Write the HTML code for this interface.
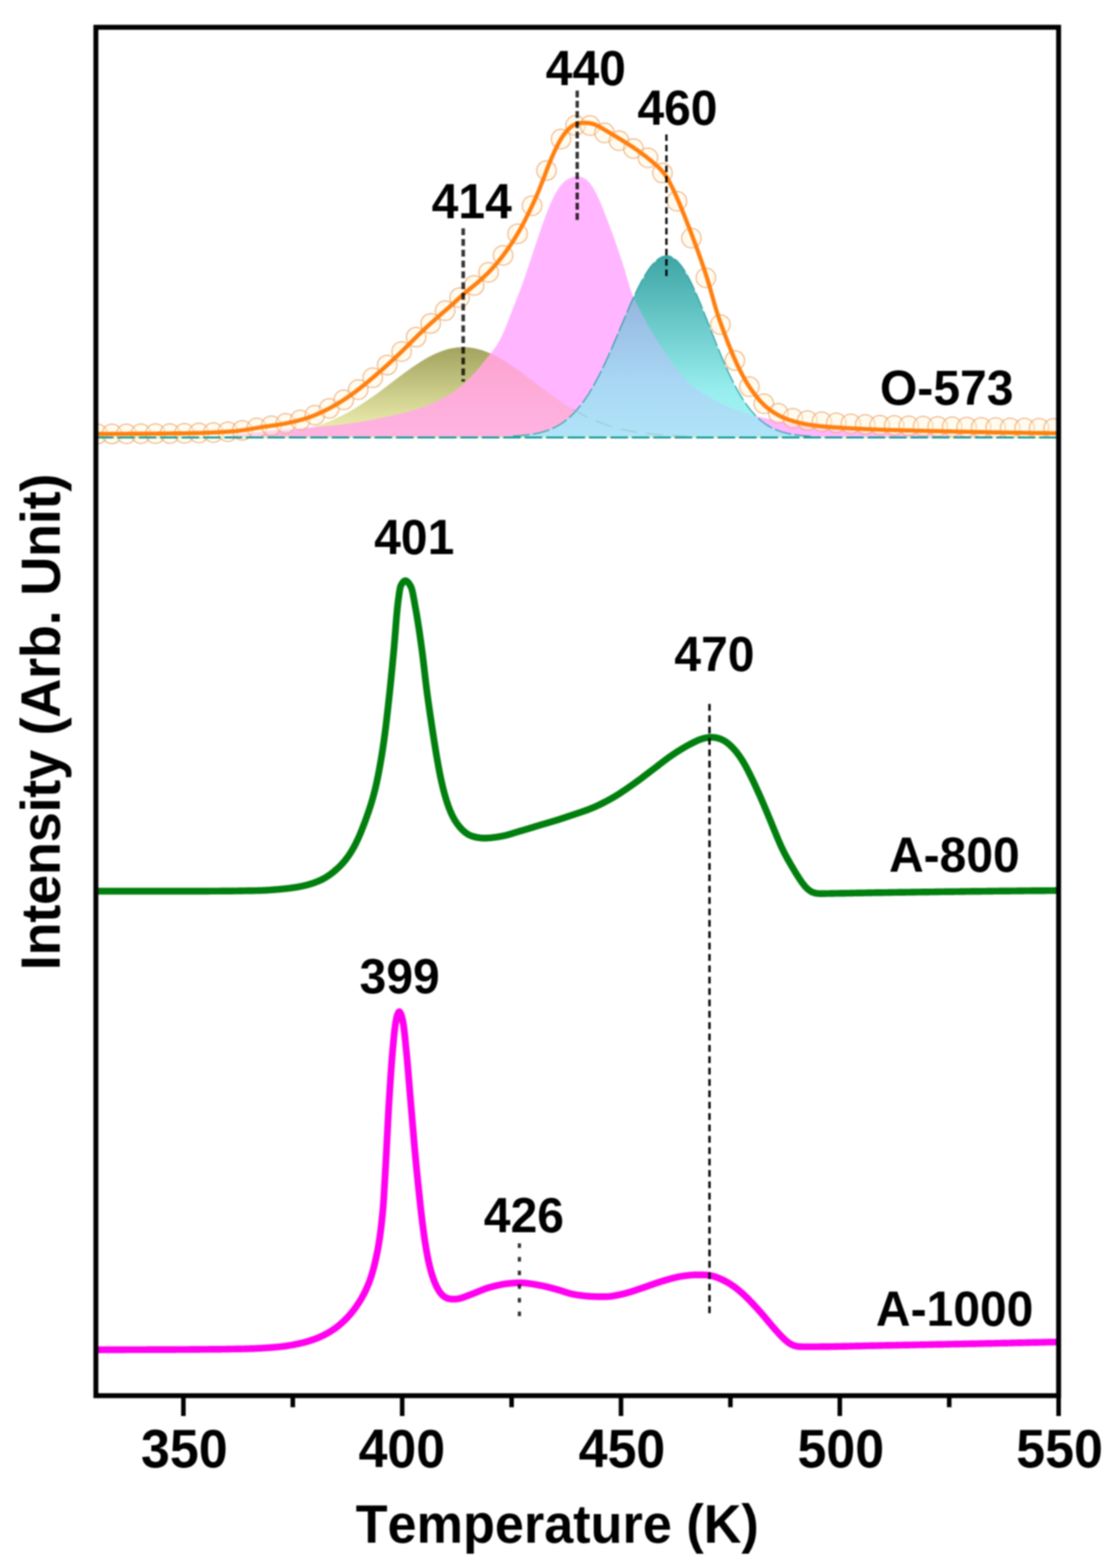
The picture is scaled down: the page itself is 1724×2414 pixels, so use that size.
<!DOCTYPE html>
<html lang="en">
<head>
<meta charset="utf-8">
<title>TPR profiles: O-573, A-800, A-1000</title>
<style>
html,body{margin:0;padding:0;background:#fff;}
body{width:1724px;height:2414px;overflow:hidden;}
svg{display:block;}
</style>
</head>
<body>
<svg width="1724" height="2414" viewBox="0 0 1724 2414">
<defs>
<linearGradient id="gOl" x1="0" y1="534" x2="0" y2="672" gradientUnits="userSpaceOnUse"><stop offset="0" stop-color="#a3a35f"/><stop offset="1" stop-color="#f3f3b4"/></linearGradient>
<linearGradient id="gTe" x1="0" y1="394" x2="0" y2="672" gradientUnits="userSpaceOnUse"><stop offset="0" stop-color="#3fa5a5"/><stop offset="0.75" stop-color="#98eeee"/><stop offset="1" stop-color="#a6f4f4"/></linearGradient>
<linearGradient id="gTP" x1="0" y1="450" x2="0" y2="672" gradientUnits="userSpaceOnUse"><stop offset="0" stop-color="#94b4dc"/><stop offset="0.6" stop-color="#a8d6f4"/><stop offset="1" stop-color="#b0e4f8"/></linearGradient>
<linearGradient id="gOP" x1="0" y1="540" x2="0" y2="672" gradientUnits="userSpaceOnUse"><stop offset="0" stop-color="#fda3d0"/><stop offset="1" stop-color="#ffb4e2"/></linearGradient>
<clipPath id="plot"><rect x="147.6" y="42.0" width="1481.9" height="2106.7"/></clipPath>
<filter id="soft" filterUnits="userSpaceOnUse" x="0" y="0" width="1724" height="2414" color-interpolation-filters="sRGB"><feGaussianBlur stdDeviation="0.8"/></filter>
</defs>
<rect width="1724" height="2414" fill="#fff"/>
<g filter="url(#soft)">
<rect width="1724" height="2414" fill="#fff"/>
<g id="peaks">
<path d="M147.6,672.5 L149.6,672.5 L151.6,672.5 L153.6,672.5 L155.6,672.5 L157.6,672.5 L159.6,672.5 L161.6,672.5 L163.6,672.5 L165.6,672.5 L167.6,672.5 L169.6,672.5 L171.6,672.5 L173.6,672.5 L175.6,672.5 L177.6,672.5 L179.6,672.5 L181.6,672.5 L183.6,672.5 L185.6,672.5 L187.6,672.5 L189.6,672.5 L191.6,672.5 L193.6,672.5 L195.6,672.5 L197.6,672.5 L199.6,672.5 L201.6,672.5 L203.6,672.5 L205.6,672.5 L207.6,672.5 L209.6,672.5 L211.6,672.5 L213.6,672.5 L215.6,672.5 L217.6,672.5 L219.6,672.5 L221.6,672.5 L223.6,672.5 L225.6,672.5 L227.6,672.5 L229.6,672.5 L231.6,672.5 L233.6,672.5 L235.6,672.5 L237.6,672.5 L239.6,672.5 L241.6,672.5 L243.6,672.5 L245.6,672.5 L247.6,672.5 L249.6,672.5 L251.6,672.5 L253.6,672.5 L255.6,672.5 L257.6,672.5 L259.6,672.5 L261.6,672.5 L263.6,672.5 L265.6,672.5 L267.6,672.5 L269.6,672.5 L271.6,672.5 L273.6,672.5 L275.6,672.4 L277.6,672.4 L279.6,672.4 L281.6,672.4 L283.6,672.4 L285.6,672.4 L287.6,672.4 L289.6,672.4 L291.6,672.4 L293.6,672.4 L295.6,672.4 L297.6,672.4 L299.6,672.4 L301.6,672.4 L303.6,672.4 L305.6,672.4 L307.6,672.3 L309.6,672.3 L311.6,672.3 L313.6,672.3 L315.6,672.3 L317.6,672.3 L319.6,672.3 L321.6,672.3 L323.6,672.2 L325.6,672.2 L327.6,672.2 L329.6,672.2 L331.6,672.2 L333.6,672.1 L335.6,672.1 L337.6,672.1 L339.6,672.1 L341.6,672.0 L343.6,672.0 L345.6,672.0 L347.6,671.9 L349.6,671.9 L351.6,671.9 L353.6,671.8 L355.6,671.8 L357.6,671.8 L359.6,671.7 L361.6,671.7 L363.6,671.6 L365.6,671.6 L367.6,671.5 L369.6,671.4 L371.6,671.4 L373.6,671.3 L375.6,671.2 L377.6,671.2 L379.6,671.1 L381.6,671.0 L383.6,670.9 L385.6,670.9 L387.6,670.8 L389.6,670.7 L391.6,670.6 L393.6,670.5 L395.6,670.4 L397.6,670.2 L399.6,670.1 L401.6,670.0 L403.6,669.9 L405.6,669.7 L407.6,669.6 L409.6,669.4 L411.6,669.3 L413.6,669.1 L415.6,668.9 L417.6,668.8 L419.6,668.6 L421.6,668.4 L423.6,668.2 L425.6,668.0 L427.6,667.7 L429.6,667.5 L431.6,667.3 L433.6,667.0 L435.6,666.8 L437.6,666.5 L439.6,666.2 L441.6,665.9 L443.6,665.6 L445.6,665.3 L447.6,665.0 L449.6,664.7 L451.6,664.3 L453.6,663.9 L455.6,663.6 L457.6,663.2 L459.6,662.8 L461.6,662.4 L463.6,661.9 L465.6,661.5 L467.6,661.0 L469.6,660.6 L471.6,660.1 L473.6,659.6 L475.6,659.1 L477.6,658.5 L479.6,658.0 L481.6,657.4 L483.6,656.8 L485.6,656.2 L487.6,655.6 L489.6,655.0 L491.6,654.3 L493.6,653.6 L495.6,652.9 L497.6,652.2 L499.6,651.5 L501.6,650.7 L503.6,650.0 L505.6,649.2 L507.6,648.4 L509.6,647.5 L511.6,646.7 L513.6,645.8 L515.6,644.9 L517.6,644.0 L519.6,643.1 L521.6,642.1 L523.6,641.2 L525.6,640.2 L527.6,639.2 L529.6,638.1 L531.6,637.1 L533.6,636.0 L535.6,634.9 L537.6,633.8 L539.6,632.7 L541.6,631.5 L543.6,630.3 L545.6,629.2 L547.6,627.9 L549.6,626.7 L551.6,625.5 L553.6,624.2 L555.6,622.9 L557.6,621.6 L559.6,620.3 L561.6,619.0 L563.6,617.6 L565.6,616.3 L567.6,614.9 L569.6,613.5 L571.6,612.1 L573.6,610.7 L575.6,609.2 L577.6,607.8 L579.6,606.4 L581.6,604.9 L583.6,603.4 L585.6,601.9 L587.6,600.4 L589.6,598.9 L591.6,597.4 L593.6,595.9 L595.6,594.4 L597.6,592.9 L599.6,591.4 L601.6,589.9 L603.6,588.3 L605.6,586.8 L607.6,585.3 L609.6,583.8 L611.6,582.3 L613.6,580.8 L615.6,579.3 L617.6,577.8 L619.6,576.3 L621.6,574.8 L623.6,573.3 L625.6,571.9 L627.6,570.4 L629.6,569.0 L631.6,567.6 L633.6,566.1 L635.6,564.8 L637.6,563.4 L639.6,562.0 L641.6,560.7 L643.6,559.4 L645.6,558.1 L647.6,556.9 L649.6,555.6 L651.6,554.4 L653.6,553.2 L655.6,552.1 L657.6,550.9 L659.6,549.8 L661.6,548.8 L663.6,547.7 L665.6,546.7 L667.6,545.8 L669.6,544.8 L671.6,543.9 L673.6,543.1 L675.6,542.3 L677.6,541.5 L679.6,540.7 L681.6,540.0 L683.6,539.3 L685.6,538.7 L687.6,538.1 L689.6,537.6 L691.6,537.1 L693.6,536.6 L695.6,536.2 L697.6,535.8 L699.6,535.5 L701.6,535.2 L703.6,535.0 L705.6,534.8 L707.6,534.7 L709.6,534.6 L711.6,534.5 L713.6,534.5 L715.6,534.5 L717.6,534.6 L719.6,534.7 L721.6,534.9 L723.6,535.1 L725.6,535.4 L727.6,535.7 L729.6,536.1 L731.6,536.5 L733.6,536.9 L735.6,537.4 L737.6,537.9 L739.6,538.5 L741.6,539.1 L743.6,539.7 L745.6,540.4 L747.6,541.2 L749.6,541.9 L751.6,542.7 L753.6,543.6 L755.6,544.5 L757.6,545.4 L759.6,546.3 L761.6,547.3 L763.6,548.4 L765.6,549.4 L767.6,550.5 L769.6,551.6 L771.6,552.8 L773.6,553.9 L775.6,555.1 L777.6,556.4 L779.6,557.6 L781.6,558.9 L783.6,560.2 L785.6,561.5 L787.6,562.9 L789.6,564.2 L791.6,565.6 L793.6,567.0 L795.6,568.4 L797.6,569.8 L799.6,571.3 L801.6,572.7 L803.6,574.2 L805.6,575.7 L807.6,577.2 L809.6,578.7 L811.6,580.2 L813.6,581.7 L815.6,583.2 L817.6,584.7 L819.6,586.2 L821.6,587.7 L823.6,589.3 L825.6,590.8 L827.6,592.3 L829.6,593.8 L831.6,595.3 L833.6,596.8 L835.6,598.3 L837.6,599.8 L839.6,601.3 L841.6,602.8 L843.6,604.3 L845.6,605.8 L847.6,607.2 L849.6,608.7 L851.6,610.1 L853.6,611.5 L855.6,612.9 L857.6,614.3 L859.6,615.7 L861.6,617.1 L863.6,618.4 L865.6,619.8 L867.6,621.1 L869.6,622.4 L871.6,623.7 L873.6,625.0 L875.6,626.2 L877.6,627.5 L879.6,628.7 L881.6,629.9 L883.6,631.0 L885.6,632.2 L887.6,633.3 L889.6,634.5 L891.6,635.6 L893.6,636.6 L895.6,637.7 L897.6,638.7 L899.6,639.8 L901.6,640.8 L903.6,641.7 L905.6,642.7 L907.6,643.6 L909.6,644.6 L911.6,645.5 L913.6,646.3 L915.6,647.2 L917.6,648.0 L919.6,648.8 L921.6,649.6 L923.6,650.4 L925.6,651.2 L927.6,651.9 L929.6,652.6 L931.6,653.3 L933.6,654.0 L935.6,654.7 L937.6,655.3 L939.6,656.0 L941.6,656.6 L943.6,657.2 L945.6,657.7 L947.6,658.3 L949.6,658.8 L951.6,659.4 L953.6,659.9 L955.6,660.4 L957.6,660.9 L959.6,661.3 L961.6,661.8 L963.6,662.2 L965.6,662.6 L967.6,663.0 L969.6,663.4 L971.6,663.8 L973.6,664.2 L975.6,664.5 L977.6,664.9 L979.6,665.2 L981.6,665.5 L983.6,665.8 L985.6,666.1 L987.6,666.4 L989.6,666.7 L991.6,666.9 L993.6,667.2 L995.6,667.4 L997.6,667.6 L999.6,667.9 L1001.6,668.1 L1003.6,668.3 L1005.6,668.5 L1007.6,668.7 L1009.6,668.9 L1011.6,669.0 L1013.6,669.2 L1015.6,669.4 L1017.6,669.5 L1019.6,669.7 L1021.6,669.8 L1023.6,669.9 L1025.6,670.1 L1027.6,670.2 L1029.6,670.3 L1031.6,670.4 L1033.6,670.5 L1035.6,670.6 L1037.6,670.7 L1039.6,670.8 L1041.6,670.9 L1043.6,671.0 L1045.6,671.1 L1047.6,671.1 L1049.6,671.2 L1051.6,671.3 L1053.6,671.4 L1055.6,671.4 L1057.6,671.5 L1059.6,671.5 L1061.6,671.6 L1063.6,671.6 L1065.6,671.7 L1067.6,671.7 L1069.6,671.8 L1071.6,671.8 L1073.6,671.9 L1075.6,671.9 L1077.6,671.9 L1079.6,672.0 L1081.6,672.0 L1083.6,672.0 L1085.6,672.1 L1087.6,672.1 L1089.6,672.1 L1091.6,672.1 L1093.6,672.2 L1095.6,672.2 L1097.6,672.2 L1099.6,672.2 L1101.6,672.2 L1103.6,672.2 L1105.6,672.3 L1107.6,672.3 L1109.6,672.3 L1111.6,672.3 L1113.6,672.3 L1115.6,672.3 L1117.6,672.3 L1119.6,672.4 L1121.6,672.4 L1123.6,672.4 L1125.6,672.4 L1127.6,672.4 L1129.6,672.4 L1131.6,672.4 L1133.6,672.4 L1135.6,672.4 L1137.6,672.4 L1139.6,672.4 L1141.6,672.4 L1143.6,672.4 L1145.6,672.4 L1147.6,672.4 L1149.6,672.4 L1151.6,672.5 L1153.6,672.5 L1155.6,672.5 L1157.6,672.5 L1159.6,672.5 L1161.6,672.5 L1163.6,672.5 L1165.6,672.5 L1167.6,672.5 L1169.6,672.5 L1171.6,672.5 L1173.6,672.5 L1175.6,672.5 L1177.6,672.5 L1179.6,672.5 L1181.6,672.5 L1183.6,672.5 L1185.6,672.5 L1187.6,672.5 L1189.6,672.5 L1191.6,672.5 L1193.6,672.5 L1195.6,672.5 L1197.6,672.5 L1199.6,672.5 L1201.6,672.5 L1203.6,672.5 L1205.6,672.5 L1207.6,672.5 L1209.6,672.5 L1211.6,672.5 L1213.6,672.5 L1215.6,672.5 L1217.6,672.5 L1219.6,672.5 L1221.6,672.5 L1223.6,672.5 L1225.6,672.5 L1227.6,672.5 L1229.6,672.5 L1231.6,672.5 L1233.6,672.5 L1235.6,672.5 L1237.6,672.5 L1239.6,672.5 L1241.6,672.5 L1243.6,672.5 L1245.6,672.5 L1247.6,672.5 L1249.6,672.5 L1251.6,672.5 L1253.6,672.5 L1255.6,672.5 L1257.6,672.5 L1259.6,672.5 L1261.6,672.5 L1263.6,672.5 L1265.6,672.5 L1267.6,672.5 L1269.6,672.5 L1271.6,672.5 L1273.6,672.5 L1275.6,672.5 L1277.6,672.5 L1279.6,672.5 L1281.6,672.5 L1283.6,672.5 L1285.6,672.5 L1287.6,672.5 L1289.6,672.5 L1291.6,672.5 L1293.6,672.5 L1295.6,672.5 L1297.6,672.5 L1299.6,672.5 L1301.6,672.5 L1303.6,672.5 L1305.6,672.5 L1307.6,672.5 L1309.6,672.5 L1311.6,672.5 L1313.6,672.5 L1315.6,672.5 L1317.6,672.5 L1319.6,672.5 L1321.6,672.5 L1323.6,672.5 L1325.6,672.5 L1327.6,672.5 L1329.6,672.5 L1331.6,672.5 L1333.6,672.5 L1335.6,672.5 L1337.6,672.5 L1339.6,672.5 L1341.6,672.5 L1343.6,672.5 L1345.6,672.5 L1347.6,672.5 L1349.6,672.5 L1351.6,672.5 L1353.6,672.5 L1355.6,672.5 L1357.6,672.5 L1359.6,672.5 L1361.6,672.5 L1363.6,672.5 L1365.6,672.5 L1367.6,672.5 L1369.6,672.5 L1371.6,672.5 L1373.6,672.5 L1375.6,672.5 L1377.6,672.5 L1379.6,672.5 L1381.6,672.5 L1383.6,672.5 L1385.6,672.5 L1387.6,672.5 L1389.6,672.5 L1391.6,672.5 L1393.6,672.5 L1395.6,672.5 L1397.6,672.5 L1399.6,672.5 L1401.6,672.5 L1403.6,672.5 L1405.6,672.5 L1407.6,672.5 L1409.6,672.5 L1411.6,672.5 L1413.6,672.5 L1415.6,672.5 L1417.6,672.5 L1419.6,672.5 L1421.6,672.5 L1423.6,672.5 L1425.6,672.5 L1427.6,672.5 L1429.6,672.5 L1431.6,672.5 L1433.6,672.5 L1435.6,672.5 L1437.6,672.5 L1439.6,672.5 L1441.6,672.5 L1443.6,672.5 L1445.6,672.5 L1447.6,672.5 L1449.6,672.5 L1451.6,672.5 L1453.6,672.5 L1455.6,672.5 L1457.6,672.5 L1459.6,672.5 L1461.6,672.5 L1463.6,672.5 L1465.6,672.5 L1467.6,672.5 L1469.6,672.5 L1471.6,672.5 L1473.6,672.5 L1475.6,672.5 L1477.6,672.5 L1479.6,672.5 L1481.6,672.5 L1483.6,672.5 L1485.6,672.5 L1487.6,672.5 L1489.6,672.5 L1491.6,672.5 L1493.6,672.5 L1495.6,672.5 L1497.6,672.5 L1499.6,672.5 L1501.6,672.5 L1503.6,672.5 L1505.6,672.5 L1507.6,672.5 L1509.6,672.5 L1511.6,672.5 L1513.6,672.5 L1515.6,672.5 L1517.6,672.5 L1519.6,672.5 L1521.6,672.5 L1523.6,672.5 L1525.6,672.5 L1527.6,672.5 L1529.6,672.5 L1531.6,672.5 L1533.6,672.5 L1535.6,672.5 L1537.6,672.5 L1539.6,672.5 L1541.6,672.5 L1543.6,672.5 L1545.6,672.5 L1547.6,672.5 L1549.6,672.5 L1551.6,672.5 L1553.6,672.5 L1555.6,672.5 L1557.6,672.5 L1559.6,672.5 L1561.6,672.5 L1563.6,672.5 L1565.6,672.5 L1567.6,672.5 L1569.6,672.5 L1571.6,672.5 L1573.6,672.5 L1575.6,672.5 L1577.6,672.5 L1579.6,672.5 L1581.6,672.5 L1583.6,672.5 L1585.6,672.5 L1587.6,672.5 L1589.6,672.5 L1591.6,672.5 L1593.6,672.5 L1595.6,672.5 L1597.6,672.5 L1599.6,672.5 L1601.6,672.5 L1603.6,672.5 L1605.6,672.5 L1607.6,672.5 L1609.6,672.5 L1611.6,672.5 L1613.6,672.5 L1615.6,672.5 L1617.6,672.5 L1619.6,672.5 L1621.6,672.5 L1623.6,672.5 L1625.6,672.5 L1627.6,672.5 L1627.6,672.5 L147.6,672.5 Z" fill="url(#gOl)"/>
<path d="M147.6,672.5 L149.6,672.5 L151.6,672.5 L153.6,672.5 L155.6,672.5 L157.6,672.5 L159.6,672.5 L161.6,672.5 L163.6,672.5 L165.6,672.5 L167.6,672.5 L169.6,672.5 L171.6,672.5 L173.6,672.5 L175.6,672.5 L177.6,672.5 L179.6,672.5 L181.6,672.5 L183.6,672.5 L185.6,672.5 L187.6,672.5 L189.6,672.5 L191.6,672.5 L193.6,672.5 L195.6,672.5 L197.6,672.5 L199.6,672.5 L201.6,672.5 L203.6,672.5 L205.6,672.5 L207.6,672.5 L209.6,672.5 L211.6,672.5 L213.6,672.5 L215.6,672.5 L217.6,672.5 L219.6,672.5 L221.6,672.5 L223.6,672.5 L225.6,672.5 L227.6,672.5 L229.6,672.5 L231.6,672.5 L233.6,672.5 L235.6,672.5 L237.6,672.5 L239.6,672.5 L241.6,672.5 L243.6,672.5 L245.6,672.5 L247.6,672.5 L249.6,672.5 L251.6,672.5 L253.6,672.5 L255.6,672.5 L257.6,672.5 L259.6,672.5 L261.6,672.5 L263.6,672.5 L265.6,672.5 L267.6,672.5 L269.6,672.5 L271.6,672.5 L273.6,672.5 L275.6,672.5 L277.6,672.5 L279.6,672.5 L281.6,672.5 L283.6,672.5 L285.6,672.5 L287.6,672.5 L289.6,672.5 L291.6,672.5 L293.6,672.5 L295.6,672.5 L297.6,672.5 L299.6,672.5 L301.6,672.5 L303.6,672.5 L305.6,672.5 L307.6,672.4 L309.6,672.4 L311.6,672.4 L313.6,672.3 L315.6,672.3 L317.6,672.3 L319.6,672.2 L321.6,672.2 L323.6,672.1 L325.6,672.0 L327.6,672.0 L329.6,671.9 L331.6,671.8 L333.6,671.7 L335.6,671.7 L337.6,671.6 L339.6,671.5 L341.6,671.4 L343.6,671.3 L345.6,671.1 L347.6,671.0 L349.6,670.8 L351.6,670.6 L353.6,670.4 L355.6,670.2 L357.6,669.9 L359.6,669.7 L361.6,669.5 L363.6,669.2 L365.6,669.0 L367.6,668.8 L369.6,668.5 L371.6,668.3 L373.6,668.1 L375.6,667.8 L377.6,667.6 L379.6,667.3 L381.6,667.1 L383.6,666.8 L385.6,666.5 L387.6,666.3 L389.6,666.0 L391.6,665.8 L393.6,665.5 L395.6,665.3 L397.6,665.1 L399.6,664.9 L401.6,664.7 L403.6,664.5 L405.6,664.3 L407.6,664.1 L409.6,663.9 L411.6,663.7 L413.6,663.6 L415.6,663.4 L417.6,663.3 L419.6,663.1 L421.6,662.9 L423.6,662.8 L425.6,662.6 L427.6,662.5 L429.6,662.3 L431.6,662.1 L433.6,662.0 L435.6,661.8 L437.6,661.6 L439.6,661.5 L441.6,661.3 L443.6,661.1 L445.6,661.0 L447.6,660.8 L449.6,660.6 L451.6,660.4 L453.6,660.3 L455.6,660.1 L457.6,659.9 L459.6,659.8 L461.6,659.6 L463.6,659.4 L465.6,659.2 L467.6,659.1 L469.6,658.9 L471.6,658.7 L473.6,658.5 L475.6,658.4 L477.6,658.2 L479.6,658.0 L481.6,657.8 L483.6,657.7 L485.6,657.5 L487.6,657.3 L489.6,657.2 L491.6,657.0 L493.6,656.8 L495.6,656.6 L497.6,656.5 L499.6,656.3 L501.6,656.1 L503.6,655.9 L505.6,655.7 L507.6,655.5 L509.6,655.3 L511.6,655.1 L513.6,654.9 L515.6,654.7 L517.6,654.5 L519.6,654.2 L521.6,654.0 L523.6,653.8 L525.6,653.5 L527.6,653.3 L529.6,653.1 L531.6,652.8 L533.6,652.5 L535.6,652.3 L537.6,652.0 L539.6,651.7 L541.6,651.5 L543.6,651.2 L545.6,650.9 L547.6,650.6 L549.6,650.3 L551.6,650.0 L553.6,649.7 L555.6,649.4 L557.6,649.0 L559.6,648.7 L561.6,648.4 L563.6,648.0 L565.6,647.6 L567.6,647.3 L569.6,646.9 L571.6,646.5 L573.6,646.2 L575.6,645.8 L577.6,645.4 L579.6,645.0 L581.6,644.6 L583.6,644.2 L585.6,643.8 L587.6,643.4 L589.6,643.0 L591.6,642.6 L593.6,642.1 L595.6,641.7 L597.6,641.2 L599.6,640.8 L601.6,640.4 L603.6,639.9 L605.6,639.5 L607.6,639.0 L609.6,638.6 L611.6,638.1 L613.6,637.7 L615.6,637.2 L617.6,636.8 L619.6,636.3 L621.6,635.8 L623.6,635.3 L625.6,634.8 L627.6,634.2 L629.6,633.7 L631.6,633.1 L633.6,632.5 L635.6,631.9 L637.6,631.3 L639.6,630.7 L641.6,630.1 L643.6,629.4 L645.6,628.8 L647.6,628.1 L649.6,627.5 L651.6,626.8 L653.6,626.0 L655.6,625.3 L657.6,624.5 L659.6,623.7 L661.6,622.9 L663.6,622.0 L665.6,621.1 L667.6,620.2 L669.6,619.2 L671.6,618.2 L673.6,617.2 L675.6,616.2 L677.6,615.2 L679.6,614.2 L681.6,613.1 L683.6,612.1 L685.6,611.0 L687.6,610.0 L689.6,608.9 L691.6,607.7 L693.6,606.5 L695.6,605.3 L697.6,604.1 L699.6,602.7 L701.6,601.3 L703.6,599.8 L705.6,598.2 L707.6,596.6 L709.6,594.9 L711.6,593.2 L713.6,591.4 L715.6,589.5 L717.6,587.6 L719.6,585.7 L721.6,583.7 L723.6,581.7 L725.6,579.6 L727.6,577.5 L729.6,575.3 L731.6,573.1 L733.6,570.9 L735.6,568.6 L737.6,566.3 L739.6,563.9 L741.6,561.5 L743.6,559.0 L745.6,556.5 L747.6,554.0 L749.6,551.5 L751.6,549.0 L753.6,546.5 L755.6,543.9 L757.6,541.3 L759.6,538.7 L761.6,535.9 L763.6,533.0 L765.6,529.9 L767.6,526.5 L769.6,522.9 L771.6,519.0 L773.6,514.8 L775.6,510.3 L777.6,505.5 L779.6,500.6 L781.6,495.5 L783.6,490.4 L785.6,485.2 L787.6,480.0 L789.6,474.7 L791.6,469.5 L793.6,464.4 L795.6,459.3 L797.6,454.2 L799.6,449.2 L801.6,444.0 L803.6,438.7 L805.6,433.1 L807.6,427.4 L809.6,421.4 L811.6,415.4 L813.6,409.4 L815.6,403.4 L817.6,397.4 L819.6,391.4 L821.6,385.3 L823.6,379.3 L825.6,373.3 L827.6,367.3 L829.6,361.4 L831.6,355.5 L833.6,349.7 L835.6,344.0 L837.6,338.4 L839.6,333.0 L841.6,327.7 L843.6,322.6 L845.6,317.8 L847.6,313.1 L849.6,308.7 L851.6,304.5 L853.6,300.6 L855.6,296.9 L857.6,293.5 L859.6,290.4 L861.6,287.6 L863.6,285.0 L865.6,282.7 L867.6,280.6 L869.6,278.9 L871.6,277.3 L873.6,276.0 L875.6,274.9 L877.6,274.0 L879.6,273.2 L881.6,272.6 L883.6,272.1 L885.6,271.8 L887.6,271.6 L889.6,271.7 L891.6,271.9 L893.6,272.3 L895.6,272.9 L897.6,273.7 L899.6,274.7 L901.6,276.0 L903.6,277.5 L905.6,279.4 L907.6,281.6 L909.6,284.2 L911.6,287.1 L913.6,290.3 L915.6,293.9 L917.6,297.7 L919.6,301.8 L921.6,306.1 L923.6,310.6 L925.6,315.3 L927.6,320.2 L929.6,325.2 L931.6,330.4 L933.6,335.5 L935.6,340.7 L937.6,345.9 L939.6,351.2 L941.6,356.5 L943.6,362.0 L945.6,367.6 L947.6,373.4 L949.6,379.3 L951.6,385.2 L953.6,391.0 L955.6,396.9 L957.6,402.7 L959.6,408.9 L961.6,415.3 L963.6,422.2 L965.6,429.2 L967.6,436.2 L969.6,442.9 L971.6,448.9 L973.6,454.2 L975.6,458.8 L977.6,463.0 L979.6,466.9 L981.6,470.7 L983.6,474.5 L985.6,478.4 L987.6,482.4 L989.6,486.3 L991.6,490.2 L993.6,494.1 L995.6,497.8 L997.6,501.4 L999.6,504.8 L1001.6,508.2 L1003.6,511.5 L1005.6,514.7 L1007.6,517.9 L1009.6,521.1 L1011.6,524.2 L1013.6,527.3 L1015.6,530.4 L1017.6,533.5 L1019.6,536.5 L1021.6,539.6 L1023.6,542.6 L1025.6,545.6 L1027.6,548.6 L1029.6,551.5 L1031.6,554.4 L1033.6,557.2 L1035.6,560.0 L1037.6,562.7 L1039.6,565.4 L1041.6,568.1 L1043.6,570.7 L1045.6,573.2 L1047.6,575.7 L1049.6,578.1 L1051.6,580.5 L1053.6,582.7 L1055.6,584.9 L1057.6,586.9 L1059.6,588.8 L1061.6,590.6 L1063.6,592.3 L1065.6,593.9 L1067.6,595.5 L1069.6,597.0 L1071.6,598.5 L1073.6,600.0 L1075.6,601.4 L1077.6,602.7 L1079.6,604.1 L1081.6,605.4 L1083.6,606.7 L1085.6,607.9 L1087.6,609.1 L1089.6,610.3 L1091.6,611.5 L1093.6,612.7 L1095.6,613.8 L1097.6,614.9 L1099.6,616.0 L1101.6,617.1 L1103.6,618.2 L1105.6,619.2 L1107.6,620.3 L1109.6,621.3 L1111.6,622.3 L1113.6,623.2 L1115.6,624.1 L1117.6,625.1 L1119.6,625.9 L1121.6,626.8 L1123.6,627.6 L1125.6,628.4 L1127.6,629.1 L1129.6,629.9 L1131.6,630.6 L1133.6,631.3 L1135.6,632.0 L1137.6,632.7 L1139.6,633.4 L1141.6,634.0 L1143.6,634.7 L1145.6,635.3 L1147.6,635.9 L1149.6,636.5 L1151.6,637.1 L1153.6,637.7 L1155.6,638.3 L1157.6,638.9 L1159.6,639.4 L1161.6,640.0 L1163.6,640.5 L1165.6,641.0 L1167.6,641.5 L1169.6,642.0 L1171.6,642.4 L1173.6,642.9 L1175.6,643.4 L1177.6,643.8 L1179.6,644.2 L1181.6,644.7 L1183.6,645.1 L1185.6,645.5 L1187.6,645.9 L1189.6,646.3 L1191.6,646.8 L1193.6,647.2 L1195.6,647.6 L1197.6,648.0 L1199.6,648.4 L1201.6,648.9 L1203.6,649.3 L1205.6,649.7 L1207.6,650.2 L1209.6,650.6 L1211.6,651.0 L1213.6,651.5 L1215.6,651.9 L1217.6,652.4 L1219.6,652.8 L1221.6,653.2 L1223.6,653.6 L1225.6,654.0 L1227.6,654.4 L1229.6,654.8 L1231.6,655.1 L1233.6,655.4 L1235.6,655.8 L1237.6,656.1 L1239.6,656.3 L1241.6,656.6 L1243.6,656.9 L1245.6,657.1 L1247.6,657.4 L1249.6,657.6 L1251.6,657.9 L1253.6,658.1 L1255.6,658.4 L1257.6,658.6 L1259.6,658.8 L1261.6,659.0 L1263.6,659.2 L1265.6,659.4 L1267.6,659.6 L1269.6,659.8 L1271.6,660.0 L1273.6,660.2 L1275.6,660.4 L1277.6,660.6 L1279.6,660.8 L1281.6,661.0 L1283.6,661.1 L1285.6,661.3 L1287.6,661.5 L1289.6,661.7 L1291.6,661.8 L1293.6,662.0 L1295.6,662.1 L1297.6,662.3 L1299.6,662.5 L1301.6,662.6 L1303.6,662.8 L1305.6,662.9 L1307.6,663.1 L1309.6,663.2 L1311.6,663.4 L1313.6,663.5 L1315.6,663.7 L1317.6,663.8 L1319.6,663.9 L1321.6,664.1 L1323.6,664.2 L1325.6,664.3 L1327.6,664.5 L1329.6,664.6 L1331.6,664.7 L1333.6,664.9 L1335.6,665.0 L1337.6,665.1 L1339.6,665.2 L1341.6,665.3 L1343.6,665.5 L1345.6,665.6 L1347.6,665.7 L1349.6,665.8 L1351.6,665.9 L1353.6,666.0 L1355.6,666.1 L1357.6,666.2 L1359.6,666.3 L1361.6,666.4 L1363.6,666.5 L1365.6,666.6 L1367.6,666.6 L1369.6,666.7 L1371.6,666.8 L1373.6,666.9 L1375.6,667.0 L1377.6,667.1 L1379.6,667.2 L1381.6,667.2 L1383.6,667.3 L1385.6,667.4 L1387.6,667.5 L1389.6,667.6 L1391.6,667.6 L1393.6,667.7 L1395.6,667.8 L1397.6,667.9 L1399.6,667.9 L1401.6,668.0 L1403.6,668.1 L1405.6,668.2 L1407.6,668.2 L1409.6,668.3 L1411.6,668.4 L1413.6,668.4 L1415.6,668.5 L1417.6,668.6 L1419.6,668.6 L1421.6,668.7 L1423.6,668.7 L1425.6,668.8 L1427.6,668.9 L1429.6,668.9 L1431.6,669.0 L1433.6,669.0 L1435.6,669.1 L1437.6,669.2 L1439.6,669.2 L1441.6,669.3 L1443.6,669.3 L1445.6,669.4 L1447.6,669.4 L1449.6,669.5 L1451.6,669.5 L1453.6,669.6 L1455.6,669.6 L1457.6,669.7 L1459.6,669.7 L1461.6,669.8 L1463.6,669.8 L1465.6,669.9 L1467.6,669.9 L1469.6,670.0 L1471.6,670.0 L1473.6,670.1 L1475.6,670.1 L1477.6,670.2 L1479.6,670.2 L1481.6,670.3 L1483.6,670.3 L1485.6,670.4 L1487.6,670.4 L1489.6,670.4 L1491.6,670.5 L1493.6,670.5 L1495.6,670.6 L1497.6,670.6 L1499.6,670.7 L1501.6,670.7 L1503.6,670.7 L1505.6,670.8 L1507.6,670.8 L1509.6,670.9 L1511.6,670.9 L1513.6,670.9 L1515.6,671.0 L1517.6,671.0 L1519.6,671.0 L1521.6,671.1 L1523.6,671.1 L1525.6,671.1 L1527.6,671.2 L1529.6,671.2 L1531.6,671.2 L1533.6,671.3 L1535.6,671.3 L1537.6,671.3 L1539.6,671.4 L1541.6,671.4 L1543.6,671.4 L1545.6,671.4 L1547.6,671.5 L1549.6,671.5 L1551.6,671.5 L1553.6,671.5 L1555.6,671.6 L1557.6,671.6 L1559.6,671.6 L1561.6,671.6 L1563.6,671.7 L1565.6,671.7 L1567.6,671.7 L1569.6,671.7 L1571.6,671.7 L1573.6,671.8 L1575.6,671.8 L1577.6,671.8 L1579.6,671.8 L1581.6,671.9 L1583.6,671.9 L1585.6,671.9 L1587.6,671.9 L1589.6,671.9 L1591.6,671.9 L1593.6,672.0 L1595.6,672.0 L1597.6,672.0 L1599.6,672.0 L1601.6,672.0 L1603.6,672.0 L1605.6,672.1 L1607.6,672.1 L1609.6,672.1 L1611.6,672.1 L1613.6,672.1 L1615.6,672.1 L1617.6,672.1 L1619.6,672.2 L1621.6,672.2 L1623.6,672.2 L1625.6,672.2 L1627.6,672.2 L1627.6,672.5 L147.6,672.5 Z" fill="#ffb5ff"/>
<path d="M147.6,672.5 L149.6,672.5 L151.6,672.5 L153.6,672.5 L155.6,672.5 L157.6,672.5 L159.6,672.5 L161.6,672.5 L163.6,672.5 L165.6,672.5 L167.6,672.5 L169.6,672.5 L171.6,672.5 L173.6,672.5 L175.6,672.5 L177.6,672.5 L179.6,672.5 L181.6,672.5 L183.6,672.5 L185.6,672.5 L187.6,672.5 L189.6,672.5 L191.6,672.5 L193.6,672.5 L195.6,672.5 L197.6,672.5 L199.6,672.5 L201.6,672.5 L203.6,672.5 L205.6,672.5 L207.6,672.5 L209.6,672.5 L211.6,672.5 L213.6,672.5 L215.6,672.5 L217.6,672.5 L219.6,672.5 L221.6,672.5 L223.6,672.5 L225.6,672.5 L227.6,672.5 L229.6,672.5 L231.6,672.5 L233.6,672.5 L235.6,672.5 L237.6,672.5 L239.6,672.5 L241.6,672.5 L243.6,672.5 L245.6,672.5 L247.6,672.5 L249.6,672.5 L251.6,672.5 L253.6,672.5 L255.6,672.5 L257.6,672.5 L259.6,672.5 L261.6,672.5 L263.6,672.5 L265.6,672.5 L267.6,672.5 L269.6,672.5 L271.6,672.5 L273.6,672.5 L275.6,672.5 L277.6,672.5 L279.6,672.5 L281.6,672.5 L283.6,672.5 L285.6,672.5 L287.6,672.5 L289.6,672.5 L291.6,672.5 L293.6,672.5 L295.6,672.5 L297.6,672.5 L299.6,672.5 L301.6,672.5 L303.6,672.5 L305.6,672.5 L307.6,672.4 L309.6,672.4 L311.6,672.4 L313.6,672.3 L315.6,672.3 L317.6,672.3 L319.6,672.3 L321.6,672.3 L323.6,672.2 L325.6,672.2 L327.6,672.2 L329.6,672.2 L331.6,672.2 L333.6,672.1 L335.6,672.1 L337.6,672.1 L339.6,672.1 L341.6,672.0 L343.6,672.0 L345.6,672.0 L347.6,671.9 L349.6,671.9 L351.6,671.9 L353.6,671.8 L355.6,671.8 L357.6,671.8 L359.6,671.7 L361.6,671.7 L363.6,671.6 L365.6,671.6 L367.6,671.5 L369.6,671.4 L371.6,671.4 L373.6,671.3 L375.6,671.2 L377.6,671.2 L379.6,671.1 L381.6,671.0 L383.6,670.9 L385.6,670.9 L387.6,670.8 L389.6,670.7 L391.6,670.6 L393.6,670.5 L395.6,670.4 L397.6,670.2 L399.6,670.1 L401.6,670.0 L403.6,669.9 L405.6,669.7 L407.6,669.6 L409.6,669.4 L411.6,669.3 L413.6,669.1 L415.6,668.9 L417.6,668.8 L419.6,668.6 L421.6,668.4 L423.6,668.2 L425.6,668.0 L427.6,667.7 L429.6,667.5 L431.6,667.3 L433.6,667.0 L435.6,666.8 L437.6,666.5 L439.6,666.2 L441.6,665.9 L443.6,665.6 L445.6,665.3 L447.6,665.0 L449.6,664.7 L451.6,664.3 L453.6,663.9 L455.6,663.6 L457.6,663.2 L459.6,662.8 L461.6,662.4 L463.6,661.9 L465.6,661.5 L467.6,661.0 L469.6,660.6 L471.6,660.1 L473.6,659.6 L475.6,659.1 L477.6,658.5 L479.6,658.0 L481.6,657.8 L483.6,657.7 L485.6,657.5 L487.6,657.3 L489.6,657.2 L491.6,657.0 L493.6,656.8 L495.6,656.6 L497.6,656.5 L499.6,656.3 L501.6,656.1 L503.6,655.9 L505.6,655.7 L507.6,655.5 L509.6,655.3 L511.6,655.1 L513.6,654.9 L515.6,654.7 L517.6,654.5 L519.6,654.2 L521.6,654.0 L523.6,653.8 L525.6,653.5 L527.6,653.3 L529.6,653.1 L531.6,652.8 L533.6,652.5 L535.6,652.3 L537.6,652.0 L539.6,651.7 L541.6,651.5 L543.6,651.2 L545.6,650.9 L547.6,650.6 L549.6,650.3 L551.6,650.0 L553.6,649.7 L555.6,649.4 L557.6,649.0 L559.6,648.7 L561.6,648.4 L563.6,648.0 L565.6,647.6 L567.6,647.3 L569.6,646.9 L571.6,646.5 L573.6,646.2 L575.6,645.8 L577.6,645.4 L579.6,645.0 L581.6,644.6 L583.6,644.2 L585.6,643.8 L587.6,643.4 L589.6,643.0 L591.6,642.6 L593.6,642.1 L595.6,641.7 L597.6,641.2 L599.6,640.8 L601.6,640.4 L603.6,639.9 L605.6,639.5 L607.6,639.0 L609.6,638.6 L611.6,638.1 L613.6,637.7 L615.6,637.2 L617.6,636.8 L619.6,636.3 L621.6,635.8 L623.6,635.3 L625.6,634.8 L627.6,634.2 L629.6,633.7 L631.6,633.1 L633.6,632.5 L635.6,631.9 L637.6,631.3 L639.6,630.7 L641.6,630.1 L643.6,629.4 L645.6,628.8 L647.6,628.1 L649.6,627.5 L651.6,626.8 L653.6,626.0 L655.6,625.3 L657.6,624.5 L659.6,623.7 L661.6,622.9 L663.6,622.0 L665.6,621.1 L667.6,620.2 L669.6,619.2 L671.6,618.2 L673.6,617.2 L675.6,616.2 L677.6,615.2 L679.6,614.2 L681.6,613.1 L683.6,612.1 L685.6,611.0 L687.6,610.0 L689.6,608.9 L691.6,607.7 L693.6,606.5 L695.6,605.3 L697.6,604.1 L699.6,602.7 L701.6,601.3 L703.6,599.8 L705.6,598.2 L707.6,596.6 L709.6,594.9 L711.6,593.2 L713.6,591.4 L715.6,589.5 L717.6,587.6 L719.6,585.7 L721.6,583.7 L723.6,581.7 L725.6,579.6 L727.6,577.5 L729.6,575.3 L731.6,573.1 L733.6,570.9 L735.6,568.6 L737.6,566.3 L739.6,563.9 L741.6,561.5 L743.6,559.0 L745.6,556.5 L747.6,554.0 L749.6,551.5 L751.6,549.0 L753.6,546.5 L755.6,544.5 L757.6,545.4 L759.6,546.3 L761.6,547.3 L763.6,548.4 L765.6,549.4 L767.6,550.5 L769.6,551.6 L771.6,552.8 L773.6,553.9 L775.6,555.1 L777.6,556.4 L779.6,557.6 L781.6,558.9 L783.6,560.2 L785.6,561.5 L787.6,562.9 L789.6,564.2 L791.6,565.6 L793.6,567.0 L795.6,568.4 L797.6,569.8 L799.6,571.3 L801.6,572.7 L803.6,574.2 L805.6,575.7 L807.6,577.2 L809.6,578.7 L811.6,580.2 L813.6,581.7 L815.6,583.2 L817.6,584.7 L819.6,586.2 L821.6,587.7 L823.6,589.3 L825.6,590.8 L827.6,592.3 L829.6,593.8 L831.6,595.3 L833.6,596.8 L835.6,598.3 L837.6,599.8 L839.6,601.3 L841.6,602.8 L843.6,604.3 L845.6,605.8 L847.6,607.2 L849.6,608.7 L851.6,610.1 L853.6,611.5 L855.6,612.9 L857.6,614.3 L859.6,615.7 L861.6,617.1 L863.6,618.4 L865.6,619.8 L867.6,621.1 L869.6,622.4 L871.6,623.7 L873.6,625.0 L875.6,626.2 L877.6,627.5 L879.6,628.7 L881.6,629.9 L883.6,631.0 L885.6,632.2 L887.6,633.3 L889.6,634.5 L891.6,635.6 L893.6,636.6 L895.6,637.7 L897.6,638.7 L899.6,639.8 L901.6,640.8 L903.6,641.7 L905.6,642.7 L907.6,643.6 L909.6,644.6 L911.6,645.5 L913.6,646.3 L915.6,647.2 L917.6,648.0 L919.6,648.8 L921.6,649.6 L923.6,650.4 L925.6,651.2 L927.6,651.9 L929.6,652.6 L931.6,653.3 L933.6,654.0 L935.6,654.7 L937.6,655.3 L939.6,656.0 L941.6,656.6 L943.6,657.2 L945.6,657.7 L947.6,658.3 L949.6,658.8 L951.6,659.4 L953.6,659.9 L955.6,660.4 L957.6,660.9 L959.6,661.3 L961.6,661.8 L963.6,662.2 L965.6,662.6 L967.6,663.0 L969.6,663.4 L971.6,663.8 L973.6,664.2 L975.6,664.5 L977.6,664.9 L979.6,665.2 L981.6,665.5 L983.6,665.8 L985.6,666.1 L987.6,666.4 L989.6,666.7 L991.6,666.9 L993.6,667.2 L995.6,667.4 L997.6,667.6 L999.6,667.9 L1001.6,668.1 L1003.6,668.3 L1005.6,668.5 L1007.6,668.7 L1009.6,668.9 L1011.6,669.0 L1013.6,669.2 L1015.6,669.4 L1017.6,669.5 L1019.6,669.7 L1021.6,669.8 L1023.6,669.9 L1025.6,670.1 L1027.6,670.2 L1029.6,670.3 L1031.6,670.4 L1033.6,670.5 L1035.6,670.6 L1037.6,670.7 L1039.6,670.8 L1041.6,670.9 L1043.6,671.0 L1045.6,671.1 L1047.6,671.1 L1049.6,671.2 L1051.6,671.3 L1053.6,671.4 L1055.6,671.4 L1057.6,671.5 L1059.6,671.5 L1061.6,671.6 L1063.6,671.6 L1065.6,671.7 L1067.6,671.7 L1069.6,671.8 L1071.6,671.8 L1073.6,671.9 L1075.6,671.9 L1077.6,671.9 L1079.6,672.0 L1081.6,672.0 L1083.6,672.0 L1085.6,672.1 L1087.6,672.1 L1089.6,672.1 L1091.6,672.1 L1093.6,672.2 L1095.6,672.2 L1097.6,672.2 L1099.6,672.2 L1101.6,672.2 L1103.6,672.2 L1105.6,672.3 L1107.6,672.3 L1109.6,672.3 L1111.6,672.3 L1113.6,672.3 L1115.6,672.3 L1117.6,672.3 L1119.6,672.4 L1121.6,672.4 L1123.6,672.4 L1125.6,672.4 L1127.6,672.4 L1129.6,672.4 L1131.6,672.4 L1133.6,672.4 L1135.6,672.4 L1137.6,672.4 L1139.6,672.4 L1141.6,672.4 L1143.6,672.4 L1145.6,672.4 L1147.6,672.4 L1149.6,672.4 L1151.6,672.5 L1153.6,672.5 L1155.6,672.5 L1157.6,672.5 L1159.6,672.5 L1161.6,672.5 L1163.6,672.5 L1165.6,672.5 L1167.6,672.5 L1169.6,672.5 L1171.6,672.5 L1173.6,672.5 L1175.6,672.5 L1177.6,672.5 L1179.6,672.5 L1181.6,672.5 L1183.6,672.5 L1185.6,672.5 L1187.6,672.5 L1189.6,672.5 L1191.6,672.5 L1193.6,672.5 L1195.6,672.5 L1197.6,672.5 L1199.6,672.5 L1201.6,672.5 L1203.6,672.5 L1205.6,672.5 L1207.6,672.5 L1209.6,672.5 L1211.6,672.5 L1213.6,672.5 L1215.6,672.5 L1217.6,672.5 L1219.6,672.5 L1221.6,672.5 L1223.6,672.5 L1225.6,672.5 L1227.6,672.5 L1229.6,672.5 L1231.6,672.5 L1233.6,672.5 L1235.6,672.5 L1237.6,672.5 L1239.6,672.5 L1241.6,672.5 L1243.6,672.5 L1245.6,672.5 L1247.6,672.5 L1249.6,672.5 L1251.6,672.5 L1253.6,672.5 L1255.6,672.5 L1257.6,672.5 L1259.6,672.5 L1261.6,672.5 L1263.6,672.5 L1265.6,672.5 L1267.6,672.5 L1269.6,672.5 L1271.6,672.5 L1273.6,672.5 L1275.6,672.5 L1277.6,672.5 L1279.6,672.5 L1281.6,672.5 L1283.6,672.5 L1285.6,672.5 L1287.6,672.5 L1289.6,672.5 L1291.6,672.5 L1293.6,672.5 L1295.6,672.5 L1297.6,672.5 L1299.6,672.5 L1301.6,672.5 L1303.6,672.5 L1305.6,672.5 L1307.6,672.5 L1309.6,672.5 L1311.6,672.5 L1313.6,672.5 L1315.6,672.5 L1317.6,672.5 L1319.6,672.5 L1321.6,672.5 L1323.6,672.5 L1325.6,672.5 L1327.6,672.5 L1329.6,672.5 L1331.6,672.5 L1333.6,672.5 L1335.6,672.5 L1337.6,672.5 L1339.6,672.5 L1341.6,672.5 L1343.6,672.5 L1345.6,672.5 L1347.6,672.5 L1349.6,672.5 L1351.6,672.5 L1353.6,672.5 L1355.6,672.5 L1357.6,672.5 L1359.6,672.5 L1361.6,672.5 L1363.6,672.5 L1365.6,672.5 L1367.6,672.5 L1369.6,672.5 L1371.6,672.5 L1373.6,672.5 L1375.6,672.5 L1377.6,672.5 L1379.6,672.5 L1381.6,672.5 L1383.6,672.5 L1385.6,672.5 L1387.6,672.5 L1389.6,672.5 L1391.6,672.5 L1393.6,672.5 L1395.6,672.5 L1397.6,672.5 L1399.6,672.5 L1401.6,672.5 L1403.6,672.5 L1405.6,672.5 L1407.6,672.5 L1409.6,672.5 L1411.6,672.5 L1413.6,672.5 L1415.6,672.5 L1417.6,672.5 L1419.6,672.5 L1421.6,672.5 L1423.6,672.5 L1425.6,672.5 L1427.6,672.5 L1429.6,672.5 L1431.6,672.5 L1433.6,672.5 L1435.6,672.5 L1437.6,672.5 L1439.6,672.5 L1441.6,672.5 L1443.6,672.5 L1445.6,672.5 L1447.6,672.5 L1449.6,672.5 L1451.6,672.5 L1453.6,672.5 L1455.6,672.5 L1457.6,672.5 L1459.6,672.5 L1461.6,672.5 L1463.6,672.5 L1465.6,672.5 L1467.6,672.5 L1469.6,672.5 L1471.6,672.5 L1473.6,672.5 L1475.6,672.5 L1477.6,672.5 L1479.6,672.5 L1481.6,672.5 L1483.6,672.5 L1485.6,672.5 L1487.6,672.5 L1489.6,672.5 L1491.6,672.5 L1493.6,672.5 L1495.6,672.5 L1497.6,672.5 L1499.6,672.5 L1501.6,672.5 L1503.6,672.5 L1505.6,672.5 L1507.6,672.5 L1509.6,672.5 L1511.6,672.5 L1513.6,672.5 L1515.6,672.5 L1517.6,672.5 L1519.6,672.5 L1521.6,672.5 L1523.6,672.5 L1525.6,672.5 L1527.6,672.5 L1529.6,672.5 L1531.6,672.5 L1533.6,672.5 L1535.6,672.5 L1537.6,672.5 L1539.6,672.5 L1541.6,672.5 L1543.6,672.5 L1545.6,672.5 L1547.6,672.5 L1549.6,672.5 L1551.6,672.5 L1553.6,672.5 L1555.6,672.5 L1557.6,672.5 L1559.6,672.5 L1561.6,672.5 L1563.6,672.5 L1565.6,672.5 L1567.6,672.5 L1569.6,672.5 L1571.6,672.5 L1573.6,672.5 L1575.6,672.5 L1577.6,672.5 L1579.6,672.5 L1581.6,672.5 L1583.6,672.5 L1585.6,672.5 L1587.6,672.5 L1589.6,672.5 L1591.6,672.5 L1593.6,672.5 L1595.6,672.5 L1597.6,672.5 L1599.6,672.5 L1601.6,672.5 L1603.6,672.5 L1605.6,672.5 L1607.6,672.5 L1609.6,672.5 L1611.6,672.5 L1613.6,672.5 L1615.6,672.5 L1617.6,672.5 L1619.6,672.5 L1621.6,672.5 L1623.6,672.5 L1625.6,672.5 L1627.6,672.5 L1627.6,672.5 L147.6,672.5 Z" fill="url(#gOP)"/>
<path d="M147.6,672.5 L149.6,672.5 L151.6,672.5 L153.6,672.5 L155.6,672.5 L157.6,672.5 L159.6,672.5 L161.6,672.5 L163.6,672.5 L165.6,672.5 L167.6,672.5 L169.6,672.5 L171.6,672.5 L173.6,672.5 L175.6,672.5 L177.6,672.5 L179.6,672.5 L181.6,672.5 L183.6,672.5 L185.6,672.5 L187.6,672.5 L189.6,672.5 L191.6,672.5 L193.6,672.5 L195.6,672.5 L197.6,672.5 L199.6,672.5 L201.6,672.5 L203.6,672.5 L205.6,672.5 L207.6,672.5 L209.6,672.5 L211.6,672.5 L213.6,672.5 L215.6,672.5 L217.6,672.5 L219.6,672.5 L221.6,672.5 L223.6,672.5 L225.6,672.5 L227.6,672.5 L229.6,672.5 L231.6,672.5 L233.6,672.5 L235.6,672.5 L237.6,672.5 L239.6,672.5 L241.6,672.5 L243.6,672.5 L245.6,672.5 L247.6,672.5 L249.6,672.5 L251.6,672.5 L253.6,672.5 L255.6,672.5 L257.6,672.5 L259.6,672.5 L261.6,672.5 L263.6,672.5 L265.6,672.5 L267.6,672.5 L269.6,672.5 L271.6,672.5 L273.6,672.5 L275.6,672.5 L277.6,672.5 L279.6,672.5 L281.6,672.5 L283.6,672.5 L285.6,672.5 L287.6,672.5 L289.6,672.5 L291.6,672.5 L293.6,672.5 L295.6,672.5 L297.6,672.5 L299.6,672.5 L301.6,672.5 L303.6,672.5 L305.6,672.5 L307.6,672.5 L309.6,672.5 L311.6,672.5 L313.6,672.5 L315.6,672.5 L317.6,672.5 L319.6,672.5 L321.6,672.5 L323.6,672.5 L325.6,672.5 L327.6,672.5 L329.6,672.5 L331.6,672.5 L333.6,672.5 L335.6,672.5 L337.6,672.5 L339.6,672.5 L341.6,672.5 L343.6,672.5 L345.6,672.5 L347.6,672.5 L349.6,672.5 L351.6,672.5 L353.6,672.5 L355.6,672.5 L357.6,672.5 L359.6,672.5 L361.6,672.5 L363.6,672.5 L365.6,672.5 L367.6,672.5 L369.6,672.5 L371.6,672.5 L373.6,672.5 L375.6,672.5 L377.6,672.5 L379.6,672.5 L381.6,672.5 L383.6,672.5 L385.6,672.5 L387.6,672.5 L389.6,672.5 L391.6,672.5 L393.6,672.5 L395.6,672.5 L397.6,672.5 L399.6,672.5 L401.6,672.5 L403.6,672.5 L405.6,672.5 L407.6,672.5 L409.6,672.5 L411.6,672.5 L413.6,672.5 L415.6,672.5 L417.6,672.5 L419.6,672.5 L421.6,672.5 L423.6,672.5 L425.6,672.5 L427.6,672.5 L429.6,672.5 L431.6,672.5 L433.6,672.5 L435.6,672.5 L437.6,672.5 L439.6,672.5 L441.6,672.5 L443.6,672.5 L445.6,672.5 L447.6,672.5 L449.6,672.5 L451.6,672.5 L453.6,672.5 L455.6,672.5 L457.6,672.5 L459.6,672.5 L461.6,672.5 L463.6,672.5 L465.6,672.5 L467.6,672.5 L469.6,672.5 L471.6,672.5 L473.6,672.5 L475.6,672.5 L477.6,672.5 L479.6,672.5 L481.6,672.5 L483.6,672.5 L485.6,672.5 L487.6,672.5 L489.6,672.5 L491.6,672.5 L493.6,672.5 L495.6,672.5 L497.6,672.5 L499.6,672.5 L501.6,672.5 L503.6,672.5 L505.6,672.5 L507.6,672.5 L509.6,672.5 L511.6,672.5 L513.6,672.5 L515.6,672.5 L517.6,672.5 L519.6,672.5 L521.6,672.5 L523.6,672.5 L525.6,672.5 L527.6,672.5 L529.6,672.5 L531.6,672.5 L533.6,672.5 L535.6,672.5 L537.6,672.5 L539.6,672.5 L541.6,672.5 L543.6,672.5 L545.6,672.5 L547.6,672.5 L549.6,672.5 L551.6,672.5 L553.6,672.5 L555.6,672.5 L557.6,672.5 L559.6,672.5 L561.6,672.5 L563.6,672.5 L565.6,672.5 L567.6,672.5 L569.6,672.5 L571.6,672.5 L573.6,672.5 L575.6,672.5 L577.6,672.5 L579.6,672.5 L581.6,672.5 L583.6,672.5 L585.6,672.5 L587.6,672.5 L589.6,672.5 L591.6,672.5 L593.6,672.5 L595.6,672.5 L597.6,672.5 L599.6,672.5 L601.6,672.5 L603.6,672.5 L605.6,672.5 L607.6,672.5 L609.6,672.5 L611.6,672.5 L613.6,672.5 L615.6,672.5 L617.6,672.5 L619.6,672.5 L621.6,672.5 L623.6,672.5 L625.6,672.5 L627.6,672.5 L629.6,672.5 L631.6,672.5 L633.6,672.5 L635.6,672.5 L637.6,672.5 L639.6,672.5 L641.6,672.5 L643.6,672.5 L645.6,672.5 L647.6,672.5 L649.6,672.5 L651.6,672.5 L653.6,672.5 L655.6,672.5 L657.6,672.5 L659.6,672.5 L661.6,672.5 L663.6,672.5 L665.6,672.5 L667.6,672.5 L669.6,672.5 L671.6,672.5 L673.6,672.5 L675.6,672.5 L677.6,672.5 L679.6,672.5 L681.6,672.5 L683.6,672.5 L685.6,672.5 L687.6,672.5 L689.6,672.5 L691.6,672.5 L693.6,672.5 L695.6,672.5 L697.6,672.5 L699.6,672.5 L701.6,672.5 L703.6,672.5 L705.6,672.5 L707.6,672.5 L709.6,672.5 L711.6,672.5 L713.6,672.5 L715.6,672.5 L717.6,672.5 L719.6,672.5 L721.6,672.5 L723.6,672.5 L725.6,672.5 L727.6,672.5 L729.6,672.5 L731.6,672.5 L733.6,672.4 L735.6,672.4 L737.6,672.4 L739.6,672.4 L741.6,672.4 L743.6,672.4 L745.6,672.4 L747.6,672.4 L749.6,672.4 L751.6,672.3 L753.6,672.3 L755.6,672.3 L757.6,672.3 L759.6,672.3 L761.6,672.2 L763.6,672.2 L765.6,672.2 L767.6,672.1 L769.6,672.1 L771.6,672.1 L773.6,672.0 L775.6,672.0 L777.6,671.9 L779.6,671.8 L781.6,671.8 L783.6,671.7 L785.6,671.6 L787.6,671.5 L789.6,671.4 L791.6,671.3 L793.6,671.2 L795.6,671.1 L797.6,671.0 L799.6,670.8 L801.6,670.7 L803.6,670.5 L805.6,670.3 L807.6,670.1 L809.6,669.9 L811.6,669.6 L813.6,669.4 L815.6,669.1 L817.6,668.8 L819.6,668.5 L821.6,668.2 L823.6,667.8 L825.6,667.4 L827.6,667.0 L829.6,666.5 L831.6,666.1 L833.6,665.6 L835.6,665.0 L837.6,664.4 L839.6,663.8 L841.6,663.1 L843.6,662.4 L845.6,661.7 L847.6,660.9 L849.6,660.0 L851.6,659.1 L853.6,658.1 L855.6,657.1 L857.6,656.1 L859.6,654.9 L861.6,653.7 L863.6,652.5 L865.6,651.1 L867.6,649.7 L869.6,648.3 L871.6,646.7 L873.6,645.1 L875.6,643.4 L877.6,641.6 L879.6,639.7 L881.6,637.8 L883.6,635.8 L885.6,633.6 L887.6,631.4 L889.6,629.1 L891.6,626.7 L893.6,624.2 L895.6,621.6 L897.6,618.9 L899.6,616.1 L901.6,613.2 L903.6,610.2 L905.6,607.2 L907.6,604.0 L909.6,600.7 L911.6,597.3 L913.6,593.8 L915.6,590.3 L917.6,586.6 L919.6,582.8 L921.6,579.0 L923.6,575.1 L925.6,571.0 L927.6,566.9 L929.6,562.8 L931.6,558.5 L933.6,554.2 L935.6,549.8 L937.6,545.3 L939.6,540.8 L941.6,536.3 L943.6,531.6 L945.6,527.0 L947.6,522.3 L949.6,517.6 L951.6,512.9 L953.6,508.1 L955.6,503.3 L957.6,498.6 L959.6,493.8 L961.6,489.1 L963.6,484.4 L965.6,479.7 L967.6,475.1 L969.6,470.5 L971.6,466.0 L973.6,461.5 L975.6,457.1 L977.6,452.8 L979.6,448.6 L981.6,444.5 L983.6,440.5 L985.6,436.6 L987.6,432.8 L989.6,429.2 L991.6,425.7 L993.6,422.4 L995.6,419.2 L997.6,416.1 L999.6,413.3 L1001.6,410.6 L1003.6,408.1 L1005.6,405.8 L1007.6,403.7 L1009.6,401.8 L1011.6,400.1 L1013.6,398.6 L1015.6,397.3 L1017.6,396.2 L1019.6,395.3 L1021.6,394.7 L1023.6,394.2 L1025.6,394.0 L1027.6,394.0 L1029.6,394.3 L1031.6,394.8 L1033.6,395.6 L1035.6,396.6 L1037.6,397.9 L1039.6,399.4 L1041.6,401.2 L1043.6,403.2 L1045.6,405.4 L1047.6,407.9 L1049.6,410.5 L1051.6,413.4 L1053.6,416.5 L1055.6,419.8 L1057.6,423.3 L1059.6,426.9 L1061.6,430.7 L1063.6,434.7 L1065.6,438.8 L1067.6,443.1 L1069.6,447.5 L1071.6,452.0 L1073.6,456.6 L1075.6,461.3 L1077.6,466.1 L1079.6,471.0 L1081.6,475.9 L1083.6,480.9 L1085.6,486.0 L1087.6,491.1 L1089.6,496.2 L1091.6,501.3 L1093.6,506.4 L1095.6,511.5 L1097.6,516.6 L1099.6,521.7 L1101.6,526.7 L1103.6,531.7 L1105.6,536.7 L1107.6,541.6 L1109.6,546.4 L1111.6,551.2 L1113.6,555.9 L1115.6,560.5 L1117.6,565.1 L1119.6,569.5 L1121.6,573.9 L1123.6,578.1 L1125.6,582.3 L1127.6,586.3 L1129.6,590.3 L1131.6,594.1 L1133.6,597.9 L1135.6,601.5 L1137.6,605.0 L1139.6,608.4 L1141.6,611.6 L1143.6,614.8 L1145.6,617.8 L1147.6,620.8 L1149.6,623.6 L1151.6,626.3 L1153.6,628.9 L1155.6,631.4 L1157.6,633.8 L1159.6,636.0 L1161.6,638.2 L1163.6,640.3 L1165.6,642.3 L1167.6,644.2 L1169.6,646.0 L1171.6,647.7 L1173.6,649.3 L1175.6,650.8 L1177.6,652.2 L1179.6,653.6 L1181.6,654.9 L1183.6,656.1 L1185.6,657.3 L1187.6,658.3 L1189.6,659.4 L1191.6,660.3 L1193.6,661.2 L1195.6,662.0 L1197.6,662.8 L1199.6,663.6 L1201.6,664.3 L1203.6,664.9 L1205.6,665.5 L1207.6,666.0 L1209.6,666.6 L1211.6,667.0 L1213.6,667.5 L1215.6,667.9 L1217.6,668.3 L1219.6,668.6 L1221.6,669.0 L1223.6,669.3 L1225.6,669.6 L1227.6,669.8 L1229.6,670.1 L1231.6,670.3 L1233.6,670.5 L1235.6,670.7 L1237.6,670.8 L1239.6,671.0 L1241.6,671.1 L1243.6,671.3 L1245.6,671.4 L1247.6,671.5 L1249.6,671.6 L1251.6,671.7 L1253.6,671.8 L1255.6,671.8 L1257.6,671.9 L1259.6,672.0 L1261.6,672.0 L1263.6,672.1 L1265.6,672.1 L1267.6,672.1 L1269.6,672.2 L1271.6,672.2 L1273.6,672.2 L1275.6,672.3 L1277.6,672.3 L1279.6,672.3 L1281.6,672.3 L1283.6,672.4 L1285.6,672.4 L1287.6,672.4 L1289.6,672.4 L1291.6,672.4 L1293.6,672.4 L1295.6,672.4 L1297.6,672.4 L1299.6,672.4 L1301.6,672.5 L1303.6,672.5 L1305.6,672.5 L1307.6,672.5 L1309.6,672.5 L1311.6,672.5 L1313.6,672.5 L1315.6,672.5 L1317.6,672.5 L1319.6,672.5 L1321.6,672.5 L1323.6,672.5 L1325.6,672.5 L1327.6,672.5 L1329.6,672.5 L1331.6,672.5 L1333.6,672.5 L1335.6,672.5 L1337.6,672.5 L1339.6,672.5 L1341.6,672.5 L1343.6,672.5 L1345.6,672.5 L1347.6,672.5 L1349.6,672.5 L1351.6,672.5 L1353.6,672.5 L1355.6,672.5 L1357.6,672.5 L1359.6,672.5 L1361.6,672.5 L1363.6,672.5 L1365.6,672.5 L1367.6,672.5 L1369.6,672.5 L1371.6,672.5 L1373.6,672.5 L1375.6,672.5 L1377.6,672.5 L1379.6,672.5 L1381.6,672.5 L1383.6,672.5 L1385.6,672.5 L1387.6,672.5 L1389.6,672.5 L1391.6,672.5 L1393.6,672.5 L1395.6,672.5 L1397.6,672.5 L1399.6,672.5 L1401.6,672.5 L1403.6,672.5 L1405.6,672.5 L1407.6,672.5 L1409.6,672.5 L1411.6,672.5 L1413.6,672.5 L1415.6,672.5 L1417.6,672.5 L1419.6,672.5 L1421.6,672.5 L1423.6,672.5 L1425.6,672.5 L1427.6,672.5 L1429.6,672.5 L1431.6,672.5 L1433.6,672.5 L1435.6,672.5 L1437.6,672.5 L1439.6,672.5 L1441.6,672.5 L1443.6,672.5 L1445.6,672.5 L1447.6,672.5 L1449.6,672.5 L1451.6,672.5 L1453.6,672.5 L1455.6,672.5 L1457.6,672.5 L1459.6,672.5 L1461.6,672.5 L1463.6,672.5 L1465.6,672.5 L1467.6,672.5 L1469.6,672.5 L1471.6,672.5 L1473.6,672.5 L1475.6,672.5 L1477.6,672.5 L1479.6,672.5 L1481.6,672.5 L1483.6,672.5 L1485.6,672.5 L1487.6,672.5 L1489.6,672.5 L1491.6,672.5 L1493.6,672.5 L1495.6,672.5 L1497.6,672.5 L1499.6,672.5 L1501.6,672.5 L1503.6,672.5 L1505.6,672.5 L1507.6,672.5 L1509.6,672.5 L1511.6,672.5 L1513.6,672.5 L1515.6,672.5 L1517.6,672.5 L1519.6,672.5 L1521.6,672.5 L1523.6,672.5 L1525.6,672.5 L1527.6,672.5 L1529.6,672.5 L1531.6,672.5 L1533.6,672.5 L1535.6,672.5 L1537.6,672.5 L1539.6,672.5 L1541.6,672.5 L1543.6,672.5 L1545.6,672.5 L1547.6,672.5 L1549.6,672.5 L1551.6,672.5 L1553.6,672.5 L1555.6,672.5 L1557.6,672.5 L1559.6,672.5 L1561.6,672.5 L1563.6,672.5 L1565.6,672.5 L1567.6,672.5 L1569.6,672.5 L1571.6,672.5 L1573.6,672.5 L1575.6,672.5 L1577.6,672.5 L1579.6,672.5 L1581.6,672.5 L1583.6,672.5 L1585.6,672.5 L1587.6,672.5 L1589.6,672.5 L1591.6,672.5 L1593.6,672.5 L1595.6,672.5 L1597.6,672.5 L1599.6,672.5 L1601.6,672.5 L1603.6,672.5 L1605.6,672.5 L1607.6,672.5 L1609.6,672.5 L1611.6,672.5 L1613.6,672.5 L1615.6,672.5 L1617.6,672.5 L1619.6,672.5 L1621.6,672.5 L1623.6,672.5 L1625.6,672.5 L1627.6,672.5 L1627.6,672.5 L147.6,672.5 Z" fill="url(#gTe)"/>
<path d="M147.6,672.5 L149.6,672.5 L151.6,672.5 L153.6,672.5 L155.6,672.5 L157.6,672.5 L159.6,672.5 L161.6,672.5 L163.6,672.5 L165.6,672.5 L167.6,672.5 L169.6,672.5 L171.6,672.5 L173.6,672.5 L175.6,672.5 L177.6,672.5 L179.6,672.5 L181.6,672.5 L183.6,672.5 L185.6,672.5 L187.6,672.5 L189.6,672.5 L191.6,672.5 L193.6,672.5 L195.6,672.5 L197.6,672.5 L199.6,672.5 L201.6,672.5 L203.6,672.5 L205.6,672.5 L207.6,672.5 L209.6,672.5 L211.6,672.5 L213.6,672.5 L215.6,672.5 L217.6,672.5 L219.6,672.5 L221.6,672.5 L223.6,672.5 L225.6,672.5 L227.6,672.5 L229.6,672.5 L231.6,672.5 L233.6,672.5 L235.6,672.5 L237.6,672.5 L239.6,672.5 L241.6,672.5 L243.6,672.5 L245.6,672.5 L247.6,672.5 L249.6,672.5 L251.6,672.5 L253.6,672.5 L255.6,672.5 L257.6,672.5 L259.6,672.5 L261.6,672.5 L263.6,672.5 L265.6,672.5 L267.6,672.5 L269.6,672.5 L271.6,672.5 L273.6,672.5 L275.6,672.5 L277.6,672.5 L279.6,672.5 L281.6,672.5 L283.6,672.5 L285.6,672.5 L287.6,672.5 L289.6,672.5 L291.6,672.5 L293.6,672.5 L295.6,672.5 L297.6,672.5 L299.6,672.5 L301.6,672.5 L303.6,672.5 L305.6,672.5 L307.6,672.5 L309.6,672.5 L311.6,672.5 L313.6,672.5 L315.6,672.5 L317.6,672.5 L319.6,672.5 L321.6,672.5 L323.6,672.5 L325.6,672.5 L327.6,672.5 L329.6,672.5 L331.6,672.5 L333.6,672.5 L335.6,672.5 L337.6,672.5 L339.6,672.5 L341.6,672.5 L343.6,672.5 L345.6,672.5 L347.6,672.5 L349.6,672.5 L351.6,672.5 L353.6,672.5 L355.6,672.5 L357.6,672.5 L359.6,672.5 L361.6,672.5 L363.6,672.5 L365.6,672.5 L367.6,672.5 L369.6,672.5 L371.6,672.5 L373.6,672.5 L375.6,672.5 L377.6,672.5 L379.6,672.5 L381.6,672.5 L383.6,672.5 L385.6,672.5 L387.6,672.5 L389.6,672.5 L391.6,672.5 L393.6,672.5 L395.6,672.5 L397.6,672.5 L399.6,672.5 L401.6,672.5 L403.6,672.5 L405.6,672.5 L407.6,672.5 L409.6,672.5 L411.6,672.5 L413.6,672.5 L415.6,672.5 L417.6,672.5 L419.6,672.5 L421.6,672.5 L423.6,672.5 L425.6,672.5 L427.6,672.5 L429.6,672.5 L431.6,672.5 L433.6,672.5 L435.6,672.5 L437.6,672.5 L439.6,672.5 L441.6,672.5 L443.6,672.5 L445.6,672.5 L447.6,672.5 L449.6,672.5 L451.6,672.5 L453.6,672.5 L455.6,672.5 L457.6,672.5 L459.6,672.5 L461.6,672.5 L463.6,672.5 L465.6,672.5 L467.6,672.5 L469.6,672.5 L471.6,672.5 L473.6,672.5 L475.6,672.5 L477.6,672.5 L479.6,672.5 L481.6,672.5 L483.6,672.5 L485.6,672.5 L487.6,672.5 L489.6,672.5 L491.6,672.5 L493.6,672.5 L495.6,672.5 L497.6,672.5 L499.6,672.5 L501.6,672.5 L503.6,672.5 L505.6,672.5 L507.6,672.5 L509.6,672.5 L511.6,672.5 L513.6,672.5 L515.6,672.5 L517.6,672.5 L519.6,672.5 L521.6,672.5 L523.6,672.5 L525.6,672.5 L527.6,672.5 L529.6,672.5 L531.6,672.5 L533.6,672.5 L535.6,672.5 L537.6,672.5 L539.6,672.5 L541.6,672.5 L543.6,672.5 L545.6,672.5 L547.6,672.5 L549.6,672.5 L551.6,672.5 L553.6,672.5 L555.6,672.5 L557.6,672.5 L559.6,672.5 L561.6,672.5 L563.6,672.5 L565.6,672.5 L567.6,672.5 L569.6,672.5 L571.6,672.5 L573.6,672.5 L575.6,672.5 L577.6,672.5 L579.6,672.5 L581.6,672.5 L583.6,672.5 L585.6,672.5 L587.6,672.5 L589.6,672.5 L591.6,672.5 L593.6,672.5 L595.6,672.5 L597.6,672.5 L599.6,672.5 L601.6,672.5 L603.6,672.5 L605.6,672.5 L607.6,672.5 L609.6,672.5 L611.6,672.5 L613.6,672.5 L615.6,672.5 L617.6,672.5 L619.6,672.5 L621.6,672.5 L623.6,672.5 L625.6,672.5 L627.6,672.5 L629.6,672.5 L631.6,672.5 L633.6,672.5 L635.6,672.5 L637.6,672.5 L639.6,672.5 L641.6,672.5 L643.6,672.5 L645.6,672.5 L647.6,672.5 L649.6,672.5 L651.6,672.5 L653.6,672.5 L655.6,672.5 L657.6,672.5 L659.6,672.5 L661.6,672.5 L663.6,672.5 L665.6,672.5 L667.6,672.5 L669.6,672.5 L671.6,672.5 L673.6,672.5 L675.6,672.5 L677.6,672.5 L679.6,672.5 L681.6,672.5 L683.6,672.5 L685.6,672.5 L687.6,672.5 L689.6,672.5 L691.6,672.5 L693.6,672.5 L695.6,672.5 L697.6,672.5 L699.6,672.5 L701.6,672.5 L703.6,672.5 L705.6,672.5 L707.6,672.5 L709.6,672.5 L711.6,672.5 L713.6,672.5 L715.6,672.5 L717.6,672.5 L719.6,672.5 L721.6,672.5 L723.6,672.5 L725.6,672.5 L727.6,672.5 L729.6,672.5 L731.6,672.5 L733.6,672.4 L735.6,672.4 L737.6,672.4 L739.6,672.4 L741.6,672.4 L743.6,672.4 L745.6,672.4 L747.6,672.4 L749.6,672.4 L751.6,672.3 L753.6,672.3 L755.6,672.3 L757.6,672.3 L759.6,672.3 L761.6,672.2 L763.6,672.2 L765.6,672.2 L767.6,672.1 L769.6,672.1 L771.6,672.1 L773.6,672.0 L775.6,672.0 L777.6,671.9 L779.6,671.8 L781.6,671.8 L783.6,671.7 L785.6,671.6 L787.6,671.5 L789.6,671.4 L791.6,671.3 L793.6,671.2 L795.6,671.1 L797.6,671.0 L799.6,670.8 L801.6,670.7 L803.6,670.5 L805.6,670.3 L807.6,670.1 L809.6,669.9 L811.6,669.6 L813.6,669.4 L815.6,669.1 L817.6,668.8 L819.6,668.5 L821.6,668.2 L823.6,667.8 L825.6,667.4 L827.6,667.0 L829.6,666.5 L831.6,666.1 L833.6,665.6 L835.6,665.0 L837.6,664.4 L839.6,663.8 L841.6,663.1 L843.6,662.4 L845.6,661.7 L847.6,660.9 L849.6,660.0 L851.6,659.1 L853.6,658.1 L855.6,657.1 L857.6,656.1 L859.6,654.9 L861.6,653.7 L863.6,652.5 L865.6,651.1 L867.6,649.7 L869.6,648.3 L871.6,646.7 L873.6,645.1 L875.6,643.4 L877.6,641.6 L879.6,639.7 L881.6,637.8 L883.6,635.8 L885.6,633.6 L887.6,631.4 L889.6,629.1 L891.6,626.7 L893.6,624.2 L895.6,621.6 L897.6,618.9 L899.6,616.1 L901.6,613.2 L903.6,610.2 L905.6,607.2 L907.6,604.0 L909.6,600.7 L911.6,597.3 L913.6,593.8 L915.6,590.3 L917.6,586.6 L919.6,582.8 L921.6,579.0 L923.6,575.1 L925.6,571.0 L927.6,566.9 L929.6,562.8 L931.6,558.5 L933.6,554.2 L935.6,549.8 L937.6,545.3 L939.6,540.8 L941.6,536.3 L943.6,531.6 L945.6,527.0 L947.6,522.3 L949.6,517.6 L951.6,512.9 L953.6,508.1 L955.6,503.3 L957.6,498.6 L959.6,493.8 L961.6,489.1 L963.6,484.4 L965.6,479.7 L967.6,475.1 L969.6,470.5 L971.6,466.0 L973.6,461.5 L975.6,458.8 L977.6,463.0 L979.6,466.9 L981.6,470.7 L983.6,474.5 L985.6,478.4 L987.6,482.4 L989.6,486.3 L991.6,490.2 L993.6,494.1 L995.6,497.8 L997.6,501.4 L999.6,504.8 L1001.6,508.2 L1003.6,511.5 L1005.6,514.7 L1007.6,517.9 L1009.6,521.1 L1011.6,524.2 L1013.6,527.3 L1015.6,530.4 L1017.6,533.5 L1019.6,536.5 L1021.6,539.6 L1023.6,542.6 L1025.6,545.6 L1027.6,548.6 L1029.6,551.5 L1031.6,554.4 L1033.6,557.2 L1035.6,560.0 L1037.6,562.7 L1039.6,565.4 L1041.6,568.1 L1043.6,570.7 L1045.6,573.2 L1047.6,575.7 L1049.6,578.1 L1051.6,580.5 L1053.6,582.7 L1055.6,584.9 L1057.6,586.9 L1059.6,588.8 L1061.6,590.6 L1063.6,592.3 L1065.6,593.9 L1067.6,595.5 L1069.6,597.0 L1071.6,598.5 L1073.6,600.0 L1075.6,601.4 L1077.6,602.7 L1079.6,604.1 L1081.6,605.4 L1083.6,606.7 L1085.6,607.9 L1087.6,609.1 L1089.6,610.3 L1091.6,611.5 L1093.6,612.7 L1095.6,613.8 L1097.6,614.9 L1099.6,616.0 L1101.6,617.1 L1103.6,618.2 L1105.6,619.2 L1107.6,620.3 L1109.6,621.3 L1111.6,622.3 L1113.6,623.2 L1115.6,624.1 L1117.6,625.1 L1119.6,625.9 L1121.6,626.8 L1123.6,627.6 L1125.6,628.4 L1127.6,629.1 L1129.6,629.9 L1131.6,630.6 L1133.6,631.3 L1135.6,632.0 L1137.6,632.7 L1139.6,633.4 L1141.6,634.0 L1143.6,634.7 L1145.6,635.3 L1147.6,635.9 L1149.6,636.5 L1151.6,637.1 L1153.6,637.7 L1155.6,638.3 L1157.6,638.9 L1159.6,639.4 L1161.6,640.0 L1163.6,640.5 L1165.6,642.3 L1167.6,644.2 L1169.6,646.0 L1171.6,647.7 L1173.6,649.3 L1175.6,650.8 L1177.6,652.2 L1179.6,653.6 L1181.6,654.9 L1183.6,656.1 L1185.6,657.3 L1187.6,658.3 L1189.6,659.4 L1191.6,660.3 L1193.6,661.2 L1195.6,662.0 L1197.6,662.8 L1199.6,663.6 L1201.6,664.3 L1203.6,664.9 L1205.6,665.5 L1207.6,666.0 L1209.6,666.6 L1211.6,667.0 L1213.6,667.5 L1215.6,667.9 L1217.6,668.3 L1219.6,668.6 L1221.6,669.0 L1223.6,669.3 L1225.6,669.6 L1227.6,669.8 L1229.6,670.1 L1231.6,670.3 L1233.6,670.5 L1235.6,670.7 L1237.6,670.8 L1239.6,671.0 L1241.6,671.1 L1243.6,671.3 L1245.6,671.4 L1247.6,671.5 L1249.6,671.6 L1251.6,671.7 L1253.6,671.8 L1255.6,671.8 L1257.6,671.9 L1259.6,672.0 L1261.6,672.0 L1263.6,672.1 L1265.6,672.1 L1267.6,672.1 L1269.6,672.2 L1271.6,672.2 L1273.6,672.2 L1275.6,672.3 L1277.6,672.3 L1279.6,672.3 L1281.6,672.3 L1283.6,672.4 L1285.6,672.4 L1287.6,672.4 L1289.6,672.4 L1291.6,672.4 L1293.6,672.4 L1295.6,672.4 L1297.6,672.4 L1299.6,672.4 L1301.6,672.5 L1303.6,672.5 L1305.6,672.5 L1307.6,672.5 L1309.6,672.5 L1311.6,672.5 L1313.6,672.5 L1315.6,672.5 L1317.6,672.5 L1319.6,672.5 L1321.6,672.5 L1323.6,672.5 L1325.6,672.5 L1327.6,672.5 L1329.6,672.5 L1331.6,672.5 L1333.6,672.5 L1335.6,672.5 L1337.6,672.5 L1339.6,672.5 L1341.6,672.5 L1343.6,672.5 L1345.6,672.5 L1347.6,672.5 L1349.6,672.5 L1351.6,672.5 L1353.6,672.5 L1355.6,672.5 L1357.6,672.5 L1359.6,672.5 L1361.6,672.5 L1363.6,672.5 L1365.6,672.5 L1367.6,672.5 L1369.6,672.5 L1371.6,672.5 L1373.6,672.5 L1375.6,672.5 L1377.6,672.5 L1379.6,672.5 L1381.6,672.5 L1383.6,672.5 L1385.6,672.5 L1387.6,672.5 L1389.6,672.5 L1391.6,672.5 L1393.6,672.5 L1395.6,672.5 L1397.6,672.5 L1399.6,672.5 L1401.6,672.5 L1403.6,672.5 L1405.6,672.5 L1407.6,672.5 L1409.6,672.5 L1411.6,672.5 L1413.6,672.5 L1415.6,672.5 L1417.6,672.5 L1419.6,672.5 L1421.6,672.5 L1423.6,672.5 L1425.6,672.5 L1427.6,672.5 L1429.6,672.5 L1431.6,672.5 L1433.6,672.5 L1435.6,672.5 L1437.6,672.5 L1439.6,672.5 L1441.6,672.5 L1443.6,672.5 L1445.6,672.5 L1447.6,672.5 L1449.6,672.5 L1451.6,672.5 L1453.6,672.5 L1455.6,672.5 L1457.6,672.5 L1459.6,672.5 L1461.6,672.5 L1463.6,672.5 L1465.6,672.5 L1467.6,672.5 L1469.6,672.5 L1471.6,672.5 L1473.6,672.5 L1475.6,672.5 L1477.6,672.5 L1479.6,672.5 L1481.6,672.5 L1483.6,672.5 L1485.6,672.5 L1487.6,672.5 L1489.6,672.5 L1491.6,672.5 L1493.6,672.5 L1495.6,672.5 L1497.6,672.5 L1499.6,672.5 L1501.6,672.5 L1503.6,672.5 L1505.6,672.5 L1507.6,672.5 L1509.6,672.5 L1511.6,672.5 L1513.6,672.5 L1515.6,672.5 L1517.6,672.5 L1519.6,672.5 L1521.6,672.5 L1523.6,672.5 L1525.6,672.5 L1527.6,672.5 L1529.6,672.5 L1531.6,672.5 L1533.6,672.5 L1535.6,672.5 L1537.6,672.5 L1539.6,672.5 L1541.6,672.5 L1543.6,672.5 L1545.6,672.5 L1547.6,672.5 L1549.6,672.5 L1551.6,672.5 L1553.6,672.5 L1555.6,672.5 L1557.6,672.5 L1559.6,672.5 L1561.6,672.5 L1563.6,672.5 L1565.6,672.5 L1567.6,672.5 L1569.6,672.5 L1571.6,672.5 L1573.6,672.5 L1575.6,672.5 L1577.6,672.5 L1579.6,672.5 L1581.6,672.5 L1583.6,672.5 L1585.6,672.5 L1587.6,672.5 L1589.6,672.5 L1591.6,672.5 L1593.6,672.5 L1595.6,672.5 L1597.6,672.5 L1599.6,672.5 L1601.6,672.5 L1603.6,672.5 L1605.6,672.5 L1607.6,672.5 L1609.6,672.5 L1611.6,672.5 L1613.6,672.5 L1615.6,672.5 L1617.6,672.5 L1619.6,672.5 L1621.6,672.5 L1623.6,672.5 L1625.6,672.5 L1627.6,672.5 L1627.6,672.5 L147.6,672.5 Z" fill="url(#gTP)"/>
<path d="M789.6,671.4 L791.6,671.3 L793.6,671.2 L795.6,671.1 L797.6,671.0 L799.6,670.8 L801.6,670.7 L803.6,670.5 L805.6,670.3 L807.6,670.1 L809.6,669.9 L811.6,669.6 L813.6,669.4 L815.6,669.1 L817.6,668.8 L819.6,668.5 L821.6,668.2 L823.6,667.8 L825.6,667.4 L827.6,667.0 L829.6,666.5 L831.6,666.1 L833.6,665.6 L835.6,665.0 L837.6,664.4 L839.6,663.8 L841.6,663.1 L843.6,662.4 L845.6,661.7 L847.6,660.9 L849.6,660.0 L851.6,659.1 L853.6,658.1 L855.6,657.1 L857.6,656.1 L859.6,654.9 L861.6,653.7 L863.6,652.5 L865.6,651.1 L867.6,649.7 L869.6,648.3 L871.6,646.7 L873.6,645.1 L875.6,643.4 L877.6,641.6 L879.6,639.7 L881.6,637.8 L883.6,635.8 L885.6,633.6 L887.6,631.4 L889.6,629.1 L891.6,626.7 L893.6,624.2 L895.6,621.6 L897.6,618.9 L899.6,616.1 L901.6,613.2 L903.6,610.2 L905.6,607.2 L907.6,604.0 L909.6,600.7 L911.6,597.3 L913.6,593.8 L915.6,590.3 L917.6,586.6 L919.6,582.8 L921.6,579.0 L923.6,575.1 L925.6,571.0 L927.6,566.9 L929.6,562.8 L931.6,558.5 L933.6,554.2 L935.6,549.8 L937.6,545.3 L939.6,540.8 L941.6,536.3 L943.6,531.6 L945.6,527.0 L947.6,522.3 L949.6,517.6 L951.6,512.9 L953.6,508.1 L955.6,503.3 L957.6,498.6 L959.6,493.8 L961.6,489.1 L963.6,484.4 L965.6,479.7 L967.6,475.1 L969.6,470.5 L971.6,466.0 L973.6,461.5 L975.6,457.1 L977.6,452.8 L979.6,448.6 L981.6,444.5 L983.6,440.5 L985.6,436.6 L987.6,432.8 L989.6,429.2 L991.6,425.7 L993.6,422.4 L995.6,419.2 L997.6,416.1 L999.6,413.3 L1001.6,410.6 L1003.6,408.1 L1005.6,405.8 L1007.6,403.7 L1009.6,401.8 L1011.6,400.1 L1013.6,398.6 L1015.6,397.3 L1017.6,396.2 L1019.6,395.3 L1021.6,394.7 L1023.6,394.2 L1025.6,394.0 L1027.6,394.0 L1029.6,394.3 L1031.6,394.8 L1033.6,395.6 L1035.6,396.6 L1037.6,397.9 L1039.6,399.4 L1041.6,401.2 L1043.6,403.2 L1045.6,405.4 L1047.6,407.9 L1049.6,410.5 L1051.6,413.4 L1053.6,416.5 L1055.6,419.8 L1057.6,423.3 L1059.6,426.9 L1061.6,430.7 L1063.6,434.7 L1065.6,438.8 L1067.6,443.1 L1069.6,447.5 L1071.6,452.0 L1073.6,456.6 L1075.6,461.3 L1077.6,466.1 L1079.6,471.0 L1081.6,475.9 L1083.6,480.9 L1085.6,486.0 L1087.6,491.1 L1089.6,496.2 L1091.6,501.3 L1093.6,506.4 L1095.6,511.5 L1097.6,516.6 L1099.6,521.7 L1101.6,526.7 L1103.6,531.7 L1105.6,536.7 L1107.6,541.6 L1109.6,546.4 L1111.6,551.2 L1113.6,555.9 L1115.6,560.5 L1117.6,565.1 L1119.6,569.5 L1121.6,573.9 L1123.6,578.1 L1125.6,582.3 L1127.6,586.3 L1129.6,590.3 L1131.6,594.1 L1133.6,597.9 L1135.6,601.5 L1137.6,605.0 L1139.6,608.4 L1141.6,611.6 L1143.6,614.8 L1145.6,617.8 L1147.6,620.8 L1149.6,623.6 L1151.6,626.3 L1153.6,628.9 L1155.6,631.4 L1157.6,633.8 L1159.6,636.0 L1161.6,638.2 L1163.6,640.3 L1165.6,642.3 L1167.6,644.2 L1169.6,646.0 L1171.6,647.7 L1173.6,649.3 L1175.6,650.8 L1177.6,652.2 L1179.6,653.6 L1181.6,654.9 L1183.6,656.1 L1185.6,657.3 L1187.6,658.3 L1189.6,659.4 L1191.6,660.3 L1193.6,661.2 L1195.6,662.0 L1197.6,662.8 L1199.6,663.6 L1201.6,664.3 L1203.6,664.9 L1205.6,665.5 L1207.6,666.0 L1209.6,666.6 L1211.6,667.0 L1213.6,667.5 L1215.6,667.9 L1217.6,668.3 L1219.6,668.6 L1221.6,669.0 L1223.6,669.3 L1225.6,669.6 L1227.6,669.8 L1229.6,670.1 L1231.6,670.3 L1233.6,670.5 L1235.6,670.7 L1237.6,670.8 L1239.6,671.0 L1241.6,671.1 L1243.6,671.3 L1245.6,671.4 L1247.6,671.5" fill="none" stroke="#1f9a9a" stroke-width="2" stroke-dasharray="26 5" opacity="0.8"/>
<path d="M881.6,629.9 L883.6,631.0 L885.6,632.2 L887.6,633.3 L889.6,634.5 L891.6,635.6 L893.6,636.6 L895.6,637.7 L897.6,638.7 L899.6,639.8 L901.6,640.8 L903.6,641.7 L905.6,642.7 L907.6,643.6 L909.6,644.6 L911.6,645.5 L913.6,646.3 L915.6,647.2 L917.6,648.0 L919.6,648.8 L921.6,649.6 L923.6,650.4 L925.6,651.2 L927.6,651.9 L929.6,652.6 L931.6,653.3 L933.6,654.0 L935.6,654.7 L937.6,655.3 L939.6,656.0 L941.6,656.6 L943.6,657.2 L945.6,657.7 L947.6,658.3 L949.6,658.8 L951.6,659.4 L953.6,659.9 L955.6,660.4 L957.6,660.9 L959.6,661.3 L961.6,661.8 L963.6,662.2 L965.6,662.6 L967.6,663.0 L969.6,663.4 L971.6,663.8 L973.6,664.2 L975.6,664.5 L977.6,664.9 L979.6,665.2 L981.6,665.5 L983.6,665.8 L985.6,666.1 L987.6,666.4 L989.6,666.7 L991.6,666.9 L993.6,667.2 L995.6,667.4 L997.6,667.6 L999.6,667.9 L1001.6,668.1 L1003.6,668.3 L1005.6,668.5 L1007.6,668.7 L1009.6,668.9 L1011.6,669.0 L1013.6,669.2 L1015.6,669.4 L1017.6,669.5 L1019.6,669.7 L1021.6,669.8 L1023.6,669.9 L1025.6,670.1 L1027.6,670.2 L1029.6,670.3 L1031.6,670.4 L1033.6,670.5 L1035.6,670.6 L1037.6,670.7 L1039.6,670.8 L1041.6,670.9 L1043.6,671.0 L1045.6,671.1 L1047.6,671.1 L1049.6,671.2 L1051.6,671.3 L1053.6,671.4 L1055.6,671.4 L1057.6,671.5" fill="none" stroke="#8fb0bb" stroke-width="2" stroke-dasharray="26 14" opacity="0.45"/>
</g>
<g id="data" clip-path="url(#plot)" fill="#fff6dc" fill-opacity="0.45" stroke="#eda974" stroke-width="1.5">
<circle cx="150.0" cy="668.0" r="15"/>
<circle cx="172.3" cy="668.0" r="15"/>
<circle cx="194.6" cy="667.9" r="15"/>
<circle cx="216.9" cy="667.7" r="15"/>
<circle cx="239.2" cy="667.6" r="15"/>
<circle cx="261.5" cy="667.4" r="15"/>
<circle cx="283.8" cy="667.1" r="15"/>
<circle cx="306.1" cy="666.6" r="15"/>
<circle cx="328.4" cy="665.9" r="15"/>
<circle cx="350.7" cy="664.7" r="15"/>
<circle cx="373.0" cy="662.5" r="15"/>
<circle cx="395.3" cy="658.8" r="15"/>
<circle cx="417.6" cy="655.4" r="15"/>
<circle cx="439.9" cy="651.8" r="15"/>
<circle cx="462.2" cy="646.6" r="15"/>
<circle cx="484.5" cy="639.2" r="15"/>
<circle cx="506.8" cy="628.7" r="15"/>
<circle cx="529.1" cy="615.6" r="15"/>
<circle cx="551.4" cy="599.8" r="15"/>
<circle cx="573.7" cy="581.6" r="15"/>
<circle cx="596.0" cy="562.0" r="15"/>
<circle cx="618.3" cy="541.2" r="15"/>
<circle cx="640.6" cy="519.0" r="15"/>
<circle cx="662.9" cy="498.0" r="15"/>
<circle cx="685.2" cy="478.3" r="15"/>
<circle cx="707.5" cy="458.3" r="15"/>
<circle cx="729.8" cy="439.4" r="15"/>
<circle cx="752.1" cy="419.2" r="15"/>
<circle cx="774.4" cy="393.2" r="15"/>
<circle cx="796.7" cy="359.9" r="15"/>
<circle cx="819.0" cy="316.7" r="15"/>
<circle cx="841.3" cy="262.5" r="15"/>
<circle cx="863.6" cy="214.1" r="15"/>
<circle cx="885.9" cy="193.1" r="15"/>
<circle cx="908.2" cy="193.3" r="15"/>
<circle cx="930.5" cy="204.6" r="15"/>
<circle cx="952.8" cy="216.6" r="15"/>
<circle cx="975.1" cy="228.7" r="15"/>
<circle cx="997.4" cy="242.9" r="15"/>
<circle cx="1019.7" cy="266.3" r="15"/>
<circle cx="1042.0" cy="309.7" r="15"/>
<circle cx="1064.3" cy="366.6" r="15"/>
<circle cx="1086.6" cy="427.7" r="15"/>
<circle cx="1108.9" cy="499.7" r="15"/>
<circle cx="1131.2" cy="555.0" r="15"/>
<circle cx="1153.5" cy="595.3" r="15"/>
<circle cx="1175.8" cy="621.6" r="15"/>
<circle cx="1198.1" cy="636.3" r="15"/>
<circle cx="1220.4" cy="643.9" r="15"/>
<circle cx="1242.7" cy="647.5" r="15"/>
<circle cx="1265.0" cy="649.3" r="15"/>
<circle cx="1287.3" cy="651.0" r="15"/>
<circle cx="1309.6" cy="652.4" r="15"/>
<circle cx="1331.9" cy="653.5" r="15"/>
<circle cx="1354.2" cy="654.4" r="15"/>
<circle cx="1376.5" cy="655.0" r="15"/>
<circle cx="1398.8" cy="655.6" r="15"/>
<circle cx="1421.1" cy="656.1" r="15"/>
<circle cx="1443.4" cy="656.6" r="15"/>
<circle cx="1465.7" cy="657.1" r="15"/>
<circle cx="1488.0" cy="657.5" r="15"/>
<circle cx="1510.3" cy="658.0" r="15"/>
<circle cx="1532.6" cy="658.3" r="15"/>
<circle cx="1554.9" cy="658.7" r="15"/>
<circle cx="1577.2" cy="659.0" r="15"/>
<circle cx="1599.5" cy="659.2" r="15"/>
<circle cx="1621.8" cy="659.4" r="15"/>
</g>
<line x1="147.6" y1="673.5" x2="1629.5" y2="673.5" stroke="#e6f2c4" stroke-width="2.8"/>
<line x1="147.6" y1="673.5" x2="1629.5" y2="673.5" stroke="#169a98" stroke-width="2.8" stroke-dasharray="27 6"/>
<g id="curves" fill="none" stroke-linejoin="round">
<path d="M147.6,668.0 L149.1,668.0 L150.6,668.0 L152.1,668.0 L153.6,668.0 L155.1,668.0 L156.6,668.0 L158.1,668.0 L159.6,668.0 L161.1,668.0 L162.6,668.0 L164.1,668.0 L165.6,668.0 L167.1,668.0 L168.6,668.0 L170.1,668.0 L171.6,668.0 L173.1,668.0 L174.6,668.0 L176.1,667.9 L177.6,667.9 L179.1,667.9 L180.6,667.9 L182.1,667.9 L183.6,667.9 L185.1,667.9 L186.6,667.9 L188.1,667.9 L189.6,667.9 L191.1,667.9 L192.6,667.9 L194.1,667.9 L195.6,667.9 L197.1,667.9 L198.6,667.8 L200.1,667.8 L201.6,667.8 L203.1,667.8 L204.6,667.8 L206.1,667.8 L207.6,667.8 L209.1,667.8 L210.6,667.8 L212.1,667.8 L213.6,667.8 L215.1,667.8 L216.6,667.7 L218.1,667.7 L219.6,667.7 L221.1,667.7 L222.6,667.7 L224.1,667.7 L225.6,667.7 L227.1,667.7 L228.6,667.7 L230.1,667.6 L231.6,667.6 L233.1,667.6 L234.6,667.6 L236.1,667.6 L237.6,667.6 L239.1,667.6 L240.6,667.6 L242.1,667.6 L243.6,667.5 L245.1,667.5 L246.6,667.5 L248.1,667.5 L249.6,667.5 L251.1,667.5 L252.6,667.5 L254.1,667.5 L255.6,667.5 L257.1,667.4 L258.6,667.4 L260.1,667.4 L261.6,667.4 L263.1,667.4 L264.6,667.4 L266.1,667.3 L267.6,667.3 L269.1,667.3 L270.6,667.3 L272.1,667.3 L273.6,667.2 L275.1,667.2 L276.6,667.2 L278.1,667.2 L279.6,667.2 L281.1,667.1 L282.6,667.1 L284.1,667.1 L285.6,667.1 L287.1,667.0 L288.6,667.0 L290.1,667.0 L291.6,667.0 L293.1,666.9 L294.6,666.9 L296.1,666.9 L297.6,666.8 L299.1,666.8 L300.6,666.8 L302.1,666.7 L303.6,666.7 L305.1,666.7 L306.6,666.6 L308.1,666.6 L309.6,666.6 L311.1,666.5 L312.6,666.5 L314.1,666.4 L315.6,666.4 L317.1,666.3 L318.6,666.3 L320.1,666.2 L321.6,666.1 L323.1,666.1 L324.6,666.0 L326.1,666.0 L327.6,665.9 L329.1,665.8 L330.6,665.8 L332.1,665.7 L333.6,665.6 L335.1,665.6 L336.6,665.5 L338.1,665.4 L339.6,665.3 L341.1,665.3 L342.6,665.2 L344.1,665.1 L345.6,665.0 L347.1,664.9 L348.6,664.8 L350.1,664.7 L351.6,664.6 L353.1,664.5 L354.6,664.4 L356.1,664.3 L357.6,664.2 L359.1,664.0 L360.6,663.9 L362.1,663.8 L363.6,663.6 L365.1,663.5 L366.6,663.3 L368.1,663.1 L369.6,662.9 L371.1,662.7 L372.6,662.5 L374.1,662.3 L375.6,662.1 L377.1,661.9 L378.6,661.6 L380.1,661.4 L381.6,661.2 L383.1,660.9 L384.6,660.7 L386.1,660.5 L387.6,660.2 L389.1,660.0 L390.6,659.7 L392.1,659.4 L393.6,659.2 L395.1,658.9 L396.6,658.6 L398.1,658.4 L399.6,658.1 L401.1,657.8 L402.6,657.6 L404.1,657.4 L405.6,657.1 L407.1,656.9 L408.6,656.7 L410.1,656.5 L411.6,656.3 L413.1,656.1 L414.6,655.8 L416.1,655.6 L417.6,655.4 L419.1,655.2 L420.6,655.0 L422.1,654.8 L423.6,654.6 L425.1,654.3 L426.6,654.1 L428.1,653.9 L429.6,653.7 L431.1,653.4 L432.6,653.2 L434.1,652.9 L435.6,652.6 L437.1,652.4 L438.6,652.1 L440.1,651.8 L441.6,651.5 L443.1,651.2 L444.6,650.9 L446.1,650.5 L447.6,650.2 L449.1,649.9 L450.6,649.5 L452.1,649.2 L453.6,648.8 L455.1,648.4 L456.6,648.1 L458.1,647.7 L459.6,647.3 L461.1,646.9 L462.6,646.5 L464.1,646.1 L465.6,645.7 L467.1,645.2 L468.6,644.8 L470.1,644.3 L471.6,643.9 L473.1,643.4 L474.6,642.9 L476.1,642.4 L477.6,641.9 L479.1,641.3 L480.6,640.8 L482.1,640.2 L483.6,639.6 L485.1,638.9 L486.6,638.3 L488.1,637.7 L489.6,637.0 L491.1,636.3 L492.6,635.7 L494.1,635.0 L495.6,634.3 L497.1,633.6 L498.6,632.9 L500.1,632.1 L501.6,631.4 L503.1,630.6 L504.6,629.9 L506.1,629.1 L507.6,628.3 L509.1,627.5 L510.6,626.7 L512.1,625.8 L513.6,625.0 L515.1,624.1 L516.6,623.3 L518.1,622.4 L519.6,621.5 L521.1,620.6 L522.6,619.7 L524.1,618.8 L525.6,617.8 L527.1,616.9 L528.6,615.9 L530.1,614.9 L531.6,614.0 L533.1,613.0 L534.6,612.0 L536.1,610.9 L537.6,609.9 L539.1,608.9 L540.6,607.8 L542.1,606.7 L543.6,605.6 L545.1,604.6 L546.6,603.4 L548.1,602.3 L549.6,601.2 L551.1,600.0 L552.6,598.9 L554.1,597.7 L555.6,596.5 L557.1,595.3 L558.6,594.1 L560.1,592.9 L561.6,591.7 L563.1,590.4 L564.6,589.2 L566.1,587.9 L567.6,586.7 L569.1,585.5 L570.6,584.2 L572.1,582.9 L573.6,581.7 L575.1,580.4 L576.6,579.1 L578.1,577.8 L579.6,576.5 L581.1,575.2 L582.6,573.9 L584.1,572.6 L585.6,571.3 L587.1,570.0 L588.6,568.7 L590.1,567.3 L591.6,566.0 L593.1,564.7 L594.6,563.3 L596.1,562.0 L597.6,560.6 L599.1,559.2 L600.6,557.9 L602.1,556.5 L603.6,555.1 L605.1,553.7 L606.6,552.3 L608.1,550.9 L609.6,549.5 L611.1,548.1 L612.6,546.7 L614.1,545.2 L615.6,543.8 L617.1,542.3 L618.6,540.9 L620.1,539.4 L621.6,538.0 L623.1,536.5 L624.6,535.0 L626.1,533.5 L627.6,532.0 L629.1,530.5 L630.6,529.0 L632.1,527.5 L633.6,526.0 L635.1,524.5 L636.6,523.0 L638.1,521.5 L639.6,520.0 L641.1,518.6 L642.6,517.1 L644.1,515.6 L645.6,514.2 L647.1,512.8 L648.6,511.3 L650.1,509.9 L651.6,508.5 L653.1,507.1 L654.6,505.6 L656.1,504.2 L657.6,502.9 L659.1,501.5 L660.6,500.1 L662.1,498.7 L663.6,497.4 L665.1,496.0 L666.6,494.6 L668.1,493.3 L669.6,492.0 L671.1,490.6 L672.6,489.3 L674.1,488.0 L675.6,486.6 L677.1,485.3 L678.6,484.0 L680.1,482.7 L681.6,481.4 L683.1,480.1 L684.6,478.8 L686.1,477.5 L687.6,476.2 L689.1,475.0 L690.6,473.7 L692.1,472.3 L693.6,471.0 L695.1,469.7 L696.6,468.3 L698.1,467.0 L699.6,465.6 L701.1,464.2 L702.6,462.8 L704.1,461.4 L705.6,460.0 L707.1,458.6 L708.6,457.3 L710.1,455.9 L711.6,454.6 L713.1,453.2 L714.6,451.9 L716.1,450.7 L717.6,449.4 L719.1,448.2 L720.6,446.9 L722.1,445.7 L723.6,444.5 L725.1,443.3 L726.6,442.1 L728.1,440.8 L729.6,439.6 L731.1,438.3 L732.6,437.1 L734.1,435.8 L735.6,434.5 L737.1,433.2 L738.6,431.9 L740.1,430.5 L741.6,429.2 L743.1,427.8 L744.6,426.4 L746.1,425.0 L747.6,423.6 L749.1,422.2 L750.6,420.7 L752.1,419.2 L753.6,417.7 L755.1,416.1 L756.6,414.5 L758.1,412.9 L759.6,411.2 L761.1,409.5 L762.6,407.8 L764.1,406.1 L765.6,404.3 L767.1,402.5 L768.6,400.6 L770.1,398.8 L771.6,396.9 L773.1,394.9 L774.6,393.0 L776.1,391.0 L777.6,388.9 L779.1,386.9 L780.6,384.8 L782.1,382.6 L783.6,380.4 L785.1,378.2 L786.6,376.0 L788.1,373.7 L789.6,371.4 L791.1,369.0 L792.6,366.7 L794.1,364.2 L795.6,361.7 L797.1,359.2 L798.6,356.6 L800.1,354.0 L801.6,351.4 L803.1,348.6 L804.6,345.8 L806.1,343.0 L807.6,340.1 L809.1,337.1 L810.6,334.1 L812.1,331.1 L813.6,328.0 L815.1,324.9 L816.6,321.8 L818.1,318.6 L819.6,315.5 L821.1,312.3 L822.6,309.0 L824.1,305.7 L825.6,302.3 L827.1,298.8 L828.6,295.3 L830.1,291.6 L831.6,287.9 L833.1,284.1 L834.6,280.2 L836.1,276.3 L837.6,272.3 L839.1,268.4 L840.6,264.4 L842.1,260.4 L843.6,256.6 L845.1,252.8 L846.6,249.1 L848.1,245.5 L849.6,242.0 L851.1,238.6 L852.6,235.2 L854.1,232.0 L855.6,228.9 L857.1,225.8 L858.6,222.9 L860.1,220.0 L861.6,217.3 L863.1,214.7 L864.6,212.3 L866.1,210.0 L867.6,207.8 L869.1,205.8 L870.6,203.8 L872.1,202.1 L873.6,200.4 L875.1,198.8 L876.6,197.4 L878.1,196.0 L879.6,194.8 L881.1,193.7 L882.6,192.8 L884.1,192.0 L885.6,191.3 L887.1,190.7 L888.6,190.2 L890.1,189.9 L891.6,189.6 L893.1,189.4 L894.6,189.3 L896.1,189.2 L897.6,189.2 L899.1,189.1 L900.6,189.1 L902.1,189.2 L903.6,189.3 L905.1,189.4 L906.6,189.5 L908.1,189.8 L909.6,190.0 L911.1,190.4 L912.6,190.8 L914.1,191.2 L915.6,191.8 L917.1,192.4 L918.6,193.1 L920.1,193.8 L921.6,194.6 L923.1,195.4 L924.6,196.2 L926.1,197.1 L927.6,197.9 L929.1,198.8 L930.6,199.7 L932.1,200.6 L933.6,201.5 L935.1,202.4 L936.6,203.3 L938.1,204.2 L939.6,205.1 L941.1,206.0 L942.6,206.9 L944.1,207.8 L945.6,208.7 L947.1,209.6 L948.6,210.5 L950.1,211.4 L951.6,212.3 L953.1,213.3 L954.6,214.2 L956.1,215.1 L957.6,216.0 L959.1,217.0 L960.6,217.9 L962.1,218.8 L963.6,219.8 L965.1,220.7 L966.6,221.7 L968.1,222.6 L969.6,223.6 L971.1,224.6 L972.6,225.5 L974.1,226.5 L975.6,227.5 L977.1,228.6 L978.6,229.6 L980.1,230.6 L981.6,231.7 L983.1,232.7 L984.6,233.8 L986.1,234.9 L987.6,236.0 L989.1,237.2 L990.6,238.3 L992.1,239.4 L993.6,240.6 L995.1,241.8 L996.6,243.0 L998.1,244.2 L999.6,245.4 L1001.1,246.6 L1002.6,247.8 L1004.1,249.1 L1005.6,250.4 L1007.1,251.7 L1008.6,253.0 L1010.1,254.4 L1011.6,255.7 L1013.1,257.1 L1014.6,258.6 L1016.1,260.1 L1017.6,261.7 L1019.1,263.3 L1020.6,265.1 L1022.1,266.9 L1023.6,268.9 L1025.1,271.1 L1026.6,273.5 L1028.1,276.0 L1029.6,278.6 L1031.1,281.5 L1032.6,284.4 L1034.1,287.4 L1035.6,290.5 L1037.1,293.7 L1038.6,296.9 L1040.1,300.2 L1041.6,303.6 L1043.1,307.1 L1044.6,310.6 L1046.1,314.1 L1047.6,317.7 L1049.1,321.3 L1050.6,325.0 L1052.1,328.7 L1053.6,332.4 L1055.1,336.2 L1056.6,340.0 L1058.1,343.8 L1059.6,347.7 L1061.1,351.5 L1062.6,355.4 L1064.1,359.4 L1065.6,363.3 L1067.1,367.3 L1068.6,371.3 L1070.1,375.4 L1071.6,379.4 L1073.1,383.6 L1074.6,387.7 L1076.1,391.9 L1077.6,396.1 L1079.1,400.4 L1080.6,404.7 L1082.1,409.1 L1083.6,413.6 L1085.1,418.1 L1086.6,422.7 L1088.1,427.4 L1089.6,432.3 L1091.1,437.2 L1092.6,442.3 L1094.1,447.6 L1095.6,453.0 L1097.1,458.4 L1098.6,463.8 L1100.1,469.1 L1101.6,474.2 L1103.1,479.1 L1104.6,483.8 L1106.1,488.4 L1107.6,492.7 L1109.1,497.0 L1110.6,501.2 L1112.1,505.3 L1113.6,509.4 L1115.1,513.4 L1116.6,517.4 L1118.1,521.3 L1119.6,525.2 L1121.1,529.1 L1122.6,532.9 L1124.1,536.6 L1125.6,540.3 L1127.1,544.0 L1128.6,547.5 L1130.1,551.0 L1131.6,554.4 L1133.1,557.7 L1134.6,561.0 L1136.1,564.1 L1137.6,567.2 L1139.1,570.2 L1140.6,573.1 L1142.1,576.0 L1143.6,578.8 L1145.1,581.5 L1146.6,584.2 L1148.1,586.8 L1149.6,589.3 L1151.1,591.7 L1152.6,594.1 L1154.1,596.4 L1155.6,598.6 L1157.1,600.8 L1158.6,602.9 L1160.1,604.9 L1161.6,606.9 L1163.1,608.9 L1164.6,610.7 L1166.1,612.6 L1167.6,614.3 L1169.1,616.1 L1170.6,617.8 L1172.1,619.4 L1173.6,621.0 L1175.1,622.4 L1176.6,623.9 L1178.1,625.3 L1179.6,626.6 L1181.1,627.8 L1182.6,629.0 L1184.1,630.2 L1185.6,631.3 L1187.1,632.4 L1188.6,633.4 L1190.1,634.4 L1191.6,635.4 L1193.1,636.3 L1194.6,637.2 L1196.1,638.1 L1197.6,639.0 L1199.1,639.8 L1200.6,640.5 L1202.1,641.3 L1203.6,642.0 L1205.1,642.7 L1206.6,643.3 L1208.1,643.9 L1209.6,644.5 L1211.1,645.1 L1212.6,645.7 L1214.1,646.2 L1215.6,646.7 L1217.1,647.2 L1218.6,647.7 L1220.1,648.1 L1221.6,648.6 L1223.1,649.0 L1224.6,649.4 L1226.1,649.8 L1227.6,650.2 L1229.1,650.6 L1230.6,651.0 L1232.1,651.3 L1233.6,651.7 L1235.1,652.0 L1236.6,652.3 L1238.1,652.6 L1239.6,652.9 L1241.1,653.1 L1242.6,653.4 L1244.1,653.6 L1245.6,653.9 L1247.1,654.1 L1248.6,654.3 L1250.1,654.5 L1251.6,654.7 L1253.1,654.9 L1254.6,655.1 L1256.1,655.3 L1257.6,655.5 L1259.1,655.6 L1260.6,655.8 L1262.1,656.0 L1263.6,656.1 L1265.1,656.3 L1266.6,656.4 L1268.1,656.6 L1269.6,656.7 L1271.1,656.8 L1272.6,657.0 L1274.1,657.1 L1275.6,657.2 L1277.1,657.3 L1278.6,657.4 L1280.1,657.6 L1281.6,657.7 L1283.1,657.8 L1284.6,657.9 L1286.1,658.0 L1287.6,658.1 L1289.1,658.2 L1290.6,658.3 L1292.1,658.4 L1293.6,658.5 L1295.1,658.6 L1296.6,658.7 L1298.1,658.8 L1299.6,658.9 L1301.1,659.0 L1302.6,659.1 L1304.1,659.1 L1305.6,659.2 L1307.1,659.3 L1308.6,659.4 L1310.1,659.5 L1311.6,659.6 L1313.1,659.6 L1314.6,659.7 L1316.1,659.8 L1317.6,659.9 L1319.1,660.0 L1320.6,660.0 L1322.1,660.1 L1323.6,660.2 L1325.1,660.3 L1326.6,660.3 L1328.1,660.4 L1329.6,660.5 L1331.1,660.5 L1332.6,660.6 L1334.1,660.7 L1335.6,660.7 L1337.1,660.8 L1338.6,660.9 L1340.1,660.9 L1341.6,661.0 L1343.1,661.1 L1344.6,661.1 L1346.1,661.2 L1347.6,661.2 L1349.1,661.3 L1350.6,661.4 L1352.1,661.4 L1353.6,661.5 L1355.1,661.5 L1356.6,661.6 L1358.1,661.6 L1359.6,661.7 L1361.1,661.7 L1362.6,661.8 L1364.1,661.8 L1365.6,661.9 L1367.1,661.9 L1368.6,662.0 L1370.1,662.0 L1371.6,662.1 L1373.1,662.1 L1374.6,662.1 L1376.1,662.2 L1377.6,662.2 L1379.1,662.3 L1380.6,662.3 L1382.1,662.4 L1383.6,662.4 L1385.1,662.4 L1386.6,662.5 L1388.1,662.5 L1389.6,662.6 L1391.1,662.6 L1392.6,662.6 L1394.1,662.7 L1395.6,662.7 L1397.1,662.8 L1398.6,662.8 L1400.1,662.8 L1401.6,662.9 L1403.1,662.9 L1404.6,662.9 L1406.1,663.0 L1407.6,663.0 L1409.1,663.1 L1410.6,663.1 L1412.1,663.1 L1413.6,663.2 L1415.1,663.2 L1416.6,663.2 L1418.1,663.3 L1419.6,663.3 L1421.1,663.3 L1422.6,663.4 L1424.1,663.4 L1425.6,663.4 L1427.1,663.5 L1428.6,663.5 L1430.1,663.6 L1431.6,663.6 L1433.1,663.6 L1434.6,663.7 L1436.1,663.7 L1437.6,663.7 L1439.1,663.8 L1440.6,663.8 L1442.1,663.8 L1443.6,663.9 L1445.1,663.9 L1446.6,663.9 L1448.1,664.0 L1449.6,664.0 L1451.1,664.0 L1452.6,664.1 L1454.1,664.1 L1455.6,664.1 L1457.1,664.2 L1458.6,664.2 L1460.1,664.2 L1461.6,664.3 L1463.1,664.3 L1464.6,664.3 L1466.1,664.4 L1467.6,664.4 L1469.1,664.4 L1470.6,664.5 L1472.1,664.5 L1473.6,664.5 L1475.1,664.6 L1476.6,664.6 L1478.1,664.6 L1479.6,664.7 L1481.1,664.7 L1482.6,664.7 L1484.1,664.8 L1485.6,664.8 L1487.1,664.8 L1488.6,664.9 L1490.1,664.9 L1491.6,664.9 L1493.1,664.9 L1494.6,665.0 L1496.1,665.0 L1497.6,665.0 L1499.1,665.1 L1500.6,665.1 L1502.1,665.1 L1503.6,665.2 L1505.1,665.2 L1506.6,665.2 L1508.1,665.3 L1509.6,665.3 L1511.1,665.3 L1512.6,665.3 L1514.1,665.4 L1515.6,665.4 L1517.1,665.4 L1518.6,665.5 L1520.1,665.5 L1521.6,665.5 L1523.1,665.5 L1524.6,665.6 L1526.1,665.6 L1527.6,665.6 L1529.1,665.7 L1530.6,665.7 L1532.1,665.7 L1533.6,665.7 L1535.1,665.8 L1536.6,665.8 L1538.1,665.8 L1539.6,665.8 L1541.1,665.9 L1542.6,665.9 L1544.1,665.9 L1545.6,665.9 L1547.1,666.0 L1548.6,666.0 L1550.1,666.0 L1551.6,666.0 L1553.1,666.0 L1554.6,666.1 L1556.1,666.1 L1557.6,666.1 L1559.1,666.1 L1560.6,666.2 L1562.1,666.2 L1563.6,666.2 L1565.1,666.2 L1566.6,666.2 L1568.1,666.3 L1569.6,666.3 L1571.1,666.3 L1572.6,666.3 L1574.1,666.4 L1575.6,666.4 L1577.1,666.4 L1578.6,666.4 L1580.1,666.4 L1581.6,666.5 L1583.1,666.5 L1584.6,666.5 L1586.1,666.5 L1587.6,666.5 L1589.1,666.6 L1590.6,666.6 L1592.1,666.6 L1593.6,666.6 L1595.1,666.6 L1596.6,666.6 L1598.1,666.7 L1599.6,666.7 L1601.1,666.7 L1602.6,666.7 L1604.1,666.7 L1605.6,666.8 L1607.1,666.8 L1608.6,666.8 L1610.1,666.8 L1611.6,666.8 L1613.1,666.8 L1614.6,666.9 L1616.1,666.9 L1617.6,666.9 L1619.1,666.9 L1620.6,666.9 L1622.1,666.9 L1623.6,666.9 L1625.1,667.0 L1626.6,667.0 L1628.1,667.0" stroke="#ff7f0e" stroke-width="6.4"/>
<path d="M147.6,1372.0 L148.6,1372.0 L149.6,1372.0 L150.6,1372.0 L151.6,1372.0 L152.6,1372.0 L153.6,1372.0 L154.6,1372.0 L155.6,1372.0 L156.6,1372.0 L157.6,1372.0 L158.6,1372.0 L159.6,1372.0 L160.6,1372.0 L161.6,1372.0 L162.6,1372.0 L163.6,1372.0 L164.6,1372.0 L165.6,1372.0 L166.6,1372.0 L167.6,1372.0 L168.6,1372.0 L169.6,1372.0 L170.6,1372.0 L171.6,1372.0 L172.6,1372.0 L173.6,1372.0 L174.6,1372.0 L175.6,1372.0 L176.6,1372.0 L177.6,1372.0 L178.6,1372.0 L179.6,1372.0 L180.6,1372.0 L181.6,1372.0 L182.6,1372.0 L183.6,1372.0 L184.6,1372.0 L185.6,1372.0 L186.6,1372.0 L187.6,1372.0 L188.6,1372.0 L189.6,1372.0 L190.6,1372.0 L191.6,1372.0 L192.6,1372.0 L193.6,1372.0 L194.6,1372.0 L195.6,1372.0 L196.6,1372.0 L197.6,1372.0 L198.6,1372.0 L199.6,1372.0 L200.6,1372.0 L201.6,1372.0 L202.6,1372.0 L203.6,1372.0 L204.6,1372.0 L205.6,1372.0 L206.6,1372.0 L207.6,1372.0 L208.6,1372.0 L209.6,1372.0 L210.6,1372.0 L211.6,1372.0 L212.6,1372.0 L213.6,1372.0 L214.6,1372.0 L215.6,1372.0 L216.6,1372.0 L217.6,1372.0 L218.6,1372.0 L219.6,1372.0 L220.6,1372.0 L221.6,1372.0 L222.6,1372.0 L223.6,1372.0 L224.6,1372.0 L225.6,1372.0 L226.6,1372.0 L227.6,1372.0 L228.6,1372.0 L229.6,1372.0 L230.6,1372.0 L231.6,1372.0 L232.6,1372.0 L233.6,1372.0 L234.6,1372.0 L235.6,1372.0 L236.6,1372.0 L237.6,1372.0 L238.6,1372.0 L239.6,1372.0 L240.6,1372.0 L241.6,1372.0 L242.6,1372.0 L243.6,1372.0 L244.6,1372.0 L245.6,1372.0 L246.6,1372.0 L247.6,1372.0 L248.6,1372.0 L249.6,1372.0 L250.6,1372.0 L251.6,1372.0 L252.6,1372.0 L253.6,1372.0 L254.6,1372.0 L255.6,1372.0 L256.6,1372.0 L257.6,1372.0 L258.6,1372.0 L259.6,1372.0 L260.6,1372.0 L261.6,1372.0 L262.6,1372.0 L263.6,1372.0 L264.6,1372.0 L265.6,1372.0 L266.6,1372.0 L267.6,1372.0 L268.6,1372.0 L269.6,1372.0 L270.6,1372.0 L271.6,1372.0 L272.6,1372.0 L273.6,1372.0 L274.6,1372.0 L275.6,1372.0 L276.6,1372.0 L277.6,1372.0 L278.6,1372.0 L279.6,1372.0 L280.6,1372.0 L281.6,1372.0 L282.6,1372.0 L283.6,1372.0 L284.6,1372.0 L285.6,1372.0 L286.6,1372.0 L287.6,1372.0 L288.6,1372.0 L289.6,1372.0 L290.6,1372.0 L291.6,1372.0 L292.6,1372.0 L293.6,1372.0 L294.6,1372.0 L295.6,1372.0 L296.6,1372.0 L297.6,1372.0 L298.6,1372.0 L299.6,1372.0 L300.6,1372.0 L301.6,1372.0 L302.6,1372.0 L303.6,1372.0 L304.6,1372.0 L305.6,1372.0 L306.6,1372.0 L307.6,1372.0 L308.6,1372.0 L309.6,1372.0 L310.6,1372.0 L311.6,1372.0 L312.6,1372.0 L313.6,1372.0 L314.6,1372.0 L315.6,1372.0 L316.6,1372.0 L317.6,1372.0 L318.6,1372.0 L319.6,1372.0 L320.6,1372.0 L321.6,1372.0 L322.6,1371.9 L323.6,1371.9 L324.6,1371.9 L325.6,1371.9 L326.6,1371.9 L327.6,1371.9 L328.6,1371.9 L329.6,1371.9 L330.6,1371.9 L331.6,1371.9 L332.6,1371.9 L333.6,1371.9 L334.6,1371.9 L335.6,1371.9 L336.6,1371.9 L337.6,1371.9 L338.6,1371.8 L339.6,1371.8 L340.6,1371.8 L341.6,1371.8 L342.6,1371.8 L343.6,1371.8 L344.6,1371.8 L345.6,1371.8 L346.6,1371.8 L347.6,1371.8 L348.6,1371.8 L349.6,1371.8 L350.6,1371.7 L351.6,1371.7 L352.6,1371.7 L353.6,1371.7 L354.6,1371.7 L355.6,1371.7 L356.6,1371.7 L357.6,1371.7 L358.6,1371.7 L359.6,1371.6 L360.6,1371.6 L361.6,1371.6 L362.6,1371.6 L363.6,1371.6 L364.6,1371.6 L365.6,1371.6 L366.6,1371.6 L367.6,1371.5 L368.6,1371.5 L369.6,1371.5 L370.6,1371.5 L371.6,1371.5 L372.6,1371.5 L373.6,1371.5 L374.6,1371.4 L375.6,1371.4 L376.6,1371.4 L377.6,1371.4 L378.6,1371.4 L379.6,1371.4 L380.6,1371.3 L381.6,1371.3 L382.6,1371.3 L383.6,1371.3 L384.6,1371.3 L385.6,1371.3 L386.6,1371.2 L387.6,1371.2 L388.6,1371.2 L389.6,1371.2 L390.6,1371.2 L391.6,1371.2 L392.6,1371.1 L393.6,1371.1 L394.6,1371.1 L395.6,1371.1 L396.6,1371.1 L397.6,1371.0 L398.6,1371.0 L399.6,1371.0 L400.6,1371.0 L401.6,1370.9 L402.6,1370.9 L403.6,1370.9 L404.6,1370.8 L405.6,1370.8 L406.6,1370.7 L407.6,1370.7 L408.6,1370.6 L409.6,1370.6 L410.6,1370.5 L411.6,1370.5 L412.6,1370.4 L413.6,1370.4 L414.6,1370.3 L415.6,1370.2 L416.6,1370.1 L417.6,1370.1 L418.6,1370.0 L419.6,1369.9 L420.6,1369.8 L421.6,1369.8 L422.6,1369.7 L423.6,1369.6 L424.6,1369.5 L425.6,1369.4 L426.6,1369.4 L427.6,1369.3 L428.6,1369.2 L429.6,1369.1 L430.6,1369.0 L431.6,1368.9 L432.6,1368.8 L433.6,1368.7 L434.6,1368.6 L435.6,1368.5 L436.6,1368.4 L437.6,1368.3 L438.6,1368.2 L439.6,1368.1 L440.6,1368.0 L441.6,1367.9 L442.6,1367.8 L443.6,1367.7 L444.6,1367.5 L445.6,1367.4 L446.6,1367.3 L447.6,1367.1 L448.6,1367.0 L449.6,1366.9 L450.6,1366.7 L451.6,1366.6 L452.6,1366.4 L453.6,1366.3 L454.6,1366.1 L455.6,1366.0 L456.6,1365.8 L457.6,1365.6 L458.6,1365.5 L459.6,1365.3 L460.6,1365.1 L461.6,1364.9 L462.6,1364.7 L463.6,1364.5 L464.6,1364.3 L465.6,1364.1 L466.6,1363.9 L467.6,1363.7 L468.6,1363.4 L469.6,1363.2 L470.6,1363.0 L471.6,1362.7 L472.6,1362.4 L473.6,1362.2 L474.6,1361.9 L475.6,1361.6 L476.6,1361.3 L477.6,1361.0 L478.6,1360.7 L479.6,1360.4 L480.6,1360.0 L481.6,1359.7 L482.6,1359.4 L483.6,1359.0 L484.6,1358.7 L485.6,1358.3 L486.6,1357.9 L487.6,1357.5 L488.6,1357.1 L489.6,1356.7 L490.6,1356.3 L491.6,1355.9 L492.6,1355.4 L493.6,1355.0 L494.6,1354.5 L495.6,1354.0 L496.6,1353.5 L497.6,1353.0 L498.6,1352.4 L499.6,1351.9 L500.6,1351.3 L501.6,1350.7 L502.6,1350.1 L503.6,1349.4 L504.6,1348.8 L505.6,1348.1 L506.6,1347.4 L507.6,1346.7 L508.6,1346.0 L509.6,1345.2 L510.6,1344.5 L511.6,1343.7 L512.6,1342.9 L513.6,1342.1 L514.6,1341.3 L515.6,1340.4 L516.6,1339.6 L517.6,1338.7 L518.6,1337.8 L519.6,1336.9 L520.6,1336.0 L521.6,1335.1 L522.6,1334.1 L523.6,1333.1 L524.6,1332.1 L525.6,1331.0 L526.6,1329.9 L527.6,1328.8 L528.6,1327.7 L529.6,1326.5 L530.6,1325.3 L531.6,1324.1 L532.6,1322.8 L533.6,1321.5 L534.6,1320.1 L535.6,1318.8 L536.6,1317.3 L537.6,1315.9 L538.6,1314.4 L539.6,1312.8 L540.6,1311.2 L541.6,1309.6 L542.6,1307.9 L543.6,1306.2 L544.6,1304.4 L545.6,1302.6 L546.6,1300.7 L547.6,1298.7 L548.6,1296.7 L549.6,1294.6 L550.6,1292.5 L551.6,1290.3 L552.6,1288.0 L553.6,1285.7 L554.6,1283.3 L555.6,1280.9 L556.6,1278.4 L557.6,1275.9 L558.6,1273.3 L559.6,1270.8 L560.6,1268.1 L561.6,1265.5 L562.6,1262.8 L563.6,1260.0 L564.6,1257.3 L565.6,1254.4 L566.6,1251.6 L567.6,1248.7 L568.6,1245.7 L569.6,1242.6 L570.6,1239.5 L571.6,1236.3 L572.6,1232.9 L573.6,1229.5 L574.6,1225.9 L575.6,1222.2 L576.6,1218.3 L577.6,1214.2 L578.6,1210.0 L579.6,1205.6 L580.6,1200.9 L581.6,1196.1 L582.6,1191.1 L583.6,1185.8 L584.6,1180.4 L585.6,1174.7 L586.6,1168.8 L587.6,1162.8 L588.6,1156.5 L589.6,1150.0 L590.6,1143.2 L591.6,1136.0 L592.6,1128.5 L593.6,1120.6 L594.6,1112.3 L595.6,1103.7 L596.6,1094.9 L597.6,1086.0 L598.6,1076.9 L599.6,1067.7 L600.6,1058.3 L601.6,1048.6 L602.6,1038.6 L603.6,1028.4 L604.6,1018.1 L605.6,1007.5 L606.6,996.7 L607.6,984.8 L608.6,972.0 L609.6,959.2 L610.6,947.1 L611.6,936.4 L612.6,927.7 L613.6,920.0 L614.6,912.7 L615.6,906.7 L616.6,902.6 L617.6,900.5 L618.6,898.8 L619.6,897.2 L620.6,896.0 L621.6,895.0 L622.6,894.4 L623.6,894.0 L624.6,894.1 L625.6,894.4 L626.6,895.1 L627.6,896.0 L628.6,897.1 L629.6,898.5 L630.6,900.0 L631.6,901.6 L632.6,903.4 L633.6,906.0 L634.6,909.7 L635.6,914.2 L636.6,919.4 L637.6,924.9 L638.6,930.7 L639.6,936.3 L640.6,941.8 L641.6,947.5 L642.6,953.6 L643.6,959.8 L644.6,966.3 L645.6,973.0 L646.6,979.9 L647.6,987.0 L648.6,994.2 L649.6,1001.6 L650.6,1009.4 L651.6,1017.7 L652.6,1026.3 L653.6,1035.0 L654.6,1043.6 L655.6,1052.1 L656.6,1060.2 L657.6,1068.0 L658.6,1075.4 L659.6,1082.6 L660.6,1089.6 L661.6,1096.5 L662.6,1103.3 L663.6,1110.1 L664.6,1116.8 L665.6,1123.4 L666.6,1129.9 L667.6,1136.3 L668.6,1142.7 L669.6,1148.9 L670.6,1155.1 L671.6,1161.1 L672.6,1167.0 L673.6,1172.7 L674.6,1178.3 L675.6,1183.7 L676.6,1188.9 L677.6,1193.9 L678.6,1198.7 L679.6,1203.3 L680.6,1207.7 L681.6,1211.9 L682.6,1215.9 L683.6,1219.7 L684.6,1223.4 L685.6,1226.9 L686.6,1230.3 L687.6,1233.5 L688.6,1236.5 L689.6,1239.4 L690.6,1242.2 L691.6,1244.9 L692.6,1247.4 L693.6,1249.8 L694.6,1252.1 L695.6,1254.2 L696.6,1256.3 L697.6,1258.2 L698.6,1260.1 L699.6,1261.8 L700.6,1263.5 L701.6,1265.1 L702.6,1266.6 L703.6,1268.0 L704.6,1269.4 L705.6,1270.7 L706.6,1271.9 L707.6,1273.1 L708.6,1274.3 L709.6,1275.4 L710.6,1276.4 L711.6,1277.5 L712.6,1278.4 L713.6,1279.4 L714.6,1280.2 L715.6,1281.1 L716.6,1281.9 L717.6,1282.6 L718.6,1283.3 L719.6,1284.0 L720.6,1284.6 L721.6,1285.1 L722.6,1285.6 L723.6,1286.1 L724.6,1286.5 L725.6,1286.9 L726.6,1287.2 L727.6,1287.6 L728.6,1287.9 L729.6,1288.1 L730.6,1288.4 L731.6,1288.6 L732.6,1288.9 L733.6,1289.1 L734.6,1289.3 L735.6,1289.4 L736.6,1289.6 L737.6,1289.7 L738.6,1289.9 L739.6,1290.0 L740.6,1290.1 L741.6,1290.2 L742.6,1290.2 L743.6,1290.3 L744.6,1290.3 L745.6,1290.3 L746.6,1290.3 L747.6,1290.3 L748.6,1290.3 L749.6,1290.2 L750.6,1290.2 L751.6,1290.1 L752.6,1290.0 L753.6,1290.0 L754.6,1289.9 L755.6,1289.8 L756.6,1289.7 L757.6,1289.6 L758.6,1289.5 L759.6,1289.3 L760.6,1289.2 L761.6,1289.1 L762.6,1289.0 L763.6,1288.8 L764.6,1288.7 L765.6,1288.5 L766.6,1288.4 L767.6,1288.2 L768.6,1288.1 L769.6,1287.9 L770.6,1287.7 L771.6,1287.5 L772.6,1287.3 L773.6,1287.1 L774.6,1286.9 L775.6,1286.7 L776.6,1286.5 L777.6,1286.3 L778.6,1286.0 L779.6,1285.8 L780.6,1285.5 L781.6,1285.2 L782.6,1284.9 L783.6,1284.7 L784.6,1284.4 L785.6,1284.1 L786.6,1283.8 L787.6,1283.5 L788.6,1283.2 L789.6,1282.9 L790.6,1282.6 L791.6,1282.3 L792.6,1282.0 L793.6,1281.6 L794.6,1281.3 L795.6,1281.0 L796.6,1280.7 L797.6,1280.4 L798.6,1280.1 L799.6,1279.8 L800.6,1279.5 L801.6,1279.2 L802.6,1278.9 L803.6,1278.7 L804.6,1278.4 L805.6,1278.1 L806.6,1277.8 L807.6,1277.5 L808.6,1277.2 L809.6,1276.9 L810.6,1276.6 L811.6,1276.3 L812.6,1276.0 L813.6,1275.7 L814.6,1275.4 L815.6,1275.1 L816.6,1274.8 L817.6,1274.5 L818.6,1274.2 L819.6,1273.9 L820.6,1273.6 L821.6,1273.2 L822.6,1272.9 L823.6,1272.6 L824.6,1272.3 L825.6,1272.0 L826.6,1271.7 L827.6,1271.4 L828.6,1271.1 L829.6,1270.8 L830.6,1270.5 L831.6,1270.2 L832.6,1269.9 L833.6,1269.6 L834.6,1269.3 L835.6,1269.0 L836.6,1268.7 L837.6,1268.5 L838.6,1268.2 L839.6,1267.9 L840.6,1267.6 L841.6,1267.3 L842.6,1267.0 L843.6,1266.7 L844.6,1266.4 L845.6,1266.1 L846.6,1265.8 L847.6,1265.5 L848.6,1265.2 L849.6,1264.9 L850.6,1264.6 L851.6,1264.3 L852.6,1264.0 L853.6,1263.7 L854.6,1263.4 L855.6,1263.1 L856.6,1262.8 L857.6,1262.5 L858.6,1262.2 L859.6,1261.9 L860.6,1261.6 L861.6,1261.2 L862.6,1260.9 L863.6,1260.6 L864.6,1260.3 L865.6,1259.9 L866.6,1259.6 L867.6,1259.3 L868.6,1258.9 L869.6,1258.6 L870.6,1258.3 L871.6,1257.9 L872.6,1257.6 L873.6,1257.3 L874.6,1256.9 L875.6,1256.6 L876.6,1256.2 L877.6,1255.9 L878.6,1255.6 L879.6,1255.2 L880.6,1254.9 L881.6,1254.5 L882.6,1254.2 L883.6,1253.9 L884.6,1253.5 L885.6,1253.2 L886.6,1252.9 L887.6,1252.5 L888.6,1252.2 L889.6,1251.9 L890.6,1251.5 L891.6,1251.2 L892.6,1250.9 L893.6,1250.5 L894.6,1250.2 L895.6,1249.8 L896.6,1249.5 L897.6,1249.2 L898.6,1248.8 L899.6,1248.5 L900.6,1248.1 L901.6,1247.8 L902.6,1247.4 L903.6,1247.0 L904.6,1246.7 L905.6,1246.3 L906.6,1245.9 L907.6,1245.5 L908.6,1245.1 L909.6,1244.7 L910.6,1244.3 L911.6,1243.9 L912.6,1243.5 L913.6,1243.1 L914.6,1242.7 L915.6,1242.2 L916.6,1241.8 L917.6,1241.3 L918.6,1240.9 L919.6,1240.4 L920.6,1239.9 L921.6,1239.5 L922.6,1239.0 L923.6,1238.5 L924.6,1238.0 L925.6,1237.5 L926.6,1237.0 L927.6,1236.5 L928.6,1236.0 L929.6,1235.5 L930.6,1235.0 L931.6,1234.5 L932.6,1233.9 L933.6,1233.4 L934.6,1232.9 L935.6,1232.3 L936.6,1231.8 L937.6,1231.2 L938.6,1230.7 L939.6,1230.1 L940.6,1229.6 L941.6,1229.0 L942.6,1228.4 L943.6,1227.8 L944.6,1227.3 L945.6,1226.7 L946.6,1226.1 L947.6,1225.5 L948.6,1224.9 L949.6,1224.2 L950.6,1223.6 L951.6,1223.0 L952.6,1222.4 L953.6,1221.7 L954.6,1221.1 L955.6,1220.4 L956.6,1219.8 L957.6,1219.1 L958.6,1218.4 L959.6,1217.8 L960.6,1217.1 L961.6,1216.4 L962.6,1215.8 L963.6,1215.1 L964.6,1214.4 L965.6,1213.7 L966.6,1213.0 L967.6,1212.3 L968.6,1211.6 L969.6,1210.9 L970.6,1210.2 L971.6,1209.5 L972.6,1208.8 L973.6,1208.1 L974.6,1207.4 L975.6,1206.7 L976.6,1206.0 L977.6,1205.3 L978.6,1204.6 L979.6,1203.8 L980.6,1203.1 L981.6,1202.4 L982.6,1201.6 L983.6,1200.9 L984.6,1200.2 L985.6,1199.4 L986.6,1198.7 L987.6,1197.9 L988.6,1197.2 L989.6,1196.4 L990.6,1195.6 L991.6,1194.9 L992.6,1194.1 L993.6,1193.4 L994.6,1192.6 L995.6,1191.9 L996.6,1191.1 L997.6,1190.3 L998.6,1189.6 L999.6,1188.8 L1000.6,1188.1 L1001.6,1187.3 L1002.6,1186.5 L1003.6,1185.8 L1004.6,1185.0 L1005.6,1184.3 L1006.6,1183.5 L1007.6,1182.7 L1008.6,1182.0 L1009.6,1181.2 L1010.6,1180.4 L1011.6,1179.7 L1012.6,1178.9 L1013.6,1178.1 L1014.6,1177.3 L1015.6,1176.6 L1016.6,1175.8 L1017.6,1175.0 L1018.6,1174.2 L1019.6,1173.5 L1020.6,1172.7 L1021.6,1171.9 L1022.6,1171.2 L1023.6,1170.4 L1024.6,1169.7 L1025.6,1168.9 L1026.6,1168.2 L1027.6,1167.5 L1028.6,1166.7 L1029.6,1166.0 L1030.6,1165.3 L1031.6,1164.6 L1032.6,1163.9 L1033.6,1163.2 L1034.6,1162.5 L1035.6,1161.9 L1036.6,1161.2 L1037.6,1160.5 L1038.6,1159.9 L1039.6,1159.2 L1040.6,1158.6 L1041.6,1157.9 L1042.6,1157.3 L1043.6,1156.6 L1044.6,1156.0 L1045.6,1155.4 L1046.6,1154.7 L1047.6,1154.1 L1048.6,1153.5 L1049.6,1152.9 L1050.6,1152.3 L1051.6,1151.7 L1052.6,1151.1 L1053.6,1150.5 L1054.6,1149.9 L1055.6,1149.3 L1056.6,1148.8 L1057.6,1148.2 L1058.6,1147.7 L1059.6,1147.1 L1060.6,1146.6 L1061.6,1146.1 L1062.6,1145.5 L1063.6,1145.0 L1064.6,1144.5 L1065.6,1144.0 L1066.6,1143.5 L1067.6,1143.0 L1068.6,1142.5 L1069.6,1142.0 L1070.6,1141.5 L1071.6,1141.1 L1072.6,1140.6 L1073.6,1140.2 L1074.6,1139.7 L1075.6,1139.3 L1076.6,1138.9 L1077.6,1138.5 L1078.6,1138.2 L1079.6,1137.8 L1080.6,1137.5 L1081.6,1137.2 L1082.6,1136.9 L1083.6,1136.6 L1084.6,1136.4 L1085.6,1136.2 L1086.6,1136.0 L1087.6,1135.8 L1088.6,1135.6 L1089.6,1135.5 L1090.6,1135.4 L1091.6,1135.3 L1092.6,1135.2 L1093.6,1135.1 L1094.6,1135.1 L1095.6,1135.1 L1096.6,1135.1 L1097.6,1135.2 L1098.6,1135.2 L1099.6,1135.3 L1100.6,1135.5 L1101.6,1135.6 L1102.6,1135.8 L1103.6,1136.1 L1104.6,1136.3 L1105.6,1136.6 L1106.6,1136.9 L1107.6,1137.2 L1108.6,1137.6 L1109.6,1137.9 L1110.6,1138.4 L1111.6,1138.8 L1112.6,1139.3 L1113.6,1139.8 L1114.6,1140.4 L1115.6,1141.0 L1116.6,1141.6 L1117.6,1142.3 L1118.6,1143.0 L1119.6,1143.7 L1120.6,1144.5 L1121.6,1145.4 L1122.6,1146.2 L1123.6,1147.1 L1124.6,1148.0 L1125.6,1149.0 L1126.6,1150.0 L1127.6,1151.0 L1128.6,1152.1 L1129.6,1153.1 L1130.6,1154.3 L1131.6,1155.4 L1132.6,1156.6 L1133.6,1157.9 L1134.6,1159.1 L1135.6,1160.5 L1136.6,1161.8 L1137.6,1163.2 L1138.6,1164.6 L1139.6,1166.1 L1140.6,1167.6 L1141.6,1169.1 L1142.6,1170.7 L1143.6,1172.3 L1144.6,1174.0 L1145.6,1175.7 L1146.6,1177.5 L1147.6,1179.3 L1148.6,1181.1 L1149.6,1183.0 L1150.6,1184.9 L1151.6,1186.8 L1152.6,1188.8 L1153.6,1190.8 L1154.6,1192.8 L1155.6,1194.8 L1156.6,1196.9 L1157.6,1198.9 L1158.6,1201.0 L1159.6,1203.1 L1160.6,1205.2 L1161.6,1207.4 L1162.6,1209.5 L1163.6,1211.7 L1164.6,1213.9 L1165.6,1216.1 L1166.6,1218.3 L1167.6,1220.5 L1168.6,1222.7 L1169.6,1225.0 L1170.6,1227.3 L1171.6,1229.6 L1172.6,1231.9 L1173.6,1234.2 L1174.6,1236.5 L1175.6,1238.8 L1176.6,1241.2 L1177.6,1243.5 L1178.6,1245.9 L1179.6,1248.3 L1180.6,1250.7 L1181.6,1253.1 L1182.6,1255.5 L1183.6,1257.9 L1184.6,1260.3 L1185.6,1262.7 L1186.6,1265.2 L1187.6,1267.6 L1188.6,1270.1 L1189.6,1272.5 L1190.6,1275.0 L1191.6,1277.4 L1192.6,1279.9 L1193.6,1282.3 L1194.6,1284.7 L1195.6,1287.2 L1196.6,1289.6 L1197.6,1292.0 L1198.6,1294.3 L1199.6,1296.6 L1200.6,1298.9 L1201.6,1301.1 L1202.6,1303.3 L1203.6,1305.5 L1204.6,1307.6 L1205.6,1309.6 L1206.6,1311.6 L1207.6,1313.6 L1208.6,1315.5 L1209.6,1317.4 L1210.6,1319.3 L1211.6,1321.1 L1212.6,1322.9 L1213.6,1324.7 L1214.6,1326.4 L1215.6,1328.2 L1216.6,1329.9 L1217.6,1331.6 L1218.6,1333.3 L1219.6,1335.0 L1220.6,1336.7 L1221.6,1338.4 L1222.6,1340.1 L1223.6,1341.7 L1224.6,1343.4 L1225.6,1345.0 L1226.6,1346.6 L1227.6,1348.2 L1228.6,1349.8 L1229.6,1351.4 L1230.6,1352.9 L1231.6,1354.4 L1232.6,1355.9 L1233.6,1357.3 L1234.6,1358.7 L1235.6,1360.1 L1236.6,1361.4 L1237.6,1362.6 L1238.6,1363.9 L1239.6,1365.0 L1240.6,1366.1 L1241.6,1367.1 L1242.6,1368.1 L1243.6,1369.0 L1244.6,1369.9 L1245.6,1370.6 L1246.6,1371.3 L1247.6,1372.0 L1248.6,1372.6 L1249.6,1373.1 L1250.6,1373.6 L1251.6,1374.0 L1252.6,1374.3 L1253.6,1374.6 L1254.6,1374.9 L1255.6,1375.1 L1256.6,1375.3 L1257.6,1375.4 L1258.6,1375.5 L1259.6,1375.6 L1260.6,1375.7 L1261.6,1375.7 L1262.6,1375.7 L1263.6,1375.7 L1264.6,1375.7 L1265.6,1375.7 L1266.6,1375.7 L1267.6,1375.7 L1268.6,1375.7 L1269.6,1375.7 L1270.6,1375.7 L1271.6,1375.6 L1272.6,1375.6 L1273.6,1375.6 L1274.6,1375.6 L1275.6,1375.6 L1276.6,1375.6 L1277.6,1375.6 L1278.6,1375.5 L1279.6,1375.5 L1280.6,1375.5 L1281.6,1375.5 L1282.6,1375.5 L1283.6,1375.5 L1284.6,1375.4 L1285.6,1375.4 L1286.6,1375.4 L1287.6,1375.4 L1288.6,1375.4 L1289.6,1375.4 L1290.6,1375.4 L1291.6,1375.3 L1292.6,1375.3 L1293.6,1375.3 L1294.6,1375.3 L1295.6,1375.3 L1296.6,1375.3 L1297.6,1375.2 L1298.6,1375.2 L1299.6,1375.2 L1300.6,1375.2 L1301.6,1375.2 L1302.6,1375.1 L1303.6,1375.1 L1304.6,1375.1 L1305.6,1375.1 L1306.6,1375.1 L1307.6,1375.1 L1308.6,1375.0 L1309.6,1375.0 L1310.6,1375.0 L1311.6,1375.0 L1312.6,1375.0 L1313.6,1374.9 L1314.6,1374.9 L1315.6,1374.9 L1316.6,1374.9 L1317.6,1374.9 L1318.6,1374.8 L1319.6,1374.8 L1320.6,1374.8 L1321.6,1374.8 L1322.6,1374.8 L1323.6,1374.8 L1324.6,1374.7 L1325.6,1374.7 L1326.6,1374.7 L1327.6,1374.7 L1328.6,1374.7 L1329.6,1374.6 L1330.6,1374.6 L1331.6,1374.6 L1332.6,1374.6 L1333.6,1374.6 L1334.6,1374.6 L1335.6,1374.5 L1336.6,1374.5 L1337.6,1374.5 L1338.6,1374.5 L1339.6,1374.5 L1340.6,1374.5 L1341.6,1374.4 L1342.6,1374.4 L1343.6,1374.4 L1344.6,1374.4 L1345.6,1374.4 L1346.6,1374.4 L1347.6,1374.3 L1348.6,1374.3 L1349.6,1374.3 L1350.6,1374.3 L1351.6,1374.3 L1352.6,1374.3 L1353.6,1374.2 L1354.6,1374.2 L1355.6,1374.2 L1356.6,1374.2 L1357.6,1374.2 L1358.6,1374.2 L1359.6,1374.2 L1360.6,1374.1 L1361.6,1374.1 L1362.6,1374.1 L1363.6,1374.1 L1364.6,1374.1 L1365.6,1374.1 L1366.6,1374.1 L1367.6,1374.0 L1368.6,1374.0 L1369.6,1374.0 L1370.6,1374.0 L1371.6,1374.0 L1372.6,1374.0 L1373.6,1374.0 L1374.6,1373.9 L1375.6,1373.9 L1376.6,1373.9 L1377.6,1373.9 L1378.6,1373.9 L1379.6,1373.9 L1380.6,1373.9 L1381.6,1373.8 L1382.6,1373.8 L1383.6,1373.8 L1384.6,1373.8 L1385.6,1373.8 L1386.6,1373.8 L1387.6,1373.8 L1388.6,1373.7 L1389.6,1373.7 L1390.6,1373.7 L1391.6,1373.7 L1392.6,1373.7 L1393.6,1373.7 L1394.6,1373.7 L1395.6,1373.6 L1396.6,1373.6 L1397.6,1373.6 L1398.6,1373.6 L1399.6,1373.6 L1400.6,1373.6 L1401.6,1373.6 L1402.6,1373.5 L1403.6,1373.5 L1404.6,1373.5 L1405.6,1373.5 L1406.6,1373.5 L1407.6,1373.5 L1408.6,1373.5 L1409.6,1373.4 L1410.6,1373.4 L1411.6,1373.4 L1412.6,1373.4 L1413.6,1373.4 L1414.6,1373.4 L1415.6,1373.4 L1416.6,1373.4 L1417.6,1373.3 L1418.6,1373.3 L1419.6,1373.3 L1420.6,1373.3 L1421.6,1373.3 L1422.6,1373.3 L1423.6,1373.3 L1424.6,1373.2 L1425.6,1373.2 L1426.6,1373.2 L1427.6,1373.2 L1428.6,1373.2 L1429.6,1373.2 L1430.6,1373.2 L1431.6,1373.1 L1432.6,1373.1 L1433.6,1373.1 L1434.6,1373.1 L1435.6,1373.1 L1436.6,1373.1 L1437.6,1373.1 L1438.6,1373.1 L1439.6,1373.0 L1440.6,1373.0 L1441.6,1373.0 L1442.6,1373.0 L1443.6,1373.0 L1444.6,1373.0 L1445.6,1373.0 L1446.6,1372.9 L1447.6,1372.9 L1448.6,1372.9 L1449.6,1372.9 L1450.6,1372.9 L1451.6,1372.9 L1452.6,1372.9 L1453.6,1372.9 L1454.6,1372.8 L1455.6,1372.8 L1456.6,1372.8 L1457.6,1372.8 L1458.6,1372.8 L1459.6,1372.8 L1460.6,1372.8 L1461.6,1372.7 L1462.6,1372.7 L1463.6,1372.7 L1464.6,1372.7 L1465.6,1372.7 L1466.6,1372.7 L1467.6,1372.7 L1468.6,1372.7 L1469.6,1372.6 L1470.6,1372.6 L1471.6,1372.6 L1472.6,1372.6 L1473.6,1372.6 L1474.6,1372.6 L1475.6,1372.6 L1476.6,1372.6 L1477.6,1372.5 L1478.6,1372.5 L1479.6,1372.5 L1480.6,1372.5 L1481.6,1372.5 L1482.6,1372.5 L1483.6,1372.5 L1484.6,1372.5 L1485.6,1372.4 L1486.6,1372.4 L1487.6,1372.4 L1488.6,1372.4 L1489.6,1372.4 L1490.6,1372.4 L1491.6,1372.4 L1492.6,1372.4 L1493.6,1372.3 L1494.6,1372.3 L1495.6,1372.3 L1496.6,1372.3 L1497.6,1372.3 L1498.6,1372.3 L1499.6,1372.3 L1500.6,1372.3 L1501.6,1372.3 L1502.6,1372.2 L1503.6,1372.2 L1504.6,1372.2 L1505.6,1372.2 L1506.6,1372.2 L1507.6,1372.2 L1508.6,1372.2 L1509.6,1372.2 L1510.6,1372.1 L1511.6,1372.1 L1512.6,1372.1 L1513.6,1372.1 L1514.6,1372.1 L1515.6,1372.1 L1516.6,1372.1 L1517.6,1372.1 L1518.6,1372.1 L1519.6,1372.0 L1520.6,1372.0 L1521.6,1372.0 L1522.6,1372.0 L1523.6,1372.0 L1524.6,1372.0 L1525.6,1372.0 L1526.6,1372.0 L1527.6,1372.0 L1528.6,1371.9 L1529.6,1371.9 L1530.6,1371.9 L1531.6,1371.9 L1532.6,1371.9 L1533.6,1371.9 L1534.6,1371.9 L1535.6,1371.9 L1536.6,1371.9 L1537.6,1371.8 L1538.6,1371.8 L1539.6,1371.8 L1540.6,1371.8 L1541.6,1371.8 L1542.6,1371.8 L1543.6,1371.8 L1544.6,1371.8 L1545.6,1371.8 L1546.6,1371.7 L1547.6,1371.7 L1548.6,1371.7 L1549.6,1371.7 L1550.6,1371.7 L1551.6,1371.7 L1552.6,1371.7 L1553.6,1371.7 L1554.6,1371.7 L1555.6,1371.7 L1556.6,1371.6 L1557.6,1371.6 L1558.6,1371.6 L1559.6,1371.6 L1560.6,1371.6 L1561.6,1371.6 L1562.6,1371.6 L1563.6,1371.6 L1564.6,1371.6 L1565.6,1371.6 L1566.6,1371.5 L1567.6,1371.5 L1568.6,1371.5 L1569.6,1371.5 L1570.6,1371.5 L1571.6,1371.5 L1572.6,1371.5 L1573.6,1371.5 L1574.6,1371.5 L1575.6,1371.5 L1576.6,1371.4 L1577.6,1371.4 L1578.6,1371.4 L1579.6,1371.4 L1580.6,1371.4 L1581.6,1371.4 L1582.6,1371.4 L1583.6,1371.4 L1584.6,1371.4 L1585.6,1371.4 L1586.6,1371.4 L1587.6,1371.3 L1588.6,1371.3 L1589.6,1371.3 L1590.6,1371.3 L1591.6,1371.3 L1592.6,1371.3 L1593.6,1371.3 L1594.6,1371.3 L1595.6,1371.3 L1596.6,1371.3 L1597.6,1371.3 L1598.6,1371.2 L1599.6,1371.2 L1600.6,1371.2 L1601.6,1371.2 L1602.6,1371.2 L1603.6,1371.2 L1604.6,1371.2 L1605.6,1371.2 L1606.6,1371.2 L1607.6,1371.2 L1608.6,1371.2 L1609.6,1371.2 L1610.6,1371.1 L1611.6,1371.1 L1612.6,1371.1 L1613.6,1371.1 L1614.6,1371.1 L1615.6,1371.1 L1616.6,1371.1 L1617.6,1371.1 L1618.6,1371.1 L1619.6,1371.1 L1620.6,1371.1 L1621.6,1371.1 L1622.6,1371.1 L1623.6,1371.0 L1624.6,1371.0 L1625.6,1371.0 L1626.6,1371.0 L1627.6,1371.0 L1628.6,1371.0" stroke="#007f0e" stroke-width="10.4"/>
<path d="M147.6,2078.0 L148.6,2078.0 L149.6,2078.0 L150.6,2078.0 L151.6,2078.0 L152.6,2078.0 L153.6,2078.0 L154.6,2078.0 L155.6,2078.0 L156.6,2078.0 L157.6,2078.0 L158.6,2078.0 L159.6,2078.0 L160.6,2078.0 L161.6,2078.0 L162.6,2078.0 L163.6,2078.0 L164.6,2078.0 L165.6,2078.0 L166.6,2078.0 L167.6,2078.0 L168.6,2078.0 L169.6,2078.0 L170.6,2078.0 L171.6,2078.0 L172.6,2078.0 L173.6,2078.0 L174.6,2078.0 L175.6,2078.0 L176.6,2078.0 L177.6,2078.0 L178.6,2078.0 L179.6,2078.0 L180.6,2078.0 L181.6,2078.0 L182.6,2078.0 L183.6,2078.0 L184.6,2078.0 L185.6,2078.0 L186.6,2078.0 L187.6,2078.0 L188.6,2078.0 L189.6,2078.0 L190.6,2078.0 L191.6,2077.9 L192.6,2077.9 L193.6,2077.9 L194.6,2077.9 L195.6,2077.9 L196.6,2077.9 L197.6,2077.9 L198.6,2077.9 L199.6,2077.9 L200.6,2077.9 L201.6,2077.9 L202.6,2077.9 L203.6,2077.9 L204.6,2077.9 L205.6,2077.9 L206.6,2077.9 L207.6,2077.9 L208.6,2077.9 L209.6,2077.9 L210.6,2077.9 L211.6,2077.9 L212.6,2077.9 L213.6,2077.9 L214.6,2077.9 L215.6,2077.9 L216.6,2077.9 L217.6,2077.9 L218.6,2077.9 L219.6,2077.9 L220.6,2077.9 L221.6,2077.9 L222.6,2077.9 L223.6,2077.9 L224.6,2077.9 L225.6,2077.8 L226.6,2077.8 L227.6,2077.8 L228.6,2077.8 L229.6,2077.8 L230.6,2077.8 L231.6,2077.8 L232.6,2077.8 L233.6,2077.8 L234.6,2077.8 L235.6,2077.8 L236.6,2077.8 L237.6,2077.8 L238.6,2077.8 L239.6,2077.8 L240.6,2077.8 L241.6,2077.8 L242.6,2077.8 L243.6,2077.8 L244.6,2077.8 L245.6,2077.8 L246.6,2077.8 L247.6,2077.8 L248.6,2077.8 L249.6,2077.8 L250.6,2077.7 L251.6,2077.7 L252.6,2077.7 L253.6,2077.7 L254.6,2077.7 L255.6,2077.7 L256.6,2077.7 L257.6,2077.7 L258.6,2077.7 L259.6,2077.7 L260.6,2077.7 L261.6,2077.7 L262.6,2077.7 L263.6,2077.7 L264.6,2077.7 L265.6,2077.7 L266.6,2077.7 L267.6,2077.7 L268.6,2077.7 L269.6,2077.7 L270.6,2077.7 L271.6,2077.6 L272.6,2077.6 L273.6,2077.6 L274.6,2077.6 L275.6,2077.6 L276.6,2077.6 L277.6,2077.6 L278.6,2077.6 L279.6,2077.6 L280.6,2077.6 L281.6,2077.6 L282.6,2077.6 L283.6,2077.6 L284.6,2077.6 L285.6,2077.6 L286.6,2077.6 L287.6,2077.6 L288.6,2077.6 L289.6,2077.6 L290.6,2077.6 L291.6,2077.5 L292.6,2077.5 L293.6,2077.5 L294.6,2077.5 L295.6,2077.5 L296.6,2077.5 L297.6,2077.5 L298.6,2077.5 L299.6,2077.5 L300.6,2077.5 L301.6,2077.5 L302.6,2077.5 L303.6,2077.5 L304.6,2077.5 L305.6,2077.5 L306.6,2077.5 L307.6,2077.5 L308.6,2077.4 L309.6,2077.4 L310.6,2077.4 L311.6,2077.4 L312.6,2077.4 L313.6,2077.4 L314.6,2077.4 L315.6,2077.4 L316.6,2077.4 L317.6,2077.4 L318.6,2077.4 L319.6,2077.4 L320.6,2077.4 L321.6,2077.3 L322.6,2077.3 L323.6,2077.3 L324.6,2077.3 L325.6,2077.3 L326.6,2077.3 L327.6,2077.3 L328.6,2077.3 L329.6,2077.3 L330.6,2077.3 L331.6,2077.3 L332.6,2077.2 L333.6,2077.2 L334.6,2077.2 L335.6,2077.2 L336.6,2077.2 L337.6,2077.2 L338.6,2077.2 L339.6,2077.2 L340.6,2077.2 L341.6,2077.1 L342.6,2077.1 L343.6,2077.1 L344.6,2077.1 L345.6,2077.1 L346.6,2077.1 L347.6,2077.1 L348.6,2077.0 L349.6,2077.0 L350.6,2077.0 L351.6,2077.0 L352.6,2077.0 L353.6,2077.0 L354.6,2077.0 L355.6,2076.9 L356.6,2076.9 L357.6,2076.9 L358.6,2076.9 L359.6,2076.9 L360.6,2076.9 L361.6,2076.9 L362.6,2076.8 L363.6,2076.8 L364.6,2076.8 L365.6,2076.8 L366.6,2076.8 L367.6,2076.7 L368.6,2076.7 L369.6,2076.7 L370.6,2076.7 L371.6,2076.7 L372.6,2076.6 L373.6,2076.6 L374.6,2076.6 L375.6,2076.6 L376.6,2076.6 L377.6,2076.5 L378.6,2076.5 L379.6,2076.5 L380.6,2076.5 L381.6,2076.4 L382.6,2076.4 L383.6,2076.4 L384.6,2076.4 L385.6,2076.3 L386.6,2076.3 L387.6,2076.3 L388.6,2076.2 L389.6,2076.2 L390.6,2076.2 L391.6,2076.1 L392.6,2076.1 L393.6,2076.0 L394.6,2076.0 L395.6,2075.9 L396.6,2075.9 L397.6,2075.8 L398.6,2075.8 L399.6,2075.7 L400.6,2075.7 L401.6,2075.6 L402.6,2075.6 L403.6,2075.5 L404.6,2075.4 L405.6,2075.4 L406.6,2075.3 L407.6,2075.3 L408.6,2075.2 L409.6,2075.1 L410.6,2075.1 L411.6,2075.0 L412.6,2074.9 L413.6,2074.8 L414.6,2074.8 L415.6,2074.7 L416.6,2074.6 L417.6,2074.5 L418.6,2074.5 L419.6,2074.4 L420.6,2074.3 L421.6,2074.2 L422.6,2074.1 L423.6,2074.0 L424.6,2074.0 L425.6,2073.9 L426.6,2073.8 L427.6,2073.7 L428.6,2073.6 L429.6,2073.5 L430.6,2073.4 L431.6,2073.3 L432.6,2073.2 L433.6,2073.1 L434.6,2073.0 L435.6,2072.8 L436.6,2072.7 L437.6,2072.6 L438.6,2072.4 L439.6,2072.3 L440.6,2072.2 L441.6,2072.0 L442.6,2071.9 L443.6,2071.7 L444.6,2071.5 L445.6,2071.4 L446.6,2071.2 L447.6,2071.0 L448.6,2070.8 L449.6,2070.7 L450.6,2070.5 L451.6,2070.3 L452.6,2070.1 L453.6,2069.9 L454.6,2069.7 L455.6,2069.5 L456.6,2069.3 L457.6,2069.1 L458.6,2068.9 L459.6,2068.7 L460.6,2068.4 L461.6,2068.2 L462.6,2068.0 L463.6,2067.8 L464.6,2067.5 L465.6,2067.3 L466.6,2067.0 L467.6,2066.8 L468.6,2066.5 L469.6,2066.3 L470.6,2066.0 L471.6,2065.7 L472.6,2065.4 L473.6,2065.2 L474.6,2064.9 L475.6,2064.6 L476.6,2064.2 L477.6,2063.9 L478.6,2063.6 L479.6,2063.3 L480.6,2062.9 L481.6,2062.6 L482.6,2062.2 L483.6,2061.9 L484.6,2061.5 L485.6,2061.1 L486.6,2060.7 L487.6,2060.4 L488.6,2060.0 L489.6,2059.6 L490.6,2059.1 L491.6,2058.7 L492.6,2058.3 L493.6,2057.8 L494.6,2057.4 L495.6,2056.9 L496.6,2056.4 L497.6,2056.0 L498.6,2055.5 L499.6,2055.0 L500.6,2054.4 L501.6,2053.9 L502.6,2053.4 L503.6,2052.8 L504.6,2052.2 L505.6,2051.7 L506.6,2051.1 L507.6,2050.5 L508.6,2049.9 L509.6,2049.2 L510.6,2048.6 L511.6,2047.9 L512.6,2047.3 L513.6,2046.6 L514.6,2045.9 L515.6,2045.2 L516.6,2044.5 L517.6,2043.7 L518.6,2043.0 L519.6,2042.2 L520.6,2041.4 L521.6,2040.6 L522.6,2039.8 L523.6,2038.9 L524.6,2038.1 L525.6,2037.2 L526.6,2036.3 L527.6,2035.4 L528.6,2034.4 L529.6,2033.5 L530.6,2032.5 L531.6,2031.5 L532.6,2030.5 L533.6,2029.5 L534.6,2028.5 L535.6,2027.4 L536.6,2026.3 L537.6,2025.2 L538.6,2024.0 L539.6,2022.9 L540.6,2021.7 L541.6,2020.5 L542.6,2019.2 L543.6,2017.9 L544.6,2016.6 L545.6,2015.3 L546.6,2013.9 L547.6,2012.6 L548.6,2011.1 L549.6,2009.7 L550.6,2008.2 L551.6,2006.7 L552.6,2005.2 L553.6,2003.6 L554.6,2002.0 L555.6,2000.3 L556.6,1998.6 L557.6,1996.8 L558.6,1995.0 L559.6,1993.2 L560.6,1991.2 L561.6,1989.3 L562.6,1987.2 L563.6,1985.1 L564.6,1982.8 L565.6,1980.5 L566.6,1978.1 L567.6,1975.6 L568.6,1973.0 L569.6,1970.2 L570.6,1967.4 L571.6,1964.3 L572.6,1961.1 L573.6,1957.8 L574.6,1954.2 L575.6,1950.5 L576.6,1946.5 L577.6,1942.3 L578.6,1937.9 L579.6,1933.2 L580.6,1928.3 L581.6,1923.1 L582.6,1917.5 L583.6,1911.4 L584.6,1904.8 L585.6,1897.5 L586.6,1889.5 L587.6,1880.7 L588.6,1871.0 L589.6,1860.4 L590.6,1846.9 L591.6,1830.8 L592.6,1813.1 L593.6,1795.0 L594.6,1777.0 L595.6,1757.8 L596.6,1738.0 L597.6,1718.5 L598.6,1700.5 L599.6,1684.2 L600.6,1668.6 L601.6,1653.6 L602.6,1639.6 L603.6,1626.8 L604.6,1615.1 L605.6,1604.0 L606.6,1593.6 L607.6,1584.4 L608.6,1576.9 L609.6,1571.1 L610.6,1566.2 L611.6,1562.5 L612.6,1560.2 L613.6,1558.4 L614.6,1557.6 L615.6,1558.4 L616.6,1560.2 L617.6,1562.5 L618.6,1565.7 L619.6,1570.0 L620.6,1575.0 L621.6,1581.5 L622.6,1589.7 L623.6,1599.2 L624.6,1609.4 L625.6,1619.5 L626.6,1630.1 L627.6,1641.4 L628.6,1653.3 L629.6,1665.4 L630.6,1677.6 L631.6,1689.6 L632.6,1701.3 L633.6,1713.1 L634.6,1724.9 L635.6,1736.8 L636.6,1748.5 L637.6,1760.1 L638.6,1771.4 L639.6,1782.3 L640.6,1792.9 L641.6,1803.2 L642.6,1813.2 L643.6,1822.9 L644.6,1832.5 L645.6,1841.9 L646.6,1851.2 L647.6,1860.3 L648.6,1869.2 L649.6,1877.7 L650.6,1885.7 L651.6,1893.4 L652.6,1900.7 L653.6,1907.6 L654.6,1914.2 L655.6,1920.4 L656.6,1926.3 L657.6,1931.8 L658.6,1936.9 L659.6,1941.7 L660.6,1946.2 L661.6,1950.3 L662.6,1954.2 L663.6,1957.8 L664.6,1961.2 L665.6,1964.4 L666.6,1967.4 L667.6,1970.2 L668.6,1972.8 L669.6,1975.3 L670.6,1977.6 L671.6,1979.8 L672.6,1981.8 L673.6,1983.7 L674.6,1985.5 L675.6,1987.1 L676.6,1988.7 L677.6,1990.0 L678.6,1991.3 L679.6,1992.5 L680.6,1993.5 L681.6,1994.5 L682.6,1995.3 L683.6,1996.1 L684.6,1996.7 L685.6,1997.3 L686.6,1997.9 L687.6,1998.3 L688.6,1998.7 L689.6,1999.0 L690.6,1999.3 L691.6,1999.5 L692.6,1999.6 L693.6,1999.8 L694.6,1999.9 L695.6,2000.0 L696.6,2000.0 L697.6,2000.1 L698.6,2000.1 L699.6,2000.1 L700.6,2000.0 L701.6,2000.0 L702.6,1999.9 L703.6,1999.8 L704.6,1999.6 L705.6,1999.5 L706.6,1999.3 L707.6,1999.1 L708.6,1998.8 L709.6,1998.5 L710.6,1998.2 L711.6,1997.9 L712.6,1997.6 L713.6,1997.2 L714.6,1996.9 L715.6,1996.5 L716.6,1996.1 L717.6,1995.7 L718.6,1995.3 L719.6,1995.0 L720.6,1994.6 L721.6,1994.2 L722.6,1993.8 L723.6,1993.4 L724.6,1993.0 L725.6,1992.6 L726.6,1992.2 L727.6,1991.9 L728.6,1991.5 L729.6,1991.1 L730.6,1990.7 L731.6,1990.3 L732.6,1989.9 L733.6,1989.4 L734.6,1989.0 L735.6,1988.6 L736.6,1988.2 L737.6,1987.8 L738.6,1987.4 L739.6,1987.0 L740.6,1986.6 L741.6,1986.2 L742.6,1985.8 L743.6,1985.4 L744.6,1985.0 L745.6,1984.6 L746.6,1984.3 L747.6,1983.9 L748.6,1983.6 L749.6,1983.3 L750.6,1982.9 L751.6,1982.6 L752.6,1982.3 L753.6,1982.0 L754.6,1981.7 L755.6,1981.5 L756.6,1981.2 L757.6,1980.9 L758.6,1980.7 L759.6,1980.4 L760.6,1980.2 L761.6,1979.9 L762.6,1979.7 L763.6,1979.4 L764.6,1979.2 L765.6,1979.0 L766.6,1978.8 L767.6,1978.5 L768.6,1978.3 L769.6,1978.1 L770.6,1977.9 L771.6,1977.7 L772.6,1977.5 L773.6,1977.3 L774.6,1977.2 L775.6,1977.0 L776.6,1976.8 L777.6,1976.7 L778.6,1976.5 L779.6,1976.4 L780.6,1976.3 L781.6,1976.1 L782.6,1976.0 L783.6,1975.9 L784.6,1975.8 L785.6,1975.7 L786.6,1975.6 L787.6,1975.5 L788.6,1975.4 L789.6,1975.4 L790.6,1975.3 L791.6,1975.2 L792.6,1975.2 L793.6,1975.1 L794.6,1975.1 L795.6,1975.0 L796.6,1975.0 L797.6,1975.0 L798.6,1974.9 L799.6,1974.9 L800.6,1974.9 L801.6,1975.0 L802.6,1975.0 L803.6,1975.0 L804.6,1975.1 L805.6,1975.1 L806.6,1975.2 L807.6,1975.3 L808.6,1975.4 L809.6,1975.5 L810.6,1975.6 L811.6,1975.7 L812.6,1975.8 L813.6,1975.9 L814.6,1976.1 L815.6,1976.2 L816.6,1976.4 L817.6,1976.5 L818.6,1976.7 L819.6,1976.8 L820.6,1977.0 L821.6,1977.2 L822.6,1977.3 L823.6,1977.5 L824.6,1977.7 L825.6,1977.9 L826.6,1978.0 L827.6,1978.2 L828.6,1978.4 L829.6,1978.6 L830.6,1978.8 L831.6,1979.0 L832.6,1979.1 L833.6,1979.3 L834.6,1979.5 L835.6,1979.7 L836.6,1980.0 L837.6,1980.2 L838.6,1980.4 L839.6,1980.6 L840.6,1980.8 L841.6,1981.1 L842.6,1981.3 L843.6,1981.6 L844.6,1981.8 L845.6,1982.1 L846.6,1982.3 L847.6,1982.6 L848.6,1982.9 L849.6,1983.1 L850.6,1983.4 L851.6,1983.7 L852.6,1983.9 L853.6,1984.2 L854.6,1984.5 L855.6,1984.8 L856.6,1985.1 L857.6,1985.3 L858.6,1985.6 L859.6,1985.9 L860.6,1986.2 L861.6,1986.5 L862.6,1986.8 L863.6,1987.1 L864.6,1987.5 L865.6,1987.8 L866.6,1988.1 L867.6,1988.4 L868.6,1988.7 L869.6,1989.1 L870.6,1989.4 L871.6,1989.7 L872.6,1990.0 L873.6,1990.3 L874.6,1990.6 L875.6,1990.9 L876.6,1991.2 L877.6,1991.5 L878.6,1991.7 L879.6,1992.0 L880.6,1992.2 L881.6,1992.4 L882.6,1992.6 L883.6,1992.8 L884.6,1993.0 L885.6,1993.2 L886.6,1993.3 L887.6,1993.5 L888.6,1993.6 L889.6,1993.8 L890.6,1993.9 L891.6,1994.1 L892.6,1994.2 L893.6,1994.4 L894.6,1994.5 L895.6,1994.6 L896.6,1994.7 L897.6,1994.9 L898.6,1995.0 L899.6,1995.1 L900.6,1995.2 L901.6,1995.3 L902.6,1995.4 L903.6,1995.5 L904.6,1995.5 L905.6,1995.6 L906.6,1995.7 L907.6,1995.7 L908.6,1995.8 L909.6,1995.9 L910.6,1995.9 L911.6,1996.0 L912.6,1996.0 L913.6,1996.0 L914.6,1996.1 L915.6,1996.1 L916.6,1996.1 L917.6,1996.2 L918.6,1996.2 L919.6,1996.2 L920.6,1996.2 L921.6,1996.2 L922.6,1996.3 L923.6,1996.3 L924.6,1996.3 L925.6,1996.3 L926.6,1996.3 L927.6,1996.3 L928.6,1996.3 L929.6,1996.3 L930.6,1996.3 L931.6,1996.3 L932.6,1996.3 L933.6,1996.2 L934.6,1996.2 L935.6,1996.1 L936.6,1996.1 L937.6,1996.0 L938.6,1995.9 L939.6,1995.8 L940.6,1995.7 L941.6,1995.5 L942.6,1995.4 L943.6,1995.2 L944.6,1995.1 L945.6,1994.9 L946.6,1994.7 L947.6,1994.5 L948.6,1994.3 L949.6,1994.1 L950.6,1993.9 L951.6,1993.7 L952.6,1993.5 L953.6,1993.3 L954.6,1993.1 L955.6,1992.9 L956.6,1992.6 L957.6,1992.4 L958.6,1992.2 L959.6,1991.9 L960.6,1991.7 L961.6,1991.4 L962.6,1991.2 L963.6,1990.9 L964.6,1990.6 L965.6,1990.4 L966.6,1990.1 L967.6,1989.8 L968.6,1989.5 L969.6,1989.2 L970.6,1988.9 L971.6,1988.6 L972.6,1988.3 L973.6,1988.0 L974.6,1987.6 L975.6,1987.3 L976.6,1987.0 L977.6,1986.6 L978.6,1986.3 L979.6,1986.0 L980.6,1985.6 L981.6,1985.3 L982.6,1985.0 L983.6,1984.6 L984.6,1984.3 L985.6,1984.0 L986.6,1983.6 L987.6,1983.3 L988.6,1983.0 L989.6,1982.6 L990.6,1982.3 L991.6,1981.9 L992.6,1981.6 L993.6,1981.2 L994.6,1980.9 L995.6,1980.5 L996.6,1980.2 L997.6,1979.8 L998.6,1979.5 L999.6,1979.1 L1000.6,1978.8 L1001.6,1978.4 L1002.6,1978.0 L1003.6,1977.7 L1004.6,1977.3 L1005.6,1977.0 L1006.6,1976.6 L1007.6,1976.3 L1008.6,1975.9 L1009.6,1975.6 L1010.6,1975.2 L1011.6,1974.9 L1012.6,1974.6 L1013.6,1974.2 L1014.6,1973.9 L1015.6,1973.6 L1016.6,1973.3 L1017.6,1973.0 L1018.6,1972.7 L1019.6,1972.3 L1020.6,1972.0 L1021.6,1971.7 L1022.6,1971.4 L1023.6,1971.1 L1024.6,1970.9 L1025.6,1970.6 L1026.6,1970.3 L1027.6,1970.0 L1028.6,1969.7 L1029.6,1969.4 L1030.6,1969.1 L1031.6,1968.8 L1032.6,1968.6 L1033.6,1968.3 L1034.6,1968.0 L1035.6,1967.8 L1036.6,1967.5 L1037.6,1967.3 L1038.6,1967.0 L1039.6,1966.8 L1040.6,1966.6 L1041.6,1966.3 L1042.6,1966.1 L1043.6,1965.9 L1044.6,1965.7 L1045.6,1965.5 L1046.6,1965.3 L1047.6,1965.2 L1048.6,1965.0 L1049.6,1964.8 L1050.6,1964.7 L1051.6,1964.5 L1052.6,1964.4 L1053.6,1964.2 L1054.6,1964.1 L1055.6,1964.0 L1056.6,1963.8 L1057.6,1963.7 L1058.6,1963.6 L1059.6,1963.5 L1060.6,1963.4 L1061.6,1963.3 L1062.6,1963.2 L1063.6,1963.1 L1064.6,1963.0 L1065.6,1963.0 L1066.6,1962.9 L1067.6,1962.8 L1068.6,1962.8 L1069.6,1962.7 L1070.6,1962.7 L1071.6,1962.7 L1072.6,1962.7 L1073.6,1962.7 L1074.6,1962.7 L1075.6,1962.7 L1076.6,1962.7 L1077.6,1962.7 L1078.6,1962.7 L1079.6,1962.7 L1080.6,1962.7 L1081.6,1962.8 L1082.6,1962.8 L1083.6,1962.8 L1084.6,1962.9 L1085.6,1962.9 L1086.6,1963.0 L1087.6,1963.0 L1088.6,1963.1 L1089.6,1963.2 L1090.6,1963.3 L1091.6,1963.4 L1092.6,1963.6 L1093.6,1963.8 L1094.6,1964.0 L1095.6,1964.2 L1096.6,1964.4 L1097.6,1964.7 L1098.6,1965.0 L1099.6,1965.3 L1100.6,1965.6 L1101.6,1966.0 L1102.6,1966.3 L1103.6,1966.7 L1104.6,1967.1 L1105.6,1967.5 L1106.6,1967.9 L1107.6,1968.3 L1108.6,1968.7 L1109.6,1969.2 L1110.6,1969.6 L1111.6,1970.1 L1112.6,1970.5 L1113.6,1971.0 L1114.6,1971.5 L1115.6,1972.0 L1116.6,1972.5 L1117.6,1973.1 L1118.6,1973.6 L1119.6,1974.2 L1120.6,1974.7 L1121.6,1975.3 L1122.6,1975.9 L1123.6,1976.6 L1124.6,1977.2 L1125.6,1977.9 L1126.6,1978.5 L1127.6,1979.2 L1128.6,1979.9 L1129.6,1980.6 L1130.6,1981.3 L1131.6,1982.1 L1132.6,1982.8 L1133.6,1983.6 L1134.6,1984.4 L1135.6,1985.2 L1136.6,1986.0 L1137.6,1986.8 L1138.6,1987.7 L1139.6,1988.5 L1140.6,1989.4 L1141.6,1990.3 L1142.6,1991.2 L1143.6,1992.1 L1144.6,1993.0 L1145.6,1993.9 L1146.6,1994.9 L1147.6,1995.9 L1148.6,1996.8 L1149.6,1997.8 L1150.6,1998.8 L1151.6,1999.8 L1152.6,2000.8 L1153.6,2001.9 L1154.6,2002.9 L1155.6,2003.9 L1156.6,2005.0 L1157.6,2006.0 L1158.6,2007.1 L1159.6,2008.2 L1160.6,2009.2 L1161.6,2010.3 L1162.6,2011.4 L1163.6,2012.5 L1164.6,2013.5 L1165.6,2014.6 L1166.6,2015.7 L1167.6,2016.9 L1168.6,2018.0 L1169.6,2019.1 L1170.6,2020.2 L1171.6,2021.4 L1172.6,2022.5 L1173.6,2023.7 L1174.6,2024.8 L1175.6,2026.0 L1176.6,2027.2 L1177.6,2028.4 L1178.6,2029.6 L1179.6,2030.8 L1180.6,2032.0 L1181.6,2033.2 L1182.6,2034.4 L1183.6,2035.6 L1184.6,2036.8 L1185.6,2038.0 L1186.6,2039.1 L1187.6,2040.3 L1188.6,2041.5 L1189.6,2042.7 L1190.6,2043.8 L1191.6,2045.0 L1192.6,2046.1 L1193.6,2047.3 L1194.6,2048.4 L1195.6,2049.5 L1196.6,2050.6 L1197.6,2051.7 L1198.6,2052.8 L1199.6,2053.9 L1200.6,2055.0 L1201.6,2056.0 L1202.6,2057.0 L1203.6,2058.1 L1204.6,2059.1 L1205.6,2060.1 L1206.6,2061.0 L1207.6,2062.0 L1208.6,2062.9 L1209.6,2063.8 L1210.6,2064.6 L1211.6,2065.5 L1212.6,2066.2 L1213.6,2067.0 L1214.6,2067.7 L1215.6,2068.3 L1216.6,2068.9 L1217.6,2069.5 L1218.6,2070.0 L1219.6,2070.5 L1220.6,2070.9 L1221.6,2071.3 L1222.6,2071.7 L1223.6,2072.0 L1224.6,2072.2 L1225.6,2072.5 L1226.6,2072.7 L1227.6,2072.9 L1228.6,2073.0 L1229.6,2073.1 L1230.6,2073.2 L1231.6,2073.3 L1232.6,2073.3 L1233.6,2073.3 L1234.6,2073.4 L1235.6,2073.4 L1236.6,2073.4 L1237.6,2073.4 L1238.6,2073.4 L1239.6,2073.4 L1240.6,2073.4 L1241.6,2073.4 L1242.6,2073.4 L1243.6,2073.4 L1244.6,2073.4 L1245.6,2073.4 L1246.6,2073.4 L1247.6,2073.4 L1248.6,2073.4 L1249.6,2073.4 L1250.6,2073.4 L1251.6,2073.4 L1252.6,2073.4 L1253.6,2073.4 L1254.6,2073.4 L1255.6,2073.4 L1256.6,2073.4 L1257.6,2073.4 L1258.6,2073.4 L1259.6,2073.4 L1260.6,2073.4 L1261.6,2073.3 L1262.6,2073.3 L1263.6,2073.3 L1264.6,2073.3 L1265.6,2073.3 L1266.6,2073.3 L1267.6,2073.3 L1268.6,2073.3 L1269.6,2073.3 L1270.6,2073.3 L1271.6,2073.2 L1272.6,2073.2 L1273.6,2073.2 L1274.6,2073.2 L1275.6,2073.2 L1276.6,2073.2 L1277.6,2073.2 L1278.6,2073.1 L1279.6,2073.1 L1280.6,2073.1 L1281.6,2073.1 L1282.6,2073.1 L1283.6,2073.1 L1284.6,2073.0 L1285.6,2073.0 L1286.6,2073.0 L1287.6,2073.0 L1288.6,2073.0 L1289.6,2073.0 L1290.6,2072.9 L1291.6,2072.9 L1292.6,2072.9 L1293.6,2072.9 L1294.6,2072.8 L1295.6,2072.8 L1296.6,2072.8 L1297.6,2072.8 L1298.6,2072.8 L1299.6,2072.7 L1300.6,2072.7 L1301.6,2072.7 L1302.6,2072.7 L1303.6,2072.7 L1304.6,2072.6 L1305.6,2072.6 L1306.6,2072.6 L1307.6,2072.6 L1308.6,2072.5 L1309.6,2072.5 L1310.6,2072.5 L1311.6,2072.5 L1312.6,2072.4 L1313.6,2072.4 L1314.6,2072.4 L1315.6,2072.4 L1316.6,2072.3 L1317.6,2072.3 L1318.6,2072.3 L1319.6,2072.3 L1320.6,2072.3 L1321.6,2072.2 L1322.6,2072.2 L1323.6,2072.2 L1324.6,2072.2 L1325.6,2072.1 L1326.6,2072.1 L1327.6,2072.1 L1328.6,2072.1 L1329.6,2072.0 L1330.6,2072.0 L1331.6,2072.0 L1332.6,2072.0 L1333.6,2071.9 L1334.6,2071.9 L1335.6,2071.9 L1336.6,2071.9 L1337.6,2071.9 L1338.6,2071.8 L1339.6,2071.8 L1340.6,2071.8 L1341.6,2071.8 L1342.6,2071.8 L1343.6,2071.7 L1344.6,2071.7 L1345.6,2071.7 L1346.6,2071.7 L1347.6,2071.6 L1348.6,2071.6 L1349.6,2071.6 L1350.6,2071.6 L1351.6,2071.6 L1352.6,2071.6 L1353.6,2071.5 L1354.6,2071.5 L1355.6,2071.5 L1356.6,2071.5 L1357.6,2071.5 L1358.6,2071.4 L1359.6,2071.4 L1360.6,2071.4 L1361.6,2071.4 L1362.6,2071.4 L1363.6,2071.3 L1364.6,2071.3 L1365.6,2071.3 L1366.6,2071.3 L1367.6,2071.3 L1368.6,2071.2 L1369.6,2071.2 L1370.6,2071.2 L1371.6,2071.2 L1372.6,2071.2 L1373.6,2071.2 L1374.6,2071.1 L1375.6,2071.1 L1376.6,2071.1 L1377.6,2071.1 L1378.6,2071.1 L1379.6,2071.0 L1380.6,2071.0 L1381.6,2071.0 L1382.6,2071.0 L1383.6,2071.0 L1384.6,2070.9 L1385.6,2070.9 L1386.6,2070.9 L1387.6,2070.9 L1388.6,2070.9 L1389.6,2070.8 L1390.6,2070.8 L1391.6,2070.8 L1392.6,2070.8 L1393.6,2070.8 L1394.6,2070.8 L1395.6,2070.7 L1396.6,2070.7 L1397.6,2070.7 L1398.6,2070.7 L1399.6,2070.7 L1400.6,2070.6 L1401.6,2070.6 L1402.6,2070.6 L1403.6,2070.6 L1404.6,2070.6 L1405.6,2070.5 L1406.6,2070.5 L1407.6,2070.5 L1408.6,2070.5 L1409.6,2070.5 L1410.6,2070.4 L1411.6,2070.4 L1412.6,2070.4 L1413.6,2070.4 L1414.6,2070.4 L1415.6,2070.4 L1416.6,2070.3 L1417.6,2070.3 L1418.6,2070.3 L1419.6,2070.3 L1420.6,2070.3 L1421.6,2070.2 L1422.6,2070.2 L1423.6,2070.2 L1424.6,2070.2 L1425.6,2070.2 L1426.6,2070.1 L1427.6,2070.1 L1428.6,2070.1 L1429.6,2070.1 L1430.6,2070.1 L1431.6,2070.0 L1432.6,2070.0 L1433.6,2070.0 L1434.6,2070.0 L1435.6,2070.0 L1436.6,2069.9 L1437.6,2069.9 L1438.6,2069.9 L1439.6,2069.9 L1440.6,2069.9 L1441.6,2069.8 L1442.6,2069.8 L1443.6,2069.8 L1444.6,2069.8 L1445.6,2069.8 L1446.6,2069.7 L1447.6,2069.7 L1448.6,2069.7 L1449.6,2069.7 L1450.6,2069.7 L1451.6,2069.7 L1452.6,2069.6 L1453.6,2069.6 L1454.6,2069.6 L1455.6,2069.6 L1456.6,2069.6 L1457.6,2069.5 L1458.6,2069.5 L1459.6,2069.5 L1460.6,2069.5 L1461.6,2069.5 L1462.6,2069.4 L1463.6,2069.4 L1464.6,2069.4 L1465.6,2069.4 L1466.6,2069.4 L1467.6,2069.3 L1468.6,2069.3 L1469.6,2069.3 L1470.6,2069.3 L1471.6,2069.3 L1472.6,2069.2 L1473.6,2069.2 L1474.6,2069.2 L1475.6,2069.2 L1476.6,2069.2 L1477.6,2069.1 L1478.6,2069.1 L1479.6,2069.1 L1480.6,2069.1 L1481.6,2069.1 L1482.6,2069.0 L1483.6,2069.0 L1484.6,2069.0 L1485.6,2069.0 L1486.6,2069.0 L1487.6,2068.9 L1488.6,2068.9 L1489.6,2068.9 L1490.6,2068.9 L1491.6,2068.9 L1492.6,2068.8 L1493.6,2068.8 L1494.6,2068.8 L1495.6,2068.8 L1496.6,2068.8 L1497.6,2068.7 L1498.6,2068.7 L1499.6,2068.7 L1500.6,2068.7 L1501.6,2068.7 L1502.6,2068.6 L1503.6,2068.6 L1504.6,2068.6 L1505.6,2068.6 L1506.6,2068.6 L1507.6,2068.5 L1508.6,2068.5 L1509.6,2068.5 L1510.6,2068.5 L1511.6,2068.5 L1512.6,2068.4 L1513.6,2068.4 L1514.6,2068.4 L1515.6,2068.4 L1516.6,2068.4 L1517.6,2068.3 L1518.6,2068.3 L1519.6,2068.3 L1520.6,2068.3 L1521.6,2068.3 L1522.6,2068.2 L1523.6,2068.2 L1524.6,2068.2 L1525.6,2068.2 L1526.6,2068.2 L1527.6,2068.1 L1528.6,2068.1 L1529.6,2068.1 L1530.6,2068.1 L1531.6,2068.1 L1532.6,2068.0 L1533.6,2068.0 L1534.6,2068.0 L1535.6,2068.0 L1536.6,2067.9 L1537.6,2067.9 L1538.6,2067.9 L1539.6,2067.9 L1540.6,2067.9 L1541.6,2067.8 L1542.6,2067.8 L1543.6,2067.8 L1544.6,2067.8 L1545.6,2067.8 L1546.6,2067.7 L1547.6,2067.7 L1548.6,2067.7 L1549.6,2067.7 L1550.6,2067.7 L1551.6,2067.6 L1552.6,2067.6 L1553.6,2067.6 L1554.6,2067.6 L1555.6,2067.6 L1556.6,2067.5 L1557.6,2067.5 L1558.6,2067.5 L1559.6,2067.5 L1560.6,2067.5 L1561.6,2067.4 L1562.6,2067.4 L1563.6,2067.4 L1564.6,2067.4 L1565.6,2067.4 L1566.6,2067.3 L1567.6,2067.3 L1568.6,2067.3 L1569.6,2067.3 L1570.6,2067.2 L1571.6,2067.2 L1572.6,2067.2 L1573.6,2067.2 L1574.6,2067.2 L1575.6,2067.1 L1576.6,2067.1 L1577.6,2067.1 L1578.6,2067.1 L1579.6,2067.1 L1580.6,2067.0 L1581.6,2067.0 L1582.6,2067.0 L1583.6,2067.0 L1584.6,2067.0 L1585.6,2066.9 L1586.6,2066.9 L1587.6,2066.9 L1588.6,2066.9 L1589.6,2066.8 L1590.6,2066.8 L1591.6,2066.8 L1592.6,2066.8 L1593.6,2066.8 L1594.6,2066.7 L1595.6,2066.7 L1596.6,2066.7 L1597.6,2066.7 L1598.6,2066.7 L1599.6,2066.6 L1600.6,2066.6 L1601.6,2066.6 L1602.6,2066.6 L1603.6,2066.6 L1604.6,2066.5 L1605.6,2066.5 L1606.6,2066.5 L1607.6,2066.5 L1608.6,2066.4 L1609.6,2066.4 L1610.6,2066.4 L1611.6,2066.4 L1612.6,2066.4 L1613.6,2066.3 L1614.6,2066.3 L1615.6,2066.3 L1616.6,2066.3 L1617.6,2066.3 L1618.6,2066.2 L1619.6,2066.2 L1620.6,2066.2 L1621.6,2066.2 L1622.6,2066.2 L1623.6,2066.1 L1624.6,2066.1 L1625.6,2066.1 L1626.6,2066.1 L1627.6,2066.1 L1628.6,2066.1" stroke="#ff00f0" stroke-width="10.4"/>
</g>
<g id="markers">
<line x1="888.5" y1="139.6" x2="888.5" y2="343" stroke="#000" stroke-opacity="0.8" stroke-width="5.2" stroke-dasharray="10.5 5.2"/>
<line x1="1025.8" y1="207" x2="1025.8" y2="426" stroke="#000" stroke-opacity="0.95" stroke-width="3.6" stroke-dasharray="10 6"/>
<line x1="713" y1="351.4" x2="713" y2="587.5" stroke="#000" stroke-opacity="0.8" stroke-width="5.4" stroke-dasharray="10.5 6.1"/>
<line x1="1092.1" y1="1083.8" x2="1092.1" y2="2026.5" stroke="#000" stroke-opacity="0.95" stroke-width="3.8" stroke-dasharray="10.5 7"/>
<line x1="799.5" y1="1914.2" x2="799.5" y2="2027" stroke="#000" stroke-opacity="0.8" stroke-width="5" stroke-dasharray="7 14"/>
</g>
<g id="axes" stroke="#000" fill="none">
<rect x="147.6" y="42.0" width="1481.9" height="2106.7" stroke-width="7.6"/>
<line x1="282.3" y1="2148.7" x2="282.3" y2="2180" stroke-width="7.0"/>
<line x1="450.7" y1="2148.7" x2="450.7" y2="2166.5" stroke-width="7.0"/>
<line x1="619.1" y1="2148.7" x2="619.1" y2="2180" stroke-width="7.0"/>
<line x1="787.5" y1="2148.7" x2="787.5" y2="2166.5" stroke-width="7.0"/>
<line x1="955.9" y1="2148.7" x2="955.9" y2="2180" stroke-width="7.0"/>
<line x1="1124.3" y1="2148.7" x2="1124.3" y2="2166.5" stroke-width="7.0"/>
<line x1="1292.7" y1="2148.7" x2="1292.7" y2="2180" stroke-width="7.0"/>
<line x1="1461.1" y1="2148.7" x2="1461.1" y2="2166.5" stroke-width="7.0"/>
<line x1="1629.5" y1="2148.7" x2="1629.5" y2="2180" stroke-width="7.0"/>
</g>
<g id="labels" font-family="'Liberation Sans', sans-serif" font-weight="bold" fill="#000" text-anchor="middle" style="font-kerning:none;font-feature-settings:'kern' 0">
<text transform="translate(283.8 2259.4) scale(0.963 1)" font-size="83">350</text>
<text transform="translate(618.6 2259.4) scale(0.963 1)" font-size="83">400</text>
<text transform="translate(957.4 2259.4) scale(0.963 1)" font-size="83">450</text>
<text transform="translate(1294.2 2259.4) scale(0.963 1)" font-size="83">500</text>
<text transform="translate(1631.0 2259.4) scale(0.963 1)" font-size="83">550</text>
<text transform="translate(857.7 2375.4) scale(0.968 1)" font-size="83">Temperature (K)</text>
<text transform="translate(901.7 131.3) scale(0.966 1)" font-size="76.5">440</text>
<text transform="translate(1042.8 192.2) scale(0.966 1)" font-size="76.5">460</text>
<text transform="translate(726.1 336.1) scale(0.966 1)" font-size="76.5">414</text>
<text transform="translate(1457.3 622.6) scale(0.966 1)" font-size="76.5">O-573</text>
<text transform="translate(637.6 853.1) scale(0.966 1)" font-size="76.5">401</text>
<text transform="translate(1099.7 1033) scale(0.966 1)" font-size="76.5">470</text>
<text transform="translate(1469.0 1342.2) scale(0.966 1)" font-size="76.5">A-800</text>
<text transform="translate(615.2 1529.3) scale(0.966 1)" font-size="76.5">399</text>
<text transform="translate(806.5 1896.7) scale(0.966 1)" font-size="76.5">426</text>
<text transform="translate(1469.5 2041) scale(0.966 1)" font-size="76.5">A-1000</text>
<text transform="translate(91.6 1111.7) rotate(-90) scale(1 1.03)" font-size="83.5" letter-spacing="-0.5">Intensity (Arb. Unit)</text>
</g>
</g>
</svg>
</body>
</html>
